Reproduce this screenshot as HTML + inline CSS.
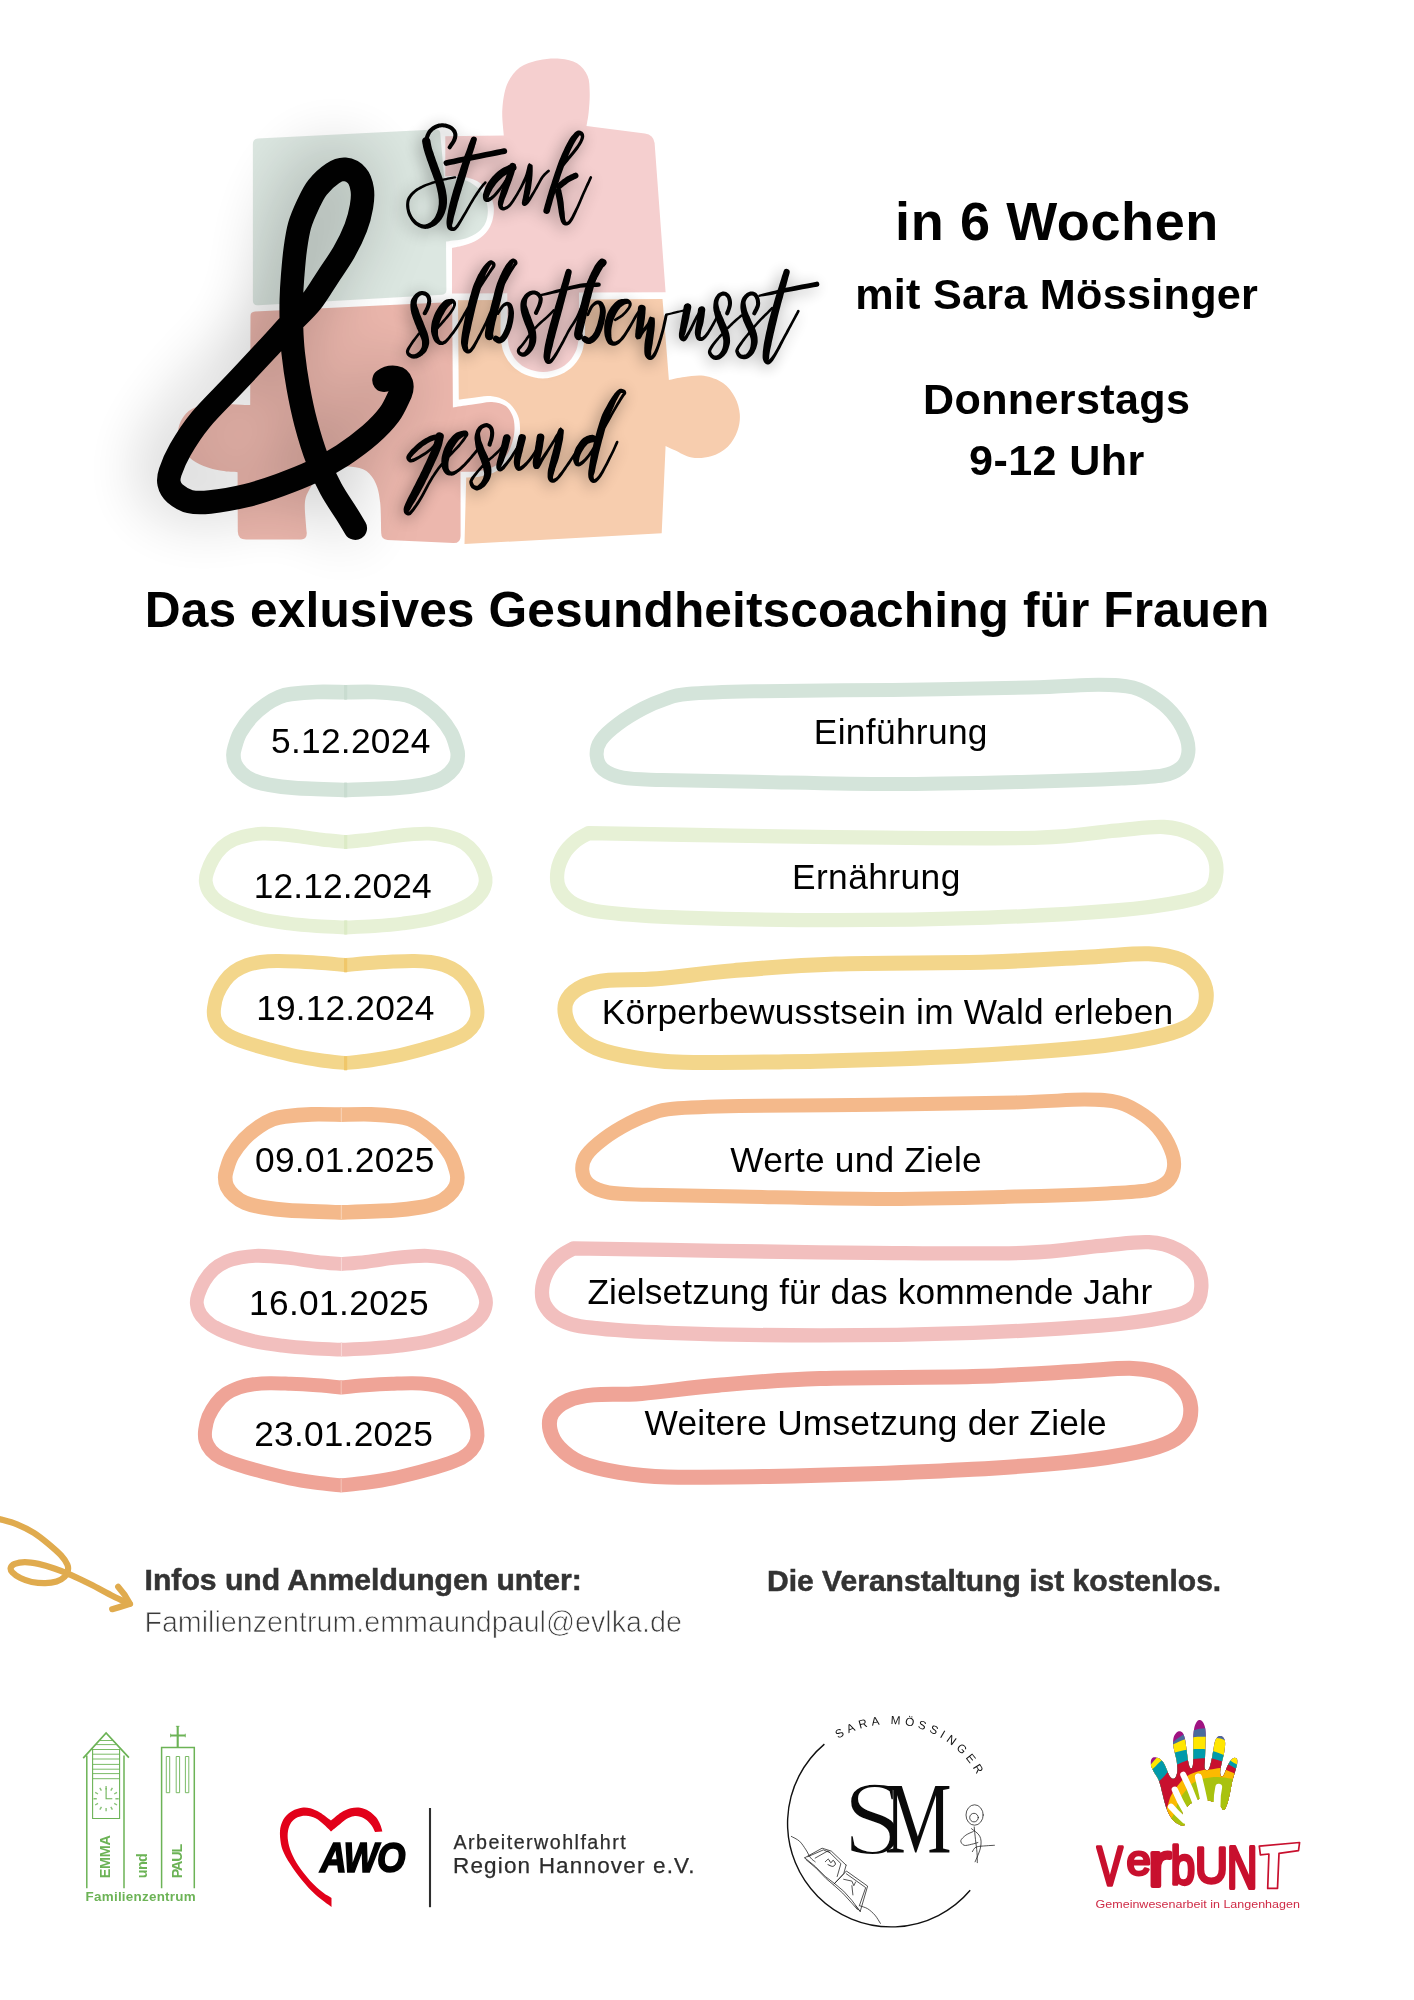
<!DOCTYPE html>
<html lang="de">
<head>
<meta charset="utf-8">
<title>Stark, selbstbewusst &amp; gesund</title>
<style>
html,body{margin:0;padding:0;background:#fff;}
body{width:1414px;height:2000px;overflow:hidden;position:relative;font-family:"Liberation Sans",sans-serif;}
svg{position:absolute;left:0;top:0;display:block;}
text{font-family:"Liberation Sans",sans-serif;}
.b{font-weight:bold;}
.serif{font-family:"Liberation Serif",serif;}
</style>
</head>
<body>
<svg id="page" width="1414" height="2000" viewBox="0 0 1414 2000">
<g opacity="0.999">
<!-- header art -->
<defs>
<filter id="glowA" x="-100%" y="-60%" width="300%" height="220%" color-interpolation-filters="sRGB"><feGaussianBlur stdDeviation="34"/></filter>
<filter id="glowT" x="-20%" y="-40%" width="140%" height="180%" color-interpolation-filters="sRGB"><feGaussianBlur stdDeviation="8"/></filter>
</defs>
<g id="puzzle">
<path d="M252.9 144.0Q252.9 138.9 258.0 138.5L421.0 130.2L436.0 129.4Q440.0 129.3 440.2 133.0L444.3 179.2L444.3 179.2C447.5 179.3 458.1 178.8 463.4 180.0C468.7 181.2 472.6 183.6 476.1 186.4C479.6 189.2 482.7 193.1 484.6 197.0C486.6 200.9 487.6 205.4 487.8 209.7C488.0 213.9 487.3 218.8 485.7 222.5C484.1 226.2 481.6 229.3 478.2 232.0C474.8 234.7 469.7 237.0 465.5 238.4C461.3 239.8 456.1 240.0 452.8 240.5C449.6 241.0 447.1 241.4 446.0 241.6L446.4 290.0Q446.4 294.3 442.0 294.7L258.0 305.2Q252.9 305.4 252.9 300.5Z" fill="#dce7e1"/>
<path d="M445.3 136.2L503.8 135.5L503.8 135.5C503.6 131.2 501.8 118.5 502.3 110.0C502.8 101.5 504.1 91.7 507.0 84.6C509.9 77.5 514.4 71.7 519.7 67.6C525.0 63.5 532.1 61.7 538.8 60.2C545.5 58.7 553.6 58.2 560.0 58.7C566.4 59.2 572.4 60.4 577.0 63.3C581.6 66.2 585.5 71.1 587.6 76.1C589.7 81.0 589.5 87.0 589.7 93.0C589.9 99.0 589.2 106.6 588.7 112.1C588.2 117.6 586.9 123.6 586.5 125.9L644.9 133.4Q653.5 134.5 654.6 143.0L665.6 292.3L579.0 292.6L579.0 336.0L579.0 336.0C578.6 338.2 578.1 345.3 576.5 349.5C574.9 353.7 572.5 357.8 569.5 361.0C566.5 364.2 562.9 367.0 558.5 368.8C554.1 370.6 548.3 372.0 543.2 372.0C538.1 372.0 532.2 370.6 527.8 368.8C523.4 367.0 519.8 364.2 516.8 361.0C513.8 357.8 511.4 353.7 509.8 349.5C508.2 345.3 507.7 338.2 507.3 336.0L507.3 293.2L452.0 293.4L452.0 248.0L452.0 248.0C454.2 247.5 460.7 246.4 465.0 245.0C469.3 243.6 474.2 242.0 478.0 239.5C481.8 237.0 485.5 233.6 488.0 230.0C490.5 226.4 492.1 222.2 493.0 218.0C493.9 213.8 494.3 209.5 493.5 205.0C492.7 200.5 490.8 195.0 488.0 191.0C485.2 187.0 481.3 183.4 477.0 181.0C472.7 178.6 467.3 177.3 462.0 176.5C456.7 175.7 448.1 176.3 445.3 176.3Z" fill="#f5cfcf"/>
<path d="M250.5 316.0Q250.5 311.9 255.0 311.6L448.0 302.2Q452.0 302.0 452.2 306.0L452.9 407.4L452.9 407.4C455.9 407.0 464.5 405.7 471.0 404.8C477.5 403.9 486.1 401.7 491.9 401.9C497.7 402.1 502.2 403.6 505.7 406.0C509.1 408.4 511.1 412.6 512.6 416.1C514.1 419.6 514.4 423.4 514.5 427.2C514.6 431.0 514.1 435.0 513.1 439.1C512.1 443.2 510.5 448.3 508.5 452.0C506.5 455.7 503.9 458.6 501.1 461.2C498.3 463.8 495.7 465.9 491.9 467.6C488.1 469.3 483.3 470.6 478.1 471.3C472.9 472.0 463.4 471.7 460.5 471.8L460.6 536.0Q460.6 543.3 453.4 543.1L387.6 539.9Q381.3 539.6 381.2 533.0L381.2 533.0C381.0 528.0 381.1 511.0 380.2 502.8C379.3 494.6 378.2 489.0 375.9 483.7C373.6 478.4 370.4 473.8 366.4 471.0C362.3 468.2 356.9 467.2 351.6 466.7C346.3 466.2 339.9 466.4 334.6 467.8C329.3 469.2 323.9 471.5 319.7 475.2C315.4 478.9 311.6 485.4 309.1 490.0C306.6 494.6 305.4 497.1 304.9 502.8C304.4 508.5 305.6 519.0 305.9 524.0C306.2 529.0 306.6 531.5 306.8 533.0Q306.8 539.3 301.0 539.5L246.0 539.5Q238.0 539.5 237.8 531.5L237.6 472.2L237.6 472.2C235.0 472.0 227.6 471.9 221.9 470.8C216.2 469.8 209.0 468.1 203.6 465.9C198.2 463.7 193.2 460.9 189.4 457.4C185.6 453.9 182.9 449.2 181.0 445.0C179.1 440.8 177.8 436.3 178.0 432.0C178.2 427.7 179.7 422.8 182.0 419.0C184.3 415.2 187.3 411.5 192.0 409.0C196.7 406.5 202.7 404.8 210.0 404.0C217.3 403.2 229.4 404.2 236.1 404.4C242.8 404.6 247.8 405.0 250.2 405.1Z" fill="#ecb7ad"/>
<path d="M458.0 300.3L500.5 300.0L500.5 336.0L500.5 336.0C501.0 338.7 501.6 347.1 503.5 352.0C505.4 356.9 508.4 361.8 512.0 365.5C515.6 369.2 519.9 372.3 525.0 374.5C530.1 376.7 536.9 378.5 542.8 378.5C548.7 378.5 555.5 376.7 560.6 374.5C565.7 372.3 570.0 369.2 573.6 365.5C577.2 361.8 580.1 356.9 582.0 352.0C583.9 347.1 584.5 338.7 585.0 336.0L585.0 299.5L662.5 299.0L668.9 380.0L668.9 380.0C671.5 379.5 678.7 377.7 684.5 377.0C690.3 376.3 697.3 374.8 703.7 375.8C710.1 376.8 717.8 379.4 723.0 383.0C728.2 386.6 732.2 392.2 735.0 397.4C737.8 402.6 739.4 408.7 739.8 414.3C740.2 419.9 739.4 425.7 737.4 431.1C735.4 436.5 732.2 442.5 727.8 446.7C723.4 450.9 717.0 454.5 711.0 456.3C705.0 458.1 697.7 458.6 691.7 457.6C685.7 456.6 679.2 452.2 674.9 450.3C670.5 448.4 667.1 446.7 665.6 446.0L661.7 533.3L464.5 544.1L466.2 477.5L466.2 477.5C468.4 477.4 474.7 477.5 479.1 476.8C483.6 476.1 488.8 474.9 492.9 473.1C497.0 471.3 500.5 468.9 503.9 465.8C507.3 462.8 510.7 458.9 513.1 454.8C515.6 450.7 517.5 445.6 518.6 441.0C519.8 436.4 520.1 431.5 520.0 427.2C519.9 422.9 519.3 419.0 517.7 415.2C516.1 411.4 513.4 407.1 510.3 404.2C507.2 401.3 503.1 399.2 499.3 397.8C495.5 396.4 491.6 395.9 487.3 395.9C483.0 395.9 478.2 397.2 473.5 397.8C468.8 398.4 461.2 399.3 458.8 399.6Z" fill="#f7cdae"/>
</g>
<path d="M355.3 528.1C353.9 525.8 351.0 520.8 346.9 514.3C342.8 507.7 335.8 498.0 330.9 488.8C325.9 479.6 321.4 470.1 317.2 459.1C313.0 448.2 309.1 435.1 305.9 423.1C302.7 411.1 300.2 398.7 298.1 387.0C296.0 375.3 294.3 363.0 293.2 353.0C292.1 343.0 291.8 335.9 291.5 327.0C291.2 318.1 291.1 308.1 291.3 299.7C291.5 291.3 291.9 284.9 292.6 276.4C293.3 267.9 294.1 257.3 295.3 248.8C296.5 240.3 297.5 232.9 299.6 225.5C301.7 218.1 305.1 210.7 308.1 204.3C311.1 197.9 313.5 192.4 317.6 187.3C321.7 182.2 328.0 176.5 332.5 173.5C337.0 170.5 340.7 169.0 344.8 169.3C348.9 169.7 354.0 172.2 356.9 175.6C359.8 178.9 361.4 184.3 362.2 189.4C363.0 194.5 362.6 200.0 361.5 206.4C360.4 212.8 358.7 220.0 355.8 227.6C352.9 235.2 348.7 243.9 344.1 252.0C339.5 260.1 333.7 268.1 328.2 276.4C322.7 284.7 317.6 293.9 311.2 301.9C304.8 309.8 297.4 316.2 290.0 324.1C282.6 332.1 275.9 339.7 266.7 349.6C257.5 359.5 245.9 371.8 234.9 383.5C223.9 395.2 209.6 408.9 200.5 419.9C191.4 430.9 185.3 440.9 180.3 449.6C175.3 458.3 172.2 466.2 170.3 471.9C168.4 477.5 168.3 479.9 169.1 483.5C169.9 487.1 171.5 490.5 175.0 493.5C178.5 496.5 184.1 500.2 189.9 501.6C195.7 503.0 200.6 503.0 210.0 502.0C219.4 501.0 234.4 498.4 246.1 495.6C257.8 492.8 268.7 489.1 280.0 485.0C291.3 480.9 303.6 476.1 314.0 471.2C324.4 466.2 333.2 461.4 342.6 455.3C352.0 449.2 362.4 441.5 370.2 434.7C378.0 427.9 384.2 421.5 389.3 414.6C394.4 407.7 398.6 396.9 400.5 393.4C403.5 386 401.5 378.5 395.5 377.5C391 376.8 387 378 384.0 380.2" fill="none" stroke="#000" stroke-width="23.5" stroke-linecap="round" stroke-linejoin="round" filter="url(#glowA)" opacity="0.34" transform="translate(-8,-5)"/>
<g filter="url(#glowT)" opacity="0.4" transform="translate(-2,3)"><g fill="#000" stroke="none"><path d="M451.3 148.5L451.8 147.8L452.6 146.6L453.5 145.3L454.5 143.8L455.4 142.3L456.1 140.9L456.6 139.6L457.0 138.4L457.2 137.1L457.4 135.8L457.4 134.5L457.2 133.2L456.8 131.9L456.3 130.6L455.6 129.5L454.7 128.4L453.8 127.4L452.7 126.4L451.5 125.7L450.1 125.0L448.7 124.4L447.2 124.0L445.8 123.6L444.4 123.4L443.0 123.3L441.6 123.3L440.1 123.4L438.8 123.6L437.4 123.9L436.0 124.4L434.7 125.0L433.4 125.7L432.1 126.5L430.9 127.4L429.8 128.5L428.7 129.6L427.8 130.8L427.0 132.1L426.3 133.4L425.7 134.8L425.2 136.2L424.7 137.7L424.4 139.2L424.1 140.9L423.9 142.6L423.8 144.2L423.7 145.4L423.7 146.3A2.0 2.0 0 0 0 427.7 146.7L427.8 145.7L427.9 144.5L428.0 143.0L428.2 141.5L428.4 140.0L428.7 138.7L429.1 137.6L429.5 136.4L430.0 135.2L430.6 134.1L431.2 133.1L431.9 132.2L432.6 131.4L433.5 130.6L434.5 129.9L435.5 129.2L436.5 128.7L437.6 128.2L438.6 127.9L439.6 127.6L440.6 127.4L441.7 127.3L442.8 127.3L443.8 127.4L445.0 127.6L446.1 127.9L447.3 128.3L448.5 128.7L449.5 129.2L450.3 129.8L451.0 130.3L451.6 131.0L452.2 131.8L452.6 132.5L453.0 133.3L453.2 134.0L453.3 134.8L453.3 135.5L453.2 136.4L453.0 137.3L452.7 138.3L452.3 139.3L451.8 140.4L451.0 141.7L450.1 143.0L449.2 144.3L448.5 145.4L447.9 146.3A2.0 2.0 0 0 0 451.3 148.5Z"/><path d="M422.1 141.8L422.3 142.5L422.4 143.5L422.7 144.7L422.9 146.1L423.2 147.6L423.6 149.0L424.0 150.4L424.4 151.8L424.8 153.2L425.3 154.7L425.8 156.2L426.4 157.9L427.0 159.9L427.8 162.0L428.6 164.2L429.4 166.4L430.2 168.7L431.0 170.9L431.8 173.1L432.6 175.3L433.4 177.4L434.2 179.6L434.9 181.6L435.5 183.6L436.1 185.6L436.6 187.6L437.1 189.5L437.5 191.4L437.9 193.2L438.2 194.9L438.4 196.6L438.6 198.2L438.8 199.7L438.8 201.2L438.8 202.6L438.8 204.0L438.6 205.4L438.4 206.8L438.2 208.2L437.9 209.6L437.5 210.9L437.1 212.2L436.6 213.4L436.1 214.6L435.6 215.8L435.0 216.9L434.3 218.0L433.6 218.9L432.8 219.7L432.0 220.6L431.2 221.4L430.3 222.2L429.3 222.8L428.4 223.3L427.5 223.7L426.7 224.0L425.9 224.3L425.1 224.5L424.3 224.5L423.4 224.4L422.4 224.2L421.3 223.9L420.1 223.4L418.9 222.8L417.8 222.2L416.8 221.4L415.8 220.5L414.9 219.5L413.9 218.4L413.0 217.2L412.2 216.0L411.6 214.8L411.0 213.5L410.5 212.3L410.1 211.0L409.8 209.7L409.5 208.4L409.4 207.1L409.3 205.7L409.2 204.4L409.3 203.1L409.4 201.9L409.7 200.7L410.1 199.5L410.7 198.4L411.4 197.2L412.3 196.0L413.3 194.8L414.4 193.7L415.6 192.6L416.9 191.6L418.2 190.6L419.6 189.7L421.1 188.9L422.7 188.0L424.4 187.2L426.3 186.3L428.4 185.5L430.6 184.7L432.9 183.9L435.1 183.2L437.1 182.5L439.1 181.9L441.0 181.4L442.9 181.0L444.7 180.5L446.4 180.2L448.0 179.8L449.6 179.5L451.0 179.2L452.4 178.9L453.6 178.7L454.6 178.5L455.4 178.4A1.1 1.1 0 0 0 455.0 176.2L454.2 176.3L453.2 176.5L452.0 176.7L450.6 177.0L449.1 177.3L447.6 177.6L446.0 178.0L444.2 178.3L442.4 178.7L440.5 179.2L438.5 179.7L436.5 180.3L434.4 180.9L432.1 181.6L429.8 182.4L427.6 183.2L425.4 184.0L423.4 184.8L421.5 185.7L419.8 186.5L418.2 187.4L416.6 188.3L415.2 189.3L413.8 190.4L412.5 191.6L411.2 192.8L410.0 194.1L409.0 195.4L408.0 196.8L407.3 198.3L406.7 199.8L406.4 201.3L406.2 202.9L406.1 204.4L406.1 205.9L406.2 207.3L406.4 208.8L406.7 210.3L407.0 211.8L407.4 213.3L408.0 214.8L408.6 216.2L409.4 217.6L410.2 219.1L411.1 220.5L412.1 221.8L413.2 223.1L414.4 224.2L415.7 225.2L417.0 226.1L418.4 226.9L419.8 227.6L421.2 228.2L422.6 228.6L424.0 228.8L425.3 228.9L426.6 228.8L427.9 228.7L429.2 228.3L430.4 227.9L431.7 227.3L433.0 226.7L434.4 226.0L435.7 225.2L437.0 224.2L438.2 223.1L439.3 221.9L440.3 220.7L441.4 219.4L442.3 218.0L443.2 216.6L443.9 215.0L444.6 213.4L445.2 211.8L445.7 210.1L446.2 208.4L446.6 206.6L446.8 204.8L447.0 202.9L447.0 201.1L447.0 199.3L446.9 197.4L446.7 195.6L446.4 193.7L446.1 191.7L445.7 189.6L445.2 187.6L444.7 185.5L444.1 183.3L443.5 181.2L442.8 179.0L442.0 176.8L441.2 174.6L440.4 172.4L439.6 170.2L438.8 168.1L438.0 165.9L437.2 163.6L436.4 161.4L435.6 159.2L434.9 157.1L434.2 155.3L433.7 153.6L433.2 152.1L432.7 150.7L432.3 149.4L431.9 148.2L431.6 147.0L431.3 145.7L431.1 144.5L430.8 143.2L430.6 142.0L430.4 141.0L430.3 140.2A4.2 4.2 0 0 0 422.1 141.8Z"/><path d="M471.2 138.1L470.8 139.0L470.3 140.3L469.7 141.8L469.0 143.5L468.3 145.3L467.7 147.2L467.0 149.3L466.2 151.4L465.3 153.8L464.4 156.1L463.6 158.6L462.7 161.0L462.0 163.4L461.1 165.8L460.3 168.3L459.5 170.7L458.7 173.2L457.9 175.6L457.1 178.1L456.4 180.5L455.6 183.0L454.8 185.4L454.0 187.9L453.2 190.4L452.5 192.9L451.8 195.4L451.1 198.0L450.5 200.5L449.8 203.0L449.2 205.4L448.7 207.7L448.2 210.1L447.8 212.4L447.4 214.6L447.1 216.7L446.8 218.5L446.6 220.2L446.5 221.7L446.5 223.2L446.6 224.5L446.8 225.9L447.1 227.2L447.6 228.5L448.5 229.6L449.6 230.3L450.7 230.8L451.8 231.0L452.8 231.1L453.7 231.0L454.7 230.8L455.6 230.2L456.4 229.5L457.2 228.6L458.2 227.4L459.2 225.9L460.4 224.1L461.6 222.0L462.9 219.8L464.2 217.5L465.5 215.2L467.0 212.7L468.5 210.0L470.1 207.3L471.6 204.5L473.2 201.9L474.6 199.6L475.9 197.4L477.3 195.4L478.5 193.5L479.8 191.7L480.9 190.1L481.9 188.7L482.9 187.4L483.8 186.3L484.6 185.3L485.4 184.5L486.0 183.8L486.5 183.2A1.3 1.3 0 0 0 484.5 181.6L484.1 182.1L483.5 182.8L482.7 183.6L481.8 184.6L480.9 185.8L479.9 187.1L478.8 188.6L477.7 190.3L476.4 192.1L475.1 194.0L473.8 196.0L472.4 198.2L471.0 200.6L469.4 203.2L467.8 206.0L466.2 208.7L464.7 211.4L463.3 213.8L461.9 216.1L460.5 218.4L459.2 220.6L457.9 222.6L456.8 224.2L455.8 225.6L455.0 226.5L454.3 227.1L453.8 227.3L453.5 227.3L453.3 227.3L453.0 227.3L452.7 227.2L452.5 227.0L452.3 226.7L452.2 226.3L452.2 226.0L452.1 225.8L452.1 225.3L452.2 224.6L452.5 223.7L452.8 222.6L453.1 221.2L453.4 219.7L453.7 217.9L454.2 216.0L454.8 213.9L455.4 211.7L456.0 209.5L456.6 207.2L457.2 204.9L457.8 202.5L458.6 200.1L459.3 197.6L460.0 195.1L460.8 192.6L461.5 190.2L462.2 187.8L463.0 185.3L463.7 182.9L464.5 180.4L465.3 178.0L466.0 175.5L466.8 173.0L467.5 170.5L468.2 168.0L468.9 165.6L469.7 163.2L470.4 160.8L471.2 158.4L471.9 156.0L472.6 153.6L473.3 151.4L473.9 149.4L474.6 147.5L475.1 145.6L475.7 143.9L476.1 142.3L476.5 141.0L476.8 140.1A3.0 3.0 0 0 0 471.2 138.1Z"/><path d="M447.0 165.8L450.1 165.1L454.4 164.2L459.5 163.1L464.9 162.0L470.4 160.8L475.6 159.8L480.7 158.7L486.4 157.6L492.0 156.5L497.2 155.4L501.7 154.5L504.9 153.9A2.8 2.8 0 0 0 503.7 148.3L500.5 149.0L496.1 149.8L490.9 150.9L485.2 152.0L479.6 153.2L474.4 154.2L469.3 155.3L463.8 156.4L458.3 157.6L453.2 158.7L448.9 159.6L445.8 160.2A2.8 2.8 0 0 0 447.0 165.8Z"/><path d="M511.0 164.1L510.1 164.6L508.8 165.1L507.1 165.9L505.4 166.7L503.6 167.6L501.9 168.6L500.4 169.5L499.0 170.5L497.7 171.6L496.3 172.7L495.0 173.9L493.8 175.2L492.5 176.5L491.3 177.9L490.1 179.5L489.0 181.0L487.9 182.5L487.0 184.1L486.1 185.7L485.3 187.4L484.7 189.0L484.2 190.6L483.7 192.0L483.3 193.3L483.0 194.5L482.9 195.7L482.9 196.8L483.0 197.9L483.3 198.9L483.6 199.9L484.2 200.8L485.0 201.5L486.1 202.0L487.3 202.1L488.4 201.9L489.4 201.6L490.4 201.0L491.4 200.3L492.4 199.5L493.5 198.5L494.6 197.4L495.8 196.2L497.0 194.9L498.2 193.5L499.4 191.9L500.7 190.2L501.9 188.5L503.2 186.8L504.5 185.0L505.8 183.0L507.1 181.0L508.4 179.1L509.5 177.2L510.5 175.7L511.3 174.3L512.0 173.0L512.6 171.9L513.1 170.9L513.4 170.2L513.7 169.6A1.3 1.3 0 0 0 511.5 168.4L511.2 169.0L510.8 169.8L510.3 170.7L509.8 171.8L509.1 173.0L508.3 174.3L507.3 175.9L506.2 177.7L504.9 179.6L503.6 181.5L502.3 183.5L501.0 185.2L499.8 186.9L498.5 188.5L497.2 190.1L496.0 191.6L494.7 193.0L493.6 194.2L492.5 195.2L491.4 196.1L490.4 196.8L489.4 197.3L488.6 197.8L488.0 198.0L487.7 198.1L487.6 198.0L487.8 197.8L488.1 197.8L488.3 197.9L488.4 197.9L488.4 197.9L488.5 197.7L488.7 197.3L488.9 196.8L489.2 196.1L489.5 195.3L489.9 194.2L490.4 193.0L491.1 191.7L491.8 190.4L492.5 189.1L493.2 187.9L494.1 186.7L495.0 185.4L496.0 184.1L497.1 182.8L498.2 181.6L499.2 180.4L500.3 179.4L501.4 178.4L502.4 177.5L503.6 176.6L504.7 175.8L505.9 175.0L507.2 174.3L508.7 173.5L510.3 172.8L511.8 172.1L513.2 171.5L514.2 171.1A3.8 3.8 0 0 0 511.0 164.1Z"/><path d="M509.3 165.4L509.0 166.6L508.5 168.1L508.0 169.9L507.4 171.9L506.8 174.0L506.2 175.9L505.5 177.9L504.8 180.1L504.0 182.3L503.2 184.5L502.4 186.7L501.7 188.8L501.0 190.8L500.4 192.8L499.8 194.9L499.2 196.8L498.7 198.6L498.3 200.2L498.0 201.6L497.9 202.8L497.9 204.0L498.0 205.1L498.3 206.1L498.6 207.2L499.0 208.1L499.7 209.0L500.6 209.7L501.7 210.2L502.9 210.5L504.1 210.4L505.3 210.1L506.4 209.6L507.6 208.9L508.8 208.0L510.1 206.9L511.4 205.5L512.7 203.8L514.1 201.8L515.5 199.5L517.0 197.1L518.4 194.7L519.7 192.3L521.1 190.0L522.5 187.5L523.8 184.9L525.1 182.4L526.3 179.9L527.4 177.6L528.4 175.1L529.4 172.5L530.3 170.0L531.1 167.9L531.7 166.5L531.1 166.9L528.1 165.7L528.0 166.6L527.7 168.4L527.3 170.5L527.0 172.8L526.7 174.9L526.5 176.9L526.2 179.0L525.8 181.1L525.4 183.3L525.1 185.4L524.7 187.5L524.4 189.4L524.0 191.5L523.7 193.4L523.3 195.3L523.0 197.0L522.7 198.4L522.4 199.4L522.2 200.4L522.1 201.3L521.9 202.1L521.8 203.2L522.3 205.0L523.8 205.9L525.0 205.9L526.1 205.5L527.1 204.8L528.0 203.9L529.0 202.8L530.1 201.3L531.2 199.4L532.5 197.3L533.8 195.0L535.1 192.7L536.3 190.6L537.6 188.4L538.9 186.0L540.1 183.7L541.3 181.5L542.5 179.5L543.6 177.8L544.7 176.4L545.8 175.2L546.8 174.2L547.9 173.3L548.7 172.6L549.4 172.0A1.3 1.3 0 0 0 547.6 170.0L547.0 170.6L546.1 171.3L545.1 172.2L543.9 173.3L542.6 174.7L541.4 176.2L540.2 178.1L539.0 180.2L537.8 182.5L536.5 184.8L535.3 187.1L534.1 189.2L532.8 191.4L531.4 193.6L530.1 195.8L528.7 197.8L527.6 199.5L526.6 200.8L525.8 201.6L525.2 202.0L524.7 202.0L524.6 201.9L525.0 201.8L525.9 202.4L526.3 203.5L526.4 203.7L526.8 203.2L527.3 202.3L527.9 201.2L528.3 199.8L528.7 198.3L529.1 196.6L529.6 194.7L530.1 192.7L530.5 190.6L530.9 188.5L531.2 186.4L531.5 184.2L531.8 182.0L532.1 179.7L532.3 177.5L532.5 175.5L532.6 173.4L532.7 171.0L532.7 168.7L532.7 166.7L532.5 165.1L529.1 163.1L527.8 164.9L527.3 166.7L526.8 168.9L526.2 171.5L525.5 174.1L524.6 176.4L523.6 178.7L522.5 181.1L521.3 183.7L520.1 186.2L518.8 188.7L517.5 191.1L516.1 193.4L514.7 195.8L513.2 198.1L511.8 200.2L510.5 202.1L509.2 203.7L508.1 204.8L507.0 205.7L506.0 206.3L505.1 206.6L504.3 206.9L503.7 207.0L503.3 207.0L503.2 206.8L503.1 206.6L503.0 206.3L502.9 206.0L502.8 205.6L502.8 205.3L502.9 204.9L503.0 204.4L503.3 203.7L503.6 202.8L503.9 201.6L504.3 200.2L504.9 198.6L505.6 196.9L506.4 195.0L507.2 193.0L507.9 191.0L508.6 188.9L509.4 186.8L510.3 184.6L511.1 182.3L511.9 180.2L512.6 178.1L513.3 176.0L514.0 173.9L514.6 171.9L515.1 170.0L515.5 168.5L515.9 167.4A3.4 3.4 0 0 0 509.3 165.4Z"/><path d="M562.1 168.8L562.9 167.8L564.0 166.4L565.3 164.8L566.7 163.1L568.2 161.3L569.5 159.6L570.9 157.9L572.3 156.2L573.8 154.4L575.2 152.7L576.6 151.0L577.8 149.4L578.8 148.0L579.7 146.6L580.6 145.3L581.3 144.1L582.0 142.9L582.5 141.8L583.0 140.7L583.4 139.7L583.8 138.8L584.0 137.8L584.2 136.9L584.2 136.0L584.1 135.0L583.9 134.1L583.5 133.3L583.0 132.5L582.4 131.8L581.7 131.4L581.0 131.1L580.3 130.7L579.2 130.5L578.0 130.6L576.8 131.0L575.7 131.7L574.7 132.6L573.7 133.7L572.6 134.9L571.4 136.2L570.3 137.8L569.2 139.5L568.1 141.4L567.0 143.5L565.8 145.7L564.7 148.0L563.6 150.4L562.5 152.7L561.5 154.9L560.6 157.2L559.6 159.5L558.7 161.8L557.8 164.2L556.9 166.7L556.0 169.4L555.0 172.2L554.1 175.0L553.1 177.9L552.2 180.7L551.4 183.4L550.5 186.0L549.7 188.6L548.9 191.1L548.2 193.5L547.4 195.9L546.8 198.2L546.1 200.4L545.5 202.7L544.8 204.9L544.3 206.9L543.9 208.5L543.5 209.7A3.3 3.3 0 0 0 549.9 211.5L550.2 210.2L550.6 208.6L551.2 206.6L551.8 204.5L552.4 202.2L553.0 200.0L553.7 197.8L554.4 195.5L555.2 193.1L556.0 190.6L556.8 188.0L557.6 185.4L558.5 182.7L559.4 179.9L560.3 177.1L561.2 174.2L562.2 171.5L563.1 168.9L564.0 166.5L564.9 164.1L565.7 161.9L566.6 159.7L567.5 157.5L568.5 155.3L569.5 153.1L570.5 150.8L571.6 148.6L572.6 146.4L573.6 144.4L574.6 142.7L575.5 141.2L576.4 139.8L577.2 138.5L578.0 137.4L578.7 136.5L579.3 135.9L579.6 135.6L579.6 135.5L579.4 135.4L579.4 135.2L579.5 135.2L579.7 135.2L579.9 135.3L580.0 135.3L580.3 135.4L580.5 135.7L580.7 135.9L580.8 136.2L580.8 136.6L580.7 137.2L580.6 137.9L580.4 138.6L580.1 139.5L579.7 140.4L579.2 141.4L578.6 142.5L577.9 143.7L577.1 144.9L576.2 146.2L575.2 147.6L574.1 149.1L572.8 150.7L571.4 152.4L569.9 154.2L568.4 155.9L567.1 157.6L565.7 159.3L564.3 161.1L562.9 162.8L561.6 164.5L560.5 165.8L559.7 166.8A1.6 1.6 0 0 0 562.1 168.8Z"/><path d="M574.3 172.9L573.4 173.3L572.2 173.9L570.7 174.6L569.0 175.4L567.3 176.3L565.7 177.3L564.1 178.4L562.4 179.6L560.8 180.9L559.3 182.1L558.1 183.2L557.2 183.9A3.0 3.0 0 0 0 561.0 188.5L561.9 187.8L563.1 186.8L564.6 185.6L566.1 184.4L567.6 183.2L568.9 182.3L570.2 181.5L571.7 180.7L573.3 180.0L574.7 179.3L576.0 178.7L576.9 178.3A3.0 3.0 0 0 0 574.3 172.9Z"/><path d="M554.9 191.5L555.1 192.6L555.5 194.1L555.9 195.8L556.3 197.7L556.7 199.6L557.1 201.4L557.3 203.1L557.6 205.0L557.9 206.8L558.2 208.7L558.5 210.6L558.7 212.3L559.0 214.0L559.3 215.6L559.7 217.2L560.1 218.8L560.5 220.2L560.9 221.5L561.4 222.6L562.1 223.6L562.8 224.4L563.8 225.0L564.9 225.4L565.9 225.6L566.9 225.5L567.8 225.2L568.9 224.7L569.9 223.9L570.8 222.9L571.9 221.6L572.9 219.9L574.1 217.7L575.2 215.4L576.4 212.9L577.6 210.3L578.7 207.9L579.8 205.5L580.9 203.1L581.9 200.6L583.0 198.1L584.0 195.6L585.1 193.1L586.3 190.5L587.6 187.6L589.0 184.7L590.2 182.0L591.2 179.7L592.0 178.1A1.3 1.3 0 0 0 589.6 176.9L588.8 178.6L587.8 180.9L586.5 183.6L585.2 186.5L583.9 189.4L582.7 192.1L581.6 194.6L580.5 197.1L579.5 199.5L578.4 202.0L577.3 204.4L576.3 206.7L575.1 209.1L573.9 211.6L572.6 214.1L571.4 216.4L570.3 218.3L569.3 219.8L568.5 220.8L567.8 221.4L567.2 221.7L566.8 221.8L566.4 221.8L566.1 221.8L566.0 221.8L566.0 221.7L566.0 221.5L565.9 221.2L565.7 220.6L565.5 219.9L565.2 219.0L565.0 217.8L564.9 216.4L564.8 214.8L564.7 213.2L564.5 211.5L564.2 209.8L564.1 208.0L563.9 206.1L563.8 204.2L563.6 202.3L563.3 200.4L563.0 198.5L562.6 196.4L562.2 194.5L561.8 192.7L561.5 191.2L561.3 190.1A3.3 3.3 0 0 0 554.9 191.5Z"/><path d="M426.6 314.2L427.0 313.5L427.5 312.5L428.1 311.4L428.8 310.1L429.4 308.8L429.9 307.5L430.3 306.3L430.7 305.1L430.9 303.9L431.1 302.6L431.3 301.4L431.2 300.2L431.1 299.0L430.9 297.8L430.5 296.6L430.0 295.5L429.3 294.5L428.5 293.5L427.5 292.7L426.4 292.1L425.3 291.6L424.0 291.2L422.7 291.0L421.4 291.0L420.1 291.2L418.9 291.6L417.7 292.2L416.5 292.9L415.5 293.7L414.6 294.7L413.7 295.8L412.9 296.9L412.0 298.2L411.3 299.6L410.7 301.2L410.5 302.9L410.4 304.6L410.4 306.4L410.5 308.1L410.7 309.9L411.0 311.6L411.4 313.4L412.0 315.3L412.6 317.2L413.3 319.2L414.0 321.1L414.7 323.0L415.4 324.8L416.2 326.6L416.9 328.4L417.7 330.1L418.4 331.7L419.1 333.3L419.6 334.7L420.1 336.2L420.7 337.6L421.2 338.8L421.6 339.9L421.9 340.9L422.0 341.9L422.0 342.8L422.0 343.9L422.0 344.9L421.9 346.0L421.7 346.9L421.4 347.8L421.0 348.5L420.6 349.3L420.1 350.1L419.5 350.8L418.9 351.5L418.3 352.1L417.6 352.6L417.0 353.0L416.3 353.4L415.6 353.8L415.0 354.0L414.4 354.2L413.8 354.2L413.2 354.3L412.6 354.3L412.1 354.2L411.6 354.1L411.2 353.9L410.7 353.6L410.2 353.2L409.7 352.8L409.3 352.4L409.1 352.0L409.1 351.5L409.2 350.9L409.5 350.0L410.0 348.9L410.6 347.7L411.4 346.5L412.1 345.2L413.0 343.9L413.9 342.6L414.9 341.2L415.9 339.7L417.0 338.3L418.0 337.0L419.1 335.6L420.2 334.2L421.4 332.8L422.4 331.5L423.3 330.4L424.0 329.6A1.3 1.3 0 0 0 422.0 328.0L421.4 328.8L420.5 329.9L419.4 331.2L418.2 332.6L417.1 334.0L416.0 335.4L415.0 336.8L413.9 338.2L412.8 339.6L411.7 341.0L410.7 342.4L409.9 343.8L409.1 345.0L408.2 346.3L407.4 347.5L406.7 348.7L406.2 350.0L405.9 351.3L406.0 352.6L406.3 353.8L406.9 354.9L407.5 355.8L408.3 356.5L409.0 357.1L409.9 357.6L410.9 358.1L411.9 358.4L412.9 358.6L414.0 358.7L415.0 358.6L416.1 358.4L417.2 358.2L418.3 357.8L419.3 357.3L420.4 356.8L421.3 356.1L422.3 355.4L423.2 354.6L424.2 353.8L425.2 352.8L426.1 351.7L426.8 350.4L427.4 349.1L428.0 347.7L428.5 346.3L428.9 344.8L429.2 343.2L429.2 341.5L429.1 339.9L428.8 338.2L428.5 336.6L428.1 335.1L427.7 333.6L427.2 332.1L426.6 330.4L425.9 328.7L425.2 326.9L424.5 325.2L423.8 323.5L423.2 321.8L422.4 320.0L421.6 318.1L420.9 316.3L420.1 314.5L419.5 312.8L419.0 311.2L418.5 309.6L417.9 308.1L417.4 306.8L417.0 305.5L416.8 304.3L416.7 303.3L416.8 302.4L416.9 301.4L417.1 300.4L417.4 299.4L417.7 298.4L418.2 297.7L418.8 297.0L419.3 296.4L420.0 295.9L420.6 295.5L421.3 295.2L421.8 295.0L422.4 295.0L423.1 295.2L423.8 295.4L424.6 295.7L425.2 296.1L425.7 296.5L426.0 296.9L426.4 297.4L426.7 298.1L426.9 298.8L427.1 299.6L427.2 300.4L427.2 301.2L427.1 302.1L426.9 303.1L426.7 304.1L426.4 305.1L426.1 306.1L425.7 307.1L425.1 308.3L424.5 309.4L423.9 310.6L423.4 311.5L423.0 312.2A2.0 2.0 0 0 0 426.6 314.2Z"/><path d="M437.8 329.7L438.5 328.9L439.4 327.8L440.6 326.5L441.8 325.2L443.0 323.7L444.2 322.4L445.4 321.0L446.6 319.6L447.8 318.2L449.0 316.7L450.2 315.3L451.2 314.0L452.1 312.7L452.9 311.4L453.7 310.2L454.4 309.0L455.0 307.8L455.4 306.8L455.8 305.7L456.0 304.8L456.1 303.9L456.0 303.0L455.8 302.3L455.6 301.6L455.2 300.9L454.7 300.2L454.0 299.5L453.1 299.0L452.0 298.7L451.0 298.7L450.0 298.9L448.9 299.0L447.7 299.2L446.3 299.6L444.9 300.3L443.5 301.2L442.3 302.4L441.2 303.7L440.0 305.0L438.9 306.4L437.9 307.9L437.0 309.4L436.1 310.9L435.3 312.5L434.5 314.2L433.8 315.9L433.2 317.7L432.6 319.4L432.1 321.1L431.7 322.8L431.4 324.5L431.2 326.3L431.0 328.0L431.0 329.7L431.0 331.4L431.3 333.1L431.7 334.7L432.2 336.3L432.7 337.7L433.2 339.1L433.8 340.3L434.6 341.4L435.5 342.4L436.5 343.2L437.5 343.9L438.4 344.5L439.4 344.9L440.5 345.1L441.6 345.1L442.8 344.9L443.8 344.6L444.9 344.1L445.9 343.4L446.9 342.5L447.8 341.6L448.7 340.5L449.7 339.3L450.7 338.0L451.8 336.6L453.0 335.1L454.3 333.4L455.6 331.6L456.9 329.7L458.2 327.7L459.4 325.7L460.7 323.6L462.0 321.4L463.2 319.2L464.6 316.8L465.9 314.5L467.3 312.0L468.7 309.5L470.2 306.9L471.6 304.3L473.1 301.7L474.6 299.1L476.1 296.5L477.7 293.8L479.3 291.2L480.8 288.6L482.3 286.1L483.8 283.7L485.2 281.5L486.6 279.4L488.0 277.3L489.3 275.4L490.5 273.6L491.6 272.0L492.4 270.7L493.2 269.7L493.9 268.7L494.5 267.9L495.1 267.0L495.4 266.0L495.6 265.0L495.5 263.9L495.2 263.0L494.7 262.3L494.1 261.7L493.6 261.4L493.1 261.1L492.5 260.7L491.6 260.3L490.4 260.3L489.1 260.7L488.0 261.4L487.0 262.4L485.9 263.5L484.8 264.7L483.7 266.1L482.6 267.5L481.6 268.9L480.8 270.3L479.9 271.7L479.1 273.2L478.2 274.6L477.5 276.0L476.8 277.5L476.1 279.0L475.5 280.4L474.8 281.9L474.1 283.5L473.4 285.2L472.7 287.3L472.0 289.6L471.3 292.1L470.5 294.8L469.7 297.6L468.9 300.6L468.1 303.6L467.3 306.8L466.5 310.3L465.7 313.9L464.9 317.5L464.2 320.9L463.6 324.1L463.0 327.1L462.5 330.0L462.0 332.8L461.6 335.5L461.3 337.9L461.1 340.1L461.0 342.1L461.1 343.8L461.4 345.2L461.7 346.5L462.1 347.7L462.4 348.7L462.9 349.8L463.5 350.9L464.3 351.8L465.2 352.6L466.3 353.2L467.5 353.6L468.7 353.6L469.7 353.2L470.7 352.7L471.6 351.9L472.5 350.9L473.4 349.8L474.4 348.4L475.4 346.7L476.4 344.7L477.5 342.7L478.6 340.5L479.8 338.4L481.0 336.1L482.2 333.6L483.5 331.1L484.8 328.5L486.0 326.0L487.1 323.6L488.2 321.3L489.2 319.1L490.1 316.9L491.0 314.8L491.8 312.7L492.7 310.7L493.5 308.8L494.2 306.9L494.9 305.1L495.7 303.4L496.4 301.6L497.3 299.7L498.2 297.7L499.2 295.6L500.2 293.5L501.3 291.4L502.4 289.3L503.4 287.2L504.5 285.2L505.6 283.2L506.7 281.1L507.8 279.2L508.8 277.3L509.8 275.5L510.8 273.8L511.8 272.1L512.8 270.5L513.8 269.0L514.6 267.7L515.3 266.6L515.8 265.9L516.2 265.4L516.5 265.1L516.9 264.8L517.2 264.2L517.5 263.5L517.5 262.7L517.4 261.9L517.2 261.2L516.8 260.5L516.3 259.9L515.8 259.5L515.3 259.3L514.8 258.9L513.9 258.6L512.7 258.5L511.4 258.9L510.4 259.7L509.4 260.6L508.4 261.7L507.4 263.0L506.3 264.3L505.3 265.7L504.5 267.2L503.7 268.6L502.9 270.1L502.1 271.6L501.3 273.2L500.6 274.7L499.9 276.1L499.4 277.5L498.8 278.8L498.2 280.2L497.6 281.7L496.9 283.4L496.3 285.4L495.6 287.7L494.9 290.3L494.2 293.1L493.5 295.9L492.7 298.9L492.0 301.8L491.2 304.8L490.4 308.0L489.6 311.3L488.8 314.5L488.0 317.5L487.4 320.3L486.8 322.8L486.3 325.1L485.9 327.3L485.5 329.3L485.2 331.0L485.0 332.6L484.9 334.1L484.9 335.5L485.1 336.6L485.4 337.5L485.5 337.7L485.5 337.8A4.2 4.2 0 0 0 493.5 335.8L493.4 335.3L493.2 334.8L493.2 334.8L493.2 334.7L493.2 334.3L493.2 333.6L493.4 332.3L493.7 330.7L494.0 328.9L494.4 326.8L494.9 324.5L495.4 322.1L496.1 319.5L496.8 316.5L497.6 313.3L498.4 310.0L499.3 306.8L500.0 303.8L500.8 300.9L501.5 297.9L502.2 295.1L502.8 292.3L503.5 289.8L504.1 287.6L504.6 285.8L505.1 284.2L505.5 282.9L505.9 281.6L506.3 280.3L506.9 278.9L507.4 277.3L507.9 275.8L508.3 274.2L508.8 272.7L509.3 271.3L509.9 270.0L510.6 268.7L511.3 267.3L511.9 266.0L512.6 264.7L513.2 263.7L513.6 263.1L513.8 263.0L513.6 262.9L513.4 262.9L513.4 262.8L513.6 262.8L513.8 262.9L513.9 262.9L513.9 262.8L514.0 262.8L514.1 262.9L514.1 262.9L514.1 262.9L514.2 262.8L514.2 262.8L514.1 263.0L513.8 263.4L513.3 264.1L512.7 265.0L512.0 266.1L511.2 267.4L510.3 269.0L509.4 270.6L508.4 272.4L507.4 274.1L506.4 275.9L505.3 277.8L504.2 279.8L503.1 281.9L502.0 283.9L501.0 286.0L499.9 288.0L498.8 290.1L497.8 292.3L496.7 294.4L495.7 296.5L494.7 298.5L493.9 300.5L493.1 302.3L492.4 304.1L491.7 305.9L490.9 307.7L490.1 309.7L489.3 311.7L488.4 313.7L487.6 315.8L486.6 318.0L485.7 320.2L484.7 322.4L483.5 324.8L482.3 327.3L481.0 329.8L479.7 332.4L478.4 334.8L477.2 337.0L476.1 339.2L474.9 341.3L473.8 343.3L472.7 345.1L471.7 346.6L470.8 347.8L470.0 348.7L469.4 349.2L468.8 349.5L468.5 349.5L468.3 349.5L468.3 349.4L468.4 349.4L468.4 349.3L468.3 348.9L468.2 348.4L468.1 347.7L468.0 347.1L467.8 346.3L467.8 345.5L467.8 344.7L468.0 343.7L468.1 342.4L468.3 340.9L468.6 338.9L469.0 336.7L469.5 334.2L470.2 331.5L470.8 328.7L471.4 325.7L472.1 322.6L472.9 319.2L473.7 315.7L474.5 312.2L475.3 308.8L476.1 305.6L476.9 302.6L477.6 299.8L478.4 297.0L479.1 294.4L479.8 291.9L480.5 289.7L481.1 287.8L481.6 286.2L482.0 284.7L482.5 283.3L483.0 281.9L483.6 280.5L484.2 279.0L484.7 277.5L485.2 276.1L485.7 274.7L486.3 273.3L487.0 272.1L487.7 270.8L488.5 269.3L489.2 267.9L490.0 266.6L490.7 265.6L491.2 265.0L491.4 264.8L491.3 264.7L491.2 264.6L491.1 264.5L491.3 264.5L491.6 264.6L491.8 264.7L491.9 264.8L492.1 264.9L492.1 264.9L492.2 264.9L492.2 265.2L492.0 265.6L491.7 266.2L491.3 266.9L490.7 267.9L489.9 269.0L489.0 270.4L488.0 271.9L486.9 273.7L485.6 275.7L484.2 277.8L482.8 280.0L481.4 282.3L479.9 284.6L478.4 287.1L476.9 289.8L475.3 292.4L473.7 295.1L472.2 297.7L470.7 300.3L469.2 302.9L467.8 305.6L466.3 308.2L464.9 310.7L463.5 313.1L462.2 315.5L460.9 317.8L459.6 320.0L458.3 322.2L457.1 324.3L455.8 326.3L454.6 328.1L453.3 330.0L452.0 331.7L450.8 333.3L449.6 334.8L448.5 336.2L447.5 337.4L446.5 338.5L445.6 339.4L444.7 340.2L444.0 340.7L443.3 341.1L442.7 341.4L442.2 341.4L441.7 341.3L441.3 341.2L441.0 341.0L440.6 340.7L440.2 340.4L439.8 339.9L439.5 339.2L439.2 338.5L438.9 337.7L438.6 336.9L438.3 336.0L438.1 334.9L438.0 333.6L438.0 332.4L438.0 331.1L438.0 329.9L438.1 328.6L438.4 327.4L438.7 326.0L439.1 324.6L439.6 323.2L440.0 321.8L440.5 320.4L441.1 319.0L441.8 317.6L442.5 316.1L443.3 314.8L444.0 313.4L444.8 312.1L445.5 310.8L446.3 309.6L447.1 308.4L447.8 307.5L448.5 306.8L449.0 306.2L449.6 305.7L450.2 305.1L450.8 304.6L451.5 304.3L452.0 304.1L452.2 304.0L452.3 303.8L452.3 303.5L452.4 303.3L452.5 303.2L452.6 303.2L452.8 303.4L452.9 303.7L453.1 304.1L453.2 304.6L453.1 305.1L453.0 305.8L452.6 306.7L452.1 307.7L451.5 308.8L450.7 310.0L449.9 311.2L449.0 312.4L448.1 313.7L447.0 315.1L445.8 316.5L444.6 317.9L443.4 319.3L442.2 320.6L441.0 322.0L439.8 323.4L438.6 324.8L437.4 326.1L436.5 327.1L435.8 327.9A1.3 1.3 0 0 0 437.8 329.7Z"/><path d="M499.0 314.5L499.5 313.6L500.2 312.4L501.0 311.1L501.9 309.7L502.8 308.4L503.5 307.5L504.2 306.8L505.0 306.3L505.7 305.9L506.3 305.7L506.8 305.6L507.0 305.6L507.2 305.6L507.3 305.8L507.4 306.0L507.6 306.4L507.7 306.8L507.9 307.3L508.2 308.1L508.3 309.2L508.4 310.4L508.4 311.7L508.3 313.1L508.3 314.6L508.1 316.3L507.8 318.1L507.4 320.1L507.0 322.1L506.5 324.0L505.9 325.8L505.4 327.5L504.7 329.3L503.9 331.0L503.2 332.6L502.4 334.0L501.7 335.1L501.1 336.0L500.5 336.6L500.0 337.0L499.6 337.3L499.2 337.5L499.1 337.5L499.4 337.6L499.5 337.5L499.2 337.3L498.7 337.0L498.2 336.6L497.7 336.2A3.0 3.0 0 0 0 494.3 341.2L494.6 341.4L495.1 341.7L495.8 342.3L496.9 342.9L498.4 343.4L500.1 343.5L501.4 343.1L502.6 342.5L503.7 341.8L504.7 340.9L505.7 339.8L506.7 338.5L507.6 337.0L508.5 335.3L509.4 333.5L510.2 331.6L511.0 329.6L511.7 327.6L512.2 325.5L512.7 323.4L513.2 321.2L513.5 319.0L513.8 316.9L513.9 315.0L514.0 313.2L513.9 311.4L513.6 309.8L513.3 308.3L512.9 306.9L512.5 305.7L511.9 304.5L511.1 303.5L510.2 302.8L509.2 302.2L508.1 301.9L507.0 301.8L505.9 302.0L504.9 302.4L503.9 303.0L503.0 303.8L502.1 304.6L501.3 305.5L500.4 306.7L499.5 308.1L498.6 309.6L497.8 311.0L497.1 312.3L496.6 313.1A1.4 1.4 0 0 0 499.0 314.5Z"/><path d="M537.9 313.7L538.3 312.8L538.9 311.5L539.6 310.0L540.3 308.3L541.0 306.7L541.5 305.2L541.9 304.0L542.3 302.8L542.5 301.5L542.7 300.3L542.8 299.1L542.6 297.8L542.2 296.5L541.7 295.4L541.0 294.3L540.2 293.4L539.3 292.6L538.4 291.9L537.3 291.3L536.2 290.9L535.0 290.6L533.8 290.5L532.6 290.5L531.3 290.7L530.1 291.1L528.9 291.6L527.7 292.2L526.5 293.0L525.4 293.9L524.4 295.0L523.6 296.2L522.8 297.5L522.0 298.8L521.3 300.3L520.8 301.8L520.5 303.4L520.4 305.1L520.4 306.7L520.5 308.4L520.6 309.9L520.9 311.5L521.2 313.0L521.6 314.6L522.1 316.2L522.6 317.8L523.2 319.4L523.7 321.0L524.3 322.6L524.9 324.3L525.7 326.0L526.4 327.7L527.0 329.3L527.6 330.8L528.0 332.3L528.3 333.7L528.7 335.1L529.0 336.4L529.2 337.7L529.3 338.9L529.2 340.1L529.1 341.4L528.9 342.6L528.7 343.9L528.4 345.1L528.0 346.3L527.5 347.3L527.0 348.3L526.3 349.3L525.5 350.3L524.8 351.2L524.1 351.9L523.6 352.2L523.3 352.3L522.9 352.4L522.5 352.4L521.9 352.3L521.4 352.2L521.0 351.9L520.7 351.7L520.4 351.4L520.1 351.2L520.0 350.9L519.9 350.6L519.9 350.2L520.2 349.6L520.8 348.8L521.6 347.9L522.5 346.7L523.6 345.5L524.7 344.1L525.8 342.6L526.9 340.9L528.2 339.1L529.4 337.2L530.7 335.5L531.9 333.9L533.1 332.4L534.3 331.1L535.4 329.7L536.6 328.4L537.9 327.1L539.2 325.8L540.6 324.4L542.2 323.0L543.8 321.6L545.4 320.2L547.0 318.8L548.4 317.5L549.7 316.3L551.0 315.0L552.2 313.8L553.3 312.7L554.1 311.8L554.8 311.1A1.3 1.3 0 0 0 553.0 309.3L552.3 310.0L551.4 310.9L550.4 312.0L549.2 313.2L547.9 314.4L546.6 315.7L545.3 316.9L543.7 318.3L542.1 319.7L540.5 321.1L538.9 322.6L537.4 324.0L536.0 325.4L534.8 326.7L533.5 328.0L532.3 329.4L531.1 330.8L529.9 332.3L528.6 334.0L527.3 335.7L526.0 337.6L524.8 339.4L523.6 341.0L522.5 342.5L521.5 343.8L520.5 344.9L519.4 346.0L518.5 347.0L517.7 348.0L517.1 349.2L516.8 350.4L516.8 351.5L517.1 352.6L517.5 353.5L518.1 354.3L518.8 354.9L519.5 355.4L520.4 355.9L521.4 356.4L522.6 356.7L524.0 356.8L525.4 356.4L526.7 355.7L527.9 354.9L529.2 353.9L530.4 352.8L531.5 351.6L532.5 350.3L533.3 348.9L534.0 347.4L534.8 345.9L535.4 344.3L535.9 342.6L536.2 340.9L536.3 339.1L536.4 337.4L536.3 335.6L536.2 333.9L536.0 332.1L535.6 330.3L535.1 328.5L534.5 326.6L533.8 324.8L533.1 323.0L532.5 321.4L531.9 319.8L531.3 318.2L530.7 316.6L530.1 315.1L529.5 313.7L529.0 312.3L528.6 311.0L528.2 309.6L527.7 308.3L527.3 307.1L526.9 306.0L526.7 304.9L526.7 304.0L526.8 303.0L526.9 301.8L527.1 300.7L527.3 299.6L527.7 298.6L528.2 297.8L528.7 297.1L529.3 296.5L530.1 295.9L530.8 295.3L531.6 294.9L532.3 294.7L532.9 294.6L533.6 294.6L534.3 294.6L535.0 294.8L535.7 295.1L536.2 295.3L536.7 295.7L537.2 296.2L537.7 296.8L538.1 297.4L538.4 298.0L538.6 298.6L538.7 299.2L538.6 299.9L538.5 300.8L538.3 301.8L538.0 302.8L537.7 304.0L537.2 305.2L536.6 306.7L535.9 308.3L535.2 309.8L534.6 311.1L534.1 312.1A2.0 2.0 0 0 0 537.9 313.7Z"/><path d="M565.6 271.2L565.2 272.3L564.8 273.8L564.3 275.5L563.7 277.5L563.1 279.6L562.5 281.7L561.8 283.9L561.1 286.2L560.4 288.7L559.6 291.3L558.8 293.8L558.1 296.3L557.4 298.7L556.7 301.1L556.0 303.5L555.2 305.9L554.5 308.4L553.8 310.9L553.0 313.6L552.2 316.3L551.4 319.2L550.6 322.0L549.8 324.8L549.1 327.5L548.4 330.1L547.8 332.7L547.1 335.2L546.6 337.7L546.0 340.1L545.5 342.4L545.0 344.7L544.6 346.9L544.3 349.1L544.0 351.2L543.8 353.1L543.6 354.8L543.5 356.4L543.6 357.7L543.9 359.0L544.2 360.1L544.7 361.0L545.1 361.9L545.7 362.8L546.6 363.5L547.7 364.0L549.0 364.1L550.2 363.8L551.2 363.3L552.1 362.6L552.8 361.8L553.5 360.8L554.3 359.7L555.1 358.4L556.1 356.9L557.2 355.2L558.3 353.2L559.6 350.9L560.9 348.6L562.1 346.2L563.4 344.0L564.6 341.7L565.8 339.3L567.0 337.0L568.2 334.6L569.4 332.3L570.6 330.2L571.9 328.1L573.1 326.2L574.3 324.4L575.6 322.4L576.8 320.4L578.1 318.1L579.3 315.6L580.5 312.9L581.6 310.1L582.8 307.3L583.9 304.6L585.1 301.9L586.3 299.5L587.4 297.0L588.6 294.6L589.8 292.3L591.0 289.9L592.2 287.6L593.4 285.2L594.7 282.8L595.9 280.4L597.1 278.1L598.3 276.0L599.4 274.0L600.3 272.3L601.2 270.7L602.1 269.3L602.8 268.0L603.5 266.9L604.1 265.9L604.6 265.2L605.0 264.7L605.2 264.3L605.4 264.1L605.6 263.9L605.8 263.6A1.3 1.3 0 0 0 603.8 262.0L603.6 262.1L603.5 262.3L603.2 262.6L602.8 263.1L602.4 263.7L601.9 264.5L601.3 265.5L600.6 266.6L599.8 267.9L598.9 269.4L598.0 271.0L597.0 272.8L596.0 274.7L594.8 276.9L593.6 279.2L592.3 281.6L591.0 284.0L589.8 286.4L588.6 288.7L587.4 291.1L586.3 293.5L585.1 295.9L583.9 298.3L582.7 300.9L581.5 303.5L580.4 306.3L579.2 309.1L578.0 311.9L576.9 314.5L575.7 316.9L574.5 319.1L573.3 321.0L572.1 322.9L570.9 324.8L569.6 326.7L568.4 328.8L567.1 331.1L565.9 333.4L564.7 335.7L563.4 338.1L562.2 340.4L561.0 342.6L559.7 344.9L558.4 347.2L557.1 349.5L555.8 351.7L554.6 353.6L553.5 355.3L552.6 356.6L551.7 357.7L550.9 358.6L550.2 359.2L549.6 359.7L549.2 359.9L549.0 360.0L549.2 359.8L549.5 359.7L549.7 359.6L549.9 359.6L549.9 359.5L549.9 359.2L549.9 358.8L550.0 358.3L550.1 357.6L550.3 356.7L550.4 355.6L550.6 354.1L551.0 352.4L551.5 350.6L552.0 348.5L552.6 346.4L553.1 344.2L553.6 341.9L554.2 339.6L554.9 337.2L555.5 334.7L556.2 332.1L556.9 329.5L557.6 326.9L558.4 324.1L559.1 321.3L559.9 318.5L560.7 315.7L561.4 313.1L562.1 310.5L562.8 308.0L563.4 305.6L564.0 303.2L564.7 300.7L565.3 298.3L566.0 295.8L566.7 293.2L567.3 290.7L567.9 288.1L568.5 285.7L569.1 283.5L569.7 281.4L570.2 279.2L570.7 277.2L571.0 275.4L571.4 273.9L571.6 272.8A3.1 3.1 0 0 0 565.6 271.2Z"/><path d="M539.9 296.6L542.1 296.1L545.2 295.4L548.9 294.7L552.8 293.8L556.8 292.9L560.4 292.1L563.8 291.3L567.2 290.5L570.6 289.7L573.9 289.0L577.1 288.4L580.3 287.8L583.6 287.4L587.1 287.2L590.6 287.0L593.9 286.9L596.7 286.9L598.7 286.8A2.2 2.2 0 0 0 598.5 282.4L596.5 282.5L593.8 282.6L590.5 282.8L586.9 283.0L583.2 283.3L579.7 283.8L576.4 284.4L573.0 285.2L569.7 286.1L566.3 287.1L563.0 288.0L559.6 288.9L556.0 289.8L552.1 290.9L548.2 291.9L544.6 292.9L541.5 293.8L539.3 294.4A1.2 1.2 0 0 0 539.9 296.6Z"/><path d="M604.4 266.4L604.6 266.2L605.0 265.8L605.4 265.3L605.9 264.8L606.3 264.1L606.7 263.1L606.7 262.1L606.4 261.3L606.1 260.6L605.6 260.0L605.0 259.5L604.4 259.2L603.9 259.0L603.3 258.7L602.5 258.5L601.3 258.6L600.2 259.1L599.3 259.9L598.4 260.8L597.6 261.8L596.6 263.0L595.7 264.3L594.8 265.6L594.0 267.0L593.3 268.5L592.5 270.0L591.7 271.6L590.9 273.1L590.2 274.7L589.5 276.1L589.0 277.5L588.4 278.7L587.9 279.9L587.3 281.2L586.7 282.8L586.1 284.6L585.5 286.8L584.7 289.3L584.0 291.9L583.2 294.7L582.4 297.6L581.7 300.4L581.0 303.3L580.2 306.2L579.5 309.3L578.8 312.3L578.2 315.2L577.6 317.8L576.9 320.5L576.3 323.1L575.7 325.6L575.1 328.0L574.7 330.1L574.3 332.0L574.1 333.6L574.1 335.1L574.4 336.4L574.8 337.4L574.9 337.6L574.8 337.5A4.2 4.2 0 0 0 582.8 335.1L582.6 334.5L582.3 334.0L582.4 334.2L582.4 334.3L582.4 334.1L582.5 333.2L582.8 331.8L583.2 329.8L583.8 327.5L584.4 325.0L585.0 322.4L585.6 319.8L586.3 317.0L586.9 314.1L587.6 311.2L588.3 308.2L589.0 305.2L589.7 302.4L590.4 299.7L591.2 296.9L591.9 294.1L592.6 291.5L593.3 289.1L593.9 287.0L594.4 285.2L594.8 283.8L595.2 282.6L595.5 281.4L595.9 280.2L596.5 278.9L597.0 277.3L597.5 275.8L598.0 274.1L598.5 272.6L599.0 271.1L599.6 269.8L600.2 268.5L600.8 267.1L601.3 265.8L601.8 264.6L602.3 263.7L602.7 263.1L602.9 262.9L602.8 262.9L602.5 262.9L602.5 262.8L602.6 262.8L602.8 262.8L602.8 262.8L602.8 262.8L602.9 262.8L602.9 262.8L602.9 262.8L602.9 262.5L603.0 262.3L602.8 262.5L602.5 262.9L602.2 263.3L601.8 263.7L601.6 264.0A1.9 1.9 0 0 0 604.4 266.4Z"/><path d="M588.8 315.8L589.4 314.7L590.0 313.2L590.9 311.4L591.7 309.7L592.6 308.1L593.4 306.9L594.2 306.1L595.1 305.4L595.9 304.8L596.8 304.5L597.5 304.3L597.9 304.2L598.1 304.3L598.3 304.4L598.5 304.7L598.7 305.1L598.9 305.6L599.2 306.1L599.4 306.9L599.6 307.7L599.8 308.7L599.8 309.8L599.9 311.0L599.8 312.3L599.7 313.8L599.4 315.6L599.0 317.6L598.5 319.6L598.0 321.6L597.5 323.5L596.9 325.4L596.2 327.3L595.5 329.1L594.8 330.9L594.0 332.4L593.3 333.6L592.5 334.7L591.6 335.7L590.6 336.5L589.7 337.2L588.9 337.7L588.6 337.9L588.7 337.9L588.6 337.8L588.3 337.6L587.7 337.2L587.0 336.7L586.4 336.4A3.1 3.1 0 0 0 583.2 341.8L583.5 342.0L584.1 342.4L585.1 343.1L586.5 343.7L588.3 344.1L590.2 343.9L591.8 343.3L593.3 342.4L594.7 341.4L596.0 340.2L597.3 338.7L598.5 337.2L599.6 335.4L600.5 333.5L601.4 331.5L602.2 329.4L602.9 327.3L603.5 325.3L604.1 323.2L604.6 321.0L605.0 318.8L605.4 316.6L605.6 314.5L605.8 312.5L605.8 310.7L605.5 309.1L605.2 307.6L604.7 306.2L604.2 305.0L603.6 303.9L603.0 302.8L602.2 301.9L601.2 301.2L600.0 300.7L598.8 300.4L597.5 300.4L596.3 300.7L595.2 301.2L594.1 302.0L593.0 302.9L592.0 303.9L591.0 305.1L590.0 306.6L589.1 308.3L588.2 310.2L587.5 312.0L586.8 313.6L586.4 314.6A1.4 1.4 0 0 0 588.8 315.8Z"/><path d="M615.9 320.9L616.7 320.5L617.8 319.9L619.1 319.1L620.6 318.2L622.0 317.3L623.4 316.2L624.6 315.0L625.9 313.7L627.1 312.4L628.3 311.0L629.3 309.7L630.1 308.5L630.7 307.4L631.2 306.4L631.6 305.4L631.7 304.4L631.7 303.4L631.4 302.5L631.0 301.6L630.4 300.7L629.6 299.9L628.6 299.2L627.3 298.8L626.0 298.7L624.7 298.8L623.3 298.9L621.7 299.1L619.9 299.4L618.2 300.1L616.5 301.2L615.0 302.5L613.6 303.9L612.3 305.4L611.0 307.1L609.9 308.7L608.8 310.5L607.9 312.2L607.1 314.1L606.5 316.0L605.9 317.9L605.3 319.8L604.9 321.6L604.5 323.5L604.3 325.4L604.2 327.3L604.2 329.2L604.2 331.0L604.3 332.8L604.5 334.5L604.8 336.2L605.3 337.8L605.8 339.4L606.5 340.9L607.2 342.3L608.0 343.5L609.1 344.4L610.3 345.1L611.6 345.6L613.0 345.8L614.4 345.8L615.7 345.5L616.9 345.0L618.2 344.3L619.4 343.4L620.6 342.3L621.8 341.1L623.1 339.7L624.3 338.2L625.5 336.4L626.8 334.5L628.0 332.6L629.2 330.7L630.5 328.6L631.8 326.3L633.0 324.0L634.3 321.7L635.5 319.6L636.6 317.7L637.6 316.0L638.7 314.3L639.8 312.8L640.7 311.5L641.5 310.3L642.0 309.5A1.4 1.4 0 0 0 639.8 307.9L639.2 308.8L638.4 309.9L637.5 311.3L636.4 312.8L635.3 314.5L634.2 316.3L633.1 318.2L631.9 320.4L630.6 322.7L629.3 324.9L628.0 327.1L626.8 329.1L625.6 331.0L624.3 332.9L623.1 334.7L621.8 336.3L620.7 337.7L619.6 338.9L618.5 339.8L617.4 340.5L616.4 341.1L615.5 341.4L614.7 341.6L614.0 341.6L613.6 341.6L613.2 341.3L612.9 341.0L612.6 340.6L612.3 340.1L612.0 339.5L611.7 338.8L611.6 337.8L611.4 336.6L611.4 335.2L611.3 333.8L611.3 332.4L611.3 331.0L611.4 329.5L611.6 328.0L611.9 326.4L612.2 324.9L612.5 323.4L612.9 321.8L613.4 320.2L614.0 318.7L614.6 317.2L615.3 315.7L616.0 314.3L616.7 312.9L617.6 311.5L618.5 310.1L619.4 308.9L620.3 307.8L621.1 307.0L621.9 306.4L622.7 305.8L623.7 305.2L624.7 304.6L625.6 304.3L626.4 304.1L626.8 304.0L627.2 303.9L627.6 303.8L627.9 303.7L628.2 303.8L628.4 303.9L628.5 304.1L628.6 304.4L628.6 304.9L628.5 305.5L628.3 306.3L627.9 307.1L627.2 308.1L626.2 309.3L625.2 310.6L624.0 311.9L622.8 313.1L621.6 314.2L620.5 315.1L619.1 316.0L617.8 316.8L616.5 317.6L615.4 318.2L614.5 318.7A1.3 1.3 0 0 0 615.9 320.9Z"/><path d="M637.9 308.4L637.8 309.5L637.7 311.0L637.5 312.7L637.4 314.6L637.2 316.5L637.0 318.3L636.8 320.1L636.6 322.0L636.4 324.0L636.2 325.9L636.0 327.7L635.7 329.3L635.5 330.8L635.4 332.4L635.2 333.9L635.2 335.4L635.2 336.9L636.9 339.6L640.1 339.1L641.0 338.0L641.7 336.7L642.4 335.3L643.2 333.9L644.0 332.7L644.9 331.6L645.9 330.4L646.9 329.1L647.9 327.8L648.9 326.6L649.7 325.4L650.6 324.1L651.6 322.7L652.5 321.5L653.3 320.7L653.2 320.9L649.3 319.8L649.1 319.6L648.8 320.9L648.3 322.7L647.7 324.9L647.2 327.2L646.8 329.4L646.5 331.4L646.2 333.5L645.8 335.8L645.4 338.0L645.0 340.1L644.7 342.2L644.5 344.1L644.4 346.0L644.3 347.9L644.3 349.8L644.3 351.5L644.4 353.1L644.6 354.5L645.0 355.8L645.6 357.0L646.4 358.1L647.4 359.0L648.6 359.7L649.9 360.1L651.1 359.9L652.3 359.4L653.4 358.7L654.3 357.8L655.2 356.7L656.1 355.3L656.8 353.8L657.6 352.1L658.3 350.2L659.1 348.1L659.8 346.0L660.6 343.7L661.4 341.1L662.2 338.4L663.0 335.6L663.7 332.9L664.4 330.3L665.1 327.6L665.7 324.7L666.3 321.9L666.9 319.3L667.3 317.1L667.6 315.5A1.5 1.5 0 0 0 664.8 314.9L664.4 316.5L664.0 318.7L663.4 321.3L662.8 324.1L662.2 326.9L661.6 329.5L660.9 332.1L660.1 334.8L659.4 337.6L658.5 340.2L657.7 342.7L657.0 345.0L656.2 347.1L655.4 349.0L654.6 350.7L653.8 352.3L653.0 353.6L652.4 354.5L651.8 355.2L651.2 355.4L650.8 355.5L650.5 355.4L650.5 355.3L650.6 355.3L650.9 355.3L651.0 355.2L651.1 354.9L651.2 354.3L651.2 353.6L651.2 352.7L651.2 351.6L651.4 350.3L651.7 348.7L652.0 347.0L652.4 345.1L652.7 343.2L652.9 341.3L653.2 339.2L653.5 337.0L653.8 334.7L654.1 332.5L654.4 330.4L654.6 328.3L654.8 326.0L654.9 323.7L654.9 321.5L654.8 319.7L654.5 317.8L650.0 316.6L649.0 318.0L648.5 319.4L648.1 320.8L647.5 322.3L646.9 323.4L646.1 324.5L645.2 325.7L644.2 327.0L643.2 328.3L642.3 329.5L641.4 330.7L640.4 331.8L639.3 333.0L638.2 334.0L637.3 334.8L636.9 335.0L639.3 334.8L640.7 336.7L640.9 336.3L641.4 335.3L641.9 333.8L642.5 332.2L642.9 330.5L643.1 328.8L643.5 327.0L643.9 325.1L644.2 323.1L644.5 321.1L644.8 319.3L645.0 317.3L645.2 315.3L645.4 313.4L645.5 311.6L645.6 310.1L645.7 309.0A3.9 3.9 0 0 0 637.9 308.4Z"/><path d="M666.5 315.8L667.7 315.5L669.5 315.0L671.6 314.5L673.8 314.0L676.0 313.5L678.0 313.0L679.8 312.6L681.8 312.1L683.7 311.7L685.5 311.3L687.0 310.9L688.0 310.7A1.1 1.1 0 0 0 687.6 308.5L686.5 308.7L685.0 309.1L683.2 309.5L681.3 309.9L679.3 310.4L677.4 310.8L675.5 311.3L673.3 311.8L671.1 312.4L669.0 312.9L667.2 313.3L665.9 313.6A1.1 1.1 0 0 0 666.5 315.8Z"/><path d="M683.9 305.8L683.6 307.2L683.3 309.0L682.9 311.3L682.5 313.7L682.0 316.1L681.6 318.3L681.2 320.4L680.8 322.7L680.4 324.9L680.1 327.1L679.7 329.1L679.4 330.7L679.2 332.0L679.0 333.0L678.9 333.9L678.9 334.9L678.9 336.0L679.0 337.2L679.4 338.2L679.9 339.2L680.7 340.2L681.9 341.1L683.6 341.5L685.2 340.9L686.3 339.9L687.2 338.7L688.1 337.2L688.9 335.6L689.9 333.9L690.8 332.1L691.9 330.2L692.9 328.0L694.0 325.7L695.1 323.4L696.1 321.2L697.1 319.2L698.1 317.4L699.1 315.5L700.1 313.7L701.0 312.1L701.8 310.8L702.4 309.8A1.3 1.3 0 0 0 700.0 308.4L699.5 309.4L698.7 310.8L697.8 312.4L696.8 314.2L695.7 316.1L694.7 318.0L693.6 320.0L692.5 322.2L691.4 324.5L690.3 326.7L689.2 328.8L688.2 330.7L687.2 332.3L686.2 333.9L685.2 335.4L684.3 336.6L683.5 337.4L683.2 337.7L683.6 337.5L684.1 337.5L684.3 337.4L684.3 337.1L684.2 336.6L684.2 336.2L684.2 336.1L684.3 335.9L684.6 335.4L685.0 334.6L685.4 333.5L685.8 332.1L686.2 330.4L686.6 328.5L687.2 326.4L687.8 324.1L688.3 321.9L688.8 319.7L689.3 317.5L689.7 315.1L690.2 312.7L690.7 310.4L691.1 308.6L691.3 307.2A3.8 3.8 0 0 0 683.9 305.8Z"/><path d="M698.1 308.7L697.9 310.0L697.7 311.8L697.5 313.9L697.3 316.1L697.0 318.3L696.7 320.2L696.4 322.0L696.1 323.8L695.7 325.7L695.4 327.5L695.1 329.4L694.9 331.1L694.8 332.6L694.9 334.0L695.2 335.4L695.5 336.6L695.9 337.8L696.5 338.9L697.3 339.9L698.3 340.6L699.5 341.0L700.7 341.1L701.9 340.9L703.1 340.5L704.1 339.8L705.0 339.0L706.0 338.0L706.9 336.9L707.8 335.7L708.8 334.4L709.8 332.8L710.9 331.1L712.0 329.2L713.0 327.3L714.1 325.4L715.1 323.6L716.1 321.6L717.2 319.6L718.2 317.5L719.1 315.6L719.9 314.0L720.5 312.9A1.3 1.3 0 0 0 718.1 311.7L717.5 312.9L716.7 314.5L715.8 316.3L714.8 318.4L713.7 320.4L712.7 322.2L711.7 324.1L710.6 325.9L709.5 327.8L708.4 329.6L707.4 331.2L706.4 332.6L705.5 333.8L704.5 334.9L703.6 335.7L702.8 336.4L702.1 336.9L701.5 337.1L701.2 337.2L700.9 337.1L700.8 336.9L700.8 336.7L700.8 336.6L700.7 336.5L700.7 336.2L700.7 335.6L700.7 334.9L700.8 334.0L701.0 332.9L701.1 331.7L701.3 330.4L701.7 328.9L702.2 327.2L702.8 325.4L703.3 323.4L703.7 321.4L704.0 319.3L704.4 317.0L704.7 314.7L704.9 312.6L705.2 310.8L705.3 309.5A3.7 3.7 0 0 0 698.1 308.7Z"/><path d="M729.1 314.0L729.5 313.1L730.0 311.8L730.5 310.3L731.1 308.6L731.6 306.8L731.9 305.1L732.0 303.6L732.0 302.0L731.8 300.6L731.5 299.1L731.1 297.8L730.6 296.5L730.0 295.4L729.2 294.3L728.3 293.4L727.3 292.7L726.2 292.1L725.0 291.7L723.8 291.6L722.6 291.6L721.3 291.9L720.1 292.4L719.0 293.0L717.9 293.8L717.0 294.8L716.2 295.9L715.4 297.1L714.7 298.4L714.2 299.8L713.8 301.3L713.6 302.8L713.4 304.3L713.3 305.9L713.2 307.5L713.4 309.2L713.6 310.9L714.1 312.7L714.5 314.6L715.0 316.5L715.6 318.5L716.2 320.3L716.8 322.2L717.6 324.0L718.3 325.8L719.1 327.7L719.8 329.4L720.5 331.0L721.0 332.6L721.5 334.2L722.1 335.7L722.6 337.1L722.9 338.4L723.2 339.7L723.3 340.9L723.3 342.3L723.2 343.7L723.1 345.2L722.8 346.7L722.5 348.1L722.0 349.3L721.5 350.4L720.9 351.5L720.2 352.5L719.4 353.5L718.7 354.3L718.0 354.8L717.5 355.1L716.9 355.3L716.3 355.5L715.7 355.6L715.1 355.5L714.6 355.4L714.2 355.2L713.7 354.9L713.1 354.5L712.6 354.0L712.2 353.4L711.9 352.9L711.6 352.4L711.4 352.0L711.3 351.7L711.2 351.4L711.3 350.8L711.6 350.0L712.1 349.0L712.9 347.7L713.8 346.3L714.8 344.8L716.0 343.2L717.1 341.7L718.4 340.2L719.7 338.6L721.2 337.0L722.6 335.4L724.1 333.8L725.5 332.3L726.9 330.8L728.3 329.3L729.7 327.9L731.1 326.5L732.5 325.2L733.9 323.8L735.4 322.5L737.0 321.0L738.6 319.6L740.1 318.3L741.4 317.3L742.3 316.5A1.3 1.3 0 0 0 740.7 314.5L739.7 315.3L738.5 316.4L736.9 317.7L735.3 319.1L733.7 320.6L732.1 322.0L730.7 323.3L729.3 324.7L727.9 326.1L726.5 327.6L725.1 329.0L723.7 330.5L722.2 332.1L720.7 333.7L719.2 335.3L717.8 336.9L716.4 338.5L715.1 340.1L713.8 341.6L712.6 343.1L711.4 344.6L710.4 346.1L709.5 347.5L708.8 348.8L708.3 349.9L708.0 350.9L707.9 352.0L708.0 352.9L708.2 353.7L708.5 354.5L709.0 355.4L709.6 356.3L710.3 357.2L711.1 358.1L712.1 358.8L713.2 359.4L714.3 359.7L715.4 359.9L716.7 360.0L718.0 359.8L719.3 359.4L720.6 358.8L721.7 358.0L722.9 357.0L724.1 355.9L725.3 354.6L726.3 353.2L727.2 351.7L727.9 350.1L728.5 348.4L729.1 346.6L729.6 344.7L730.0 342.8L730.1 340.9L730.0 339.0L729.8 337.1L729.5 335.3L729.2 333.6L728.7 331.9L728.2 330.2L727.6 328.4L726.8 326.5L726.0 324.7L725.2 322.9L724.4 321.2L723.8 319.4L723.0 317.7L722.2 315.9L721.4 314.2L720.6 312.6L720.0 311.0L719.6 309.5L719.2 308.1L718.9 306.8L718.6 305.5L718.4 304.3L718.3 303.2L718.4 302.1L718.6 301.1L718.9 300.1L719.3 299.0L719.7 298.1L720.2 297.4L720.7 296.8L721.2 296.4L721.8 296.1L722.5 295.8L723.1 295.7L723.7 295.7L724.2 295.7L724.6 295.8L725.1 296.1L725.6 296.5L726.1 297.0L726.6 297.6L727.0 298.3L727.3 299.1L727.5 300.1L727.8 301.2L727.9 302.3L727.9 303.5L727.9 304.7L727.6 305.9L727.2 307.3L726.7 308.9L726.1 310.4L725.6 311.6L725.3 312.6A2.0 2.0 0 0 0 729.1 314.0Z"/><path d="M756.1 314.2L756.6 313.3L757.3 312.0L758.1 310.5L758.9 308.8L759.6 307.0L760.0 305.3L760.2 303.6L760.1 302.0L759.9 300.5L759.6 299.1L759.2 297.8L758.8 296.6L758.2 295.5L757.5 294.5L756.8 293.6L755.9 292.8L754.9 292.2L753.8 291.7L752.6 291.5L751.4 291.5L750.2 291.6L749.0 292.0L747.8 292.5L746.7 293.1L745.7 293.9L744.7 294.8L743.7 295.9L742.8 297.1L742.0 298.5L741.4 299.9L741.0 301.4L740.7 303.0L740.5 304.6L740.4 306.2L740.4 307.9L740.6 309.6L740.9 311.4L741.3 313.3L741.6 315.2L742.1 317.1L742.7 319.1L743.3 321.1L744.2 323.1L745.2 325.2L746.1 327.3L747.1 329.2L747.9 331.1L748.5 332.7L749.1 334.3L749.7 335.8L750.2 337.2L750.6 338.4L750.8 339.7L750.9 340.9L750.9 342.2L750.8 343.7L750.6 345.2L750.4 346.7L750.0 348.1L749.6 349.3L749.0 350.3L748.4 351.3L747.8 352.2L747.1 353.1L746.4 353.7L745.8 354.2L745.2 354.4L744.4 354.6L743.6 354.7L742.7 354.7L741.9 354.6L741.4 354.4L741.0 354.2L740.6 353.8L740.1 353.3L739.7 352.7L739.3 352.1L739.0 351.5L738.9 351.0L738.7 350.8L738.7 350.7L738.6 350.4L738.8 349.9L739.2 349.1L739.7 348.1L740.5 346.8L741.4 345.4L742.4 343.9L743.5 342.3L744.7 340.7L745.9 339.1L747.3 337.3L748.7 335.5L750.2 333.7L751.6 331.8L753.1 330.1L754.5 328.4L755.9 326.8L757.4 325.1L758.8 323.6L760.2 322.0L761.5 320.6L762.8 319.2L764.2 317.9L765.5 316.6L766.7 315.4L767.9 314.2L768.9 313.2L769.8 312.3L770.7 311.4L771.5 310.6L772.2 309.9L772.8 309.3L773.2 308.9A1.3 1.3 0 0 0 771.4 307.1L771.0 307.5L770.4 308.1L769.7 308.8L768.9 309.6L768.0 310.5L767.1 311.4L766.1 312.4L764.9 313.5L763.7 314.8L762.4 316.1L761.0 317.4L759.7 318.8L758.3 320.3L756.9 321.8L755.5 323.5L754.0 325.1L752.6 326.8L751.1 328.5L749.7 330.2L748.2 332.0L746.7 333.9L745.2 335.7L743.8 337.4L742.5 339.1L741.3 340.7L740.1 342.3L739.0 343.8L738.0 345.2L737.1 346.5L736.4 347.7L735.9 348.7L735.6 349.5L735.3 350.3L735.2 351.2L735.4 352.0L735.6 352.7L735.9 353.6L736.3 354.5L736.8 355.6L737.5 356.6L738.5 357.5L739.6 358.2L740.8 358.7L742.1 359.0L743.5 359.2L744.9 359.2L746.4 358.9L747.8 358.4L749.1 357.7L750.4 356.8L751.6 355.8L752.8 354.6L753.8 353.2L754.6 351.7L755.4 350.1L756.1 348.4L756.7 346.6L757.2 344.8L757.6 342.8L757.7 340.9L757.6 339.0L757.5 337.2L757.2 335.4L756.8 333.6L756.3 331.9L755.7 330.1L754.9 328.1L753.9 326.0L752.9 324.0L751.9 322.0L751.0 320.1L750.3 318.3L749.6 316.6L748.8 314.9L748.1 313.2L747.4 311.6L746.9 310.1L746.6 308.6L746.3 307.2L746.0 305.8L745.8 304.5L745.6 303.3L745.6 302.2L745.8 301.3L746.1 300.4L746.6 299.5L747.1 298.6L747.8 297.7L748.5 297.0L749.1 296.5L749.7 296.1L750.3 295.8L751.0 295.7L751.6 295.6L752.2 295.6L752.6 295.7L753.0 295.8L753.4 296.1L753.9 296.5L754.3 296.9L754.7 297.5L755.0 298.2L755.3 299.1L755.7 300.1L755.9 301.2L756.0 302.4L756.1 303.5L756.0 304.5L755.7 305.7L755.1 307.1L754.4 308.7L753.6 310.1L752.9 311.4L752.5 312.4A2.0 2.0 0 0 0 756.1 314.2Z"/><path d="M783.6 271.1L783.2 272.4L782.6 274.2L781.9 276.3L781.2 278.7L780.4 281.2L779.6 283.7L778.8 286.4L777.9 289.2L777.0 292.2L776.0 295.3L775.0 298.5L774.1 301.7L773.2 305.0L772.2 308.3L771.2 311.8L770.3 315.2L769.4 318.6L768.5 322.0L767.7 325.3L767.0 328.7L766.2 332.0L765.5 335.3L764.9 338.4L764.3 341.3L763.8 344.0L763.4 346.7L763.1 349.2L762.8 351.5L762.7 353.7L762.6 355.6L762.6 357.4L762.8 358.9L763.2 360.2L763.7 361.4L764.3 362.4L765.0 363.3L765.9 364.1L767.3 364.6L768.6 364.4L769.8 364.0L770.7 363.3L771.5 362.5L772.4 361.6L773.2 360.5L774.0 359.2L774.9 357.8L775.8 356.2L776.8 354.5L777.9 352.5L779.1 350.3L780.4 347.9L781.6 345.4L782.9 342.9L784.1 340.5L785.3 338.3L786.5 336.0L787.8 333.7L789.0 331.4L790.2 329.1L791.5 326.7L792.9 324.1L794.4 321.3L795.9 318.4L797.4 315.7L798.6 313.5L799.5 311.8A1.3 1.3 0 0 0 797.1 310.6L796.3 312.2L795.0 314.5L793.6 317.2L792.1 320.0L790.5 322.9L789.1 325.5L787.9 327.8L786.6 330.1L785.4 332.4L784.1 334.7L782.9 337.0L781.7 339.3L780.4 341.6L779.1 344.1L777.8 346.5L776.5 348.9L775.3 351.0L774.2 352.9L773.2 354.6L772.1 356.0L771.2 357.2L770.3 358.3L769.5 359.1L768.9 359.7L768.4 360.0L768.0 360.1L768.0 359.9L768.4 359.8L768.8 359.8L769.0 359.9L769.0 359.8L769.0 359.5L769.0 359.0L769.1 358.2L769.2 357.2L769.2 356.0L769.4 354.4L769.7 352.4L770.1 350.3L770.6 347.9L771.2 345.4L771.7 342.7L772.3 339.9L773.0 336.9L773.7 333.7L774.5 330.4L775.3 327.1L776.1 323.8L776.9 320.5L777.7 317.1L778.5 313.7L779.4 310.3L780.3 306.9L781.1 303.7L782.0 300.5L782.9 297.4L783.7 294.2L784.6 291.2L785.4 288.3L786.2 285.7L786.9 283.1L787.6 280.5L788.2 278.1L788.8 276.0L789.3 274.2L789.6 272.9A3.1 3.1 0 0 0 783.6 271.1Z"/><path d="M759.2 296.9L761.1 296.6L763.6 296.2L766.6 295.7L769.8 295.2L772.8 294.7L775.4 294.1L777.3 293.8L778.8 293.5L780.1 293.4L781.6 293.2L783.6 292.8L786.5 292.3L790.9 291.5L796.5 290.4L802.6 289.3L808.6 288.3L813.7 287.3L817.3 286.7A2.5 2.5 0 0 0 816.3 281.7L812.8 282.4L807.7 283.4L801.7 284.6L795.6 285.8L790.0 286.9L785.7 287.7L782.7 288.3L780.7 288.9L779.2 289.3L777.9 289.8L776.5 290.2L774.6 290.7L772.1 291.2L769.1 292.0L766.0 292.8L763.1 293.6L760.5 294.2L758.8 294.7A1.2 1.2 0 0 0 759.2 296.9Z"/><path d="M438.6 433.9L437.8 434.0L436.7 434.2L435.3 434.5L433.7 434.8L432.0 435.2L430.3 435.8L428.7 436.6L427.0 437.4L425.3 438.3L423.7 439.3L422.1 440.3L420.5 441.4L419.0 442.5L417.5 443.7L416.1 444.9L414.8 446.2L413.6 447.4L412.4 448.5L411.3 449.6L410.3 450.8L409.3 451.9L408.5 453.0L407.7 454.0L407.1 455.0L406.6 456.0L406.3 457.0L406.3 458.0L406.5 459.0L406.9 459.8L407.2 460.3L407.5 460.8L408.1 461.3L408.9 461.9L409.9 462.4L411.1 462.5L412.4 462.3L413.7 461.9L415.1 461.2L416.6 460.4L418.2 459.5L419.9 458.5L421.5 457.6L423.1 456.6L424.8 455.5L426.6 454.3L428.3 453.0L430.1 451.6L431.7 450.2L433.4 448.5L435.1 446.7L436.7 444.7L438.2 442.9L439.4 441.3L440.3 440.2A1.3 1.3 0 0 0 438.3 438.6L437.4 439.7L436.1 441.2L434.6 443.0L433.0 444.9L431.4 446.7L429.9 448.2L428.3 449.5L426.7 450.7L425.0 451.9L423.2 453.0L421.5 454.1L419.9 455.0L418.4 455.9L416.7 456.8L415.2 457.5L413.7 458.2L412.5 458.6L411.6 458.9L411.1 458.9L411.0 458.9L411.0 458.8L411.0 458.6L411.0 458.4L410.8 458.1L410.7 457.9L410.8 457.9L410.9 458.0L411.0 458.1L411.1 458.0L411.3 457.6L411.7 457.0L412.4 456.2L413.2 455.3L414.1 454.3L415.2 453.3L416.2 452.3L417.3 451.2L418.5 450.1L419.8 449.0L421.1 447.9L422.4 446.8L423.7 445.8L425.1 444.9L426.6 444.0L428.1 443.1L429.6 442.3L431.0 441.5L432.3 441.0L433.6 440.5L434.9 440.2L436.3 439.9L437.6 439.7L438.7 439.5L439.6 439.3A2.8 2.8 0 0 0 438.6 433.9Z"/><path d="M435.6 435.5L435.4 436.6L435.1 438.1L434.7 439.7L434.3 441.5L433.8 443.4L433.3 445.2L432.6 447.0L431.8 449.0L430.9 451.1L429.9 453.3L428.9 455.5L427.9 457.7L427.0 459.8L426.0 461.9L425.0 464.0L424.0 466.1L423.0 468.3L422.0 470.4L420.9 472.5L419.9 474.7L418.8 476.9L417.7 479.0L416.7 481.1L415.6 483.2L414.6 485.3L413.5 487.3L412.4 489.4L411.4 491.4L410.4 493.4L409.4 495.2L408.5 497.0L407.6 498.8L406.8 500.6L406.0 502.3L405.3 503.8L404.7 505.2L404.2 506.4L403.9 507.5L403.7 508.5L403.6 509.5L403.7 510.6L403.8 511.7L404.1 512.8L404.8 513.8L405.6 514.5L406.5 515.1L407.7 515.4L408.8 515.5L409.8 515.3L410.6 514.9L411.3 514.3L412.0 513.5L412.8 512.6L413.7 511.4L414.8 510.0L416.0 508.3L417.4 506.3L418.8 504.2L420.2 501.9L421.7 499.5L423.2 496.9L424.8 494.0L426.4 491.0L428.0 487.9L429.5 485.1L431.0 482.5L432.3 480.2L433.6 478.1L434.9 476.1L436.1 474.3L437.3 472.5L438.5 470.8L439.7 469.1L440.9 467.6L442.0 466.1L443.2 464.7L444.4 463.3L445.5 461.9L446.7 460.5L448.0 459.2L449.2 457.9L450.5 456.6L451.7 455.3L453.0 453.9L454.3 452.6L455.7 451.1L457.0 449.7L458.4 448.3L459.7 446.9L460.8 445.5L462.0 444.1L463.0 442.8L464.1 441.4L465.0 440.2L465.8 439.0L466.4 438.1L467.0 437.2L467.5 436.6L467.9 435.9L468.2 435.3L468.4 434.5L468.4 433.8L468.2 433.0L467.9 432.1L467.1 431.3L466.1 430.6L464.9 430.4L463.7 430.5L462.6 430.8L461.3 431.1L459.7 431.4L458.0 432.0L456.2 432.8L454.6 434.0L453.1 435.3L451.7 436.8L450.3 438.4L448.9 440.1L447.7 441.8L446.6 443.6L445.6 445.4L444.7 447.3L444.0 449.1L443.3 451.0L442.7 452.9L442.2 454.7L441.8 456.5L441.5 458.3L441.4 460.1L441.3 461.8L441.4 463.5L441.4 465.1L441.6 466.6L442.0 468.1L442.6 469.5L443.2 470.7L443.9 471.9L444.7 473.0L445.6 474.0L446.7 474.7L447.9 475.2L449.1 475.5L450.3 475.6L451.5 475.7L452.7 475.5L453.8 475.2L454.8 474.7L455.8 474.1L456.8 473.4L457.9 472.6L459.1 471.8L460.3 470.8L461.5 469.7L462.8 468.5L464.1 467.2L465.4 465.9L466.8 464.5L468.1 463.0L469.6 461.4L470.9 459.8L472.3 458.2L473.7 456.6L475.0 454.9L476.5 453.2L477.9 451.4L479.2 449.7L480.3 448.4L481.1 447.4A1.4 1.4 0 0 0 478.9 445.6L478.1 446.6L477.0 448.0L475.7 449.7L474.3 451.4L472.9 453.2L471.5 454.8L470.2 456.4L468.8 458.0L467.4 459.5L466.1 461.1L464.7 462.6L463.4 463.9L462.1 465.1L460.8 466.3L459.5 467.4L458.3 468.4L457.2 469.2L456.1 470.0L455.1 470.6L454.2 471.0L453.3 471.3L452.6 471.5L452.0 471.5L451.5 471.5L451.0 471.4L450.5 471.2L450.1 470.8L449.7 470.4L449.4 470.0L449.1 469.6L448.9 469.1L448.7 468.4L448.5 467.6L448.5 466.7L448.4 465.7L448.4 464.7L448.4 463.6L448.5 462.3L448.7 461.0L449.1 459.6L449.4 458.1L449.8 456.7L450.2 455.2L450.8 453.7L451.4 452.1L452.1 450.6L452.8 449.1L453.6 447.6L454.5 446.2L455.4 444.7L456.4 443.2L457.5 441.8L458.5 440.6L459.4 439.6L460.3 438.9L461.3 438.1L462.3 437.4L463.3 436.7L464.3 436.2L465.1 435.9L465.4 435.7L465.3 435.5L465.1 435.2L464.9 434.8L465.0 434.5L465.0 434.4L465.0 434.4L465.1 434.4L465.1 434.7L464.9 435.1L464.6 435.8L464.2 436.5L463.5 437.5L462.7 438.6L461.8 439.8L460.9 441.1L459.8 442.4L458.8 443.7L457.6 445.0L456.3 446.4L455.0 447.8L453.7 449.2L452.3 450.7L451.0 452.1L449.7 453.4L448.5 454.7L447.2 456.0L446.0 457.3L444.7 458.7L443.5 460.1L442.2 461.5L441.1 462.9L439.9 464.4L438.7 465.9L437.5 467.5L436.3 469.2L435.0 471.0L433.8 472.8L432.6 474.7L431.3 476.6L430.0 478.8L428.6 481.1L427.1 483.7L425.6 486.6L423.9 489.7L422.3 492.7L420.8 495.5L419.3 498.1L417.8 500.4L416.4 502.6L415.0 504.7L413.6 506.6L412.4 508.2L411.3 509.6L410.4 510.6L409.7 511.2L409.2 511.6L408.8 511.7L408.6 511.7L408.6 511.7L408.7 511.7L408.8 511.6L408.9 511.4L408.9 511.1L409.0 510.9L409.0 510.9L409.1 510.9L409.3 510.7L409.6 510.4L409.9 509.9L410.4 509.2L410.9 508.2L411.6 507.0L412.4 505.6L413.3 504.1L414.3 502.5L415.4 500.8L416.4 499.0L417.4 497.1L418.5 495.2L419.6 493.2L420.7 491.2L421.9 489.1L423.0 487.0L424.1 484.9L425.2 482.7L426.2 480.5L427.3 478.4L428.4 476.2L429.4 474.0L430.5 471.9L431.5 469.7L432.5 467.6L433.5 465.4L434.5 463.3L435.5 461.1L436.5 458.9L437.5 456.7L438.5 454.4L439.4 452.2L440.3 450.0L441.1 447.8L441.8 445.7L442.4 443.6L442.8 441.6L443.2 439.8L443.5 438.3L443.8 437.3A4.2 4.2 0 0 0 435.6 435.5Z"/><path d="M491.6 445.2L491.8 444.3L492.2 443.1L492.7 441.6L493.2 439.9L493.6 438.3L493.9 436.7L494.1 435.2L494.2 433.8L494.2 432.3L494.0 430.9L493.8 429.5L493.4 428.2L492.8 427.0L492.0 426.0L491.1 425.0L490.0 424.3L488.9 423.7L487.8 423.3L486.5 423.1L485.2 423.2L484.0 423.5L482.8 423.9L481.7 424.4L480.6 425.0L479.7 425.8L478.7 426.6L477.9 427.6L477.1 428.7L476.4 429.8L475.9 431.1L475.5 432.4L475.1 433.7L474.8 435.1L474.6 436.5L474.5 438.0L474.6 439.5L474.8 441.0L475.0 442.6L475.2 444.3L475.5 446.0L475.8 447.8L476.4 449.6L477.1 451.5L477.9 453.5L478.7 455.4L479.5 457.4L480.2 459.2L480.8 460.8L481.4 462.4L481.9 463.9L482.4 465.4L482.8 466.8L483.2 468.0L483.4 469.3L483.6 470.4L483.8 471.5L484.0 472.4L484.1 473.3L484.1 474.2L483.9 475.1L483.7 476.1L483.4 477.2L483.0 478.4L482.5 479.5L482.0 480.6L481.4 481.6L480.8 482.4L480.0 483.3L479.3 484.1L478.5 484.8L477.8 485.4L477.3 485.7L477.0 485.7L476.6 485.8L476.2 485.8L475.7 485.6L475.2 485.4L474.7 485.2L474.4 485.0L474.1 484.7L473.8 484.3L473.5 483.8L473.3 483.3L473.1 482.8L472.9 482.3L472.8 482.0L472.7 481.8L472.7 481.5L472.8 481.0L473.1 480.3L473.6 479.4L474.3 478.3L475.1 477.1L476.1 475.8L477.1 474.4L478.2 473.1L479.4 471.6L480.8 470.1L482.1 468.5L483.6 466.9L485.0 465.3L486.4 463.9L487.8 462.6L489.1 461.4L490.5 460.2L491.9 459.0L493.3 457.9L494.7 456.6L496.0 455.4L497.3 454.2L498.6 452.9L499.8 451.6L501.0 450.4L502.1 449.1L503.1 447.7L504.1 446.3L505.0 444.8L505.7 443.5L506.3 442.4L506.8 441.6A1.3 1.3 0 0 0 504.6 440.4L504.1 441.2L503.5 442.3L502.8 443.5L501.9 444.9L501.0 446.3L500.1 447.5L499.1 448.7L498.0 449.9L496.8 451.1L495.5 452.3L494.2 453.5L492.9 454.8L491.6 455.9L490.3 457.1L488.9 458.3L487.5 459.5L486.0 460.7L484.6 462.1L483.2 463.6L481.7 465.1L480.2 466.7L478.8 468.3L477.4 469.9L476.2 471.3L475.0 472.7L473.9 474.1L472.8 475.4L471.8 476.6L471.0 477.8L470.3 478.9L469.9 479.9L469.5 480.7L469.3 481.6L469.3 482.4L469.4 483.1L469.5 483.8L469.7 484.5L470.0 485.4L470.4 486.3L470.9 487.1L471.5 487.9L472.3 488.6L473.1 489.1L474.0 489.6L475.0 490.1L476.2 490.4L477.5 490.4L478.9 490.1L480.2 489.6L481.4 488.9L482.6 488.1L483.8 487.2L485.0 486.2L486.0 485.0L486.9 483.8L487.8 482.5L488.7 481.2L489.5 479.7L490.2 478.3L490.7 476.7L491.0 475.2L491.3 473.8L491.4 472.3L491.4 470.9L491.4 469.4L491.2 467.9L490.9 466.4L490.5 464.7L490.1 463.1L489.6 461.4L489.0 459.7L488.4 458.0L487.7 456.1L486.8 454.2L485.9 452.3L485.0 450.4L484.2 448.6L483.6 447.0L483.1 445.5L482.5 444.0L481.9 442.6L481.4 441.3L481.0 440.0L480.8 438.7L480.6 437.5L480.4 436.4L480.2 435.3L480.1 434.3L480.1 433.4L480.3 432.5L480.6 431.7L481.0 430.9L481.4 430.2L481.9 429.5L482.4 428.8L483.0 428.4L483.6 428.0L484.3 427.7L485.0 427.4L485.8 427.3L486.4 427.2L486.8 427.3L487.3 427.5L487.8 427.7L488.4 428.2L488.9 428.6L489.3 429.2L489.6 429.8L489.8 430.5L490.0 431.4L490.1 432.5L490.1 433.7L490.0 434.9L489.9 436.1L489.6 437.4L489.3 438.8L488.8 440.4L488.3 441.8L487.9 443.1L487.6 444.0A2.0 2.0 0 0 0 491.6 445.2Z"/><path d="M503.1 437.1L502.8 438.3L502.5 439.8L502.1 441.6L501.7 443.6L501.2 445.6L500.8 447.4L500.3 449.3L499.8 451.3L499.2 453.3L498.7 455.3L498.2 457.2L497.7 458.8L497.3 460.3L497.0 461.6L496.7 462.9L496.5 464.1L496.3 465.4L496.3 466.7L496.4 467.9L496.8 469.1L497.5 470.2L498.7 471.2L500.4 471.6L502.0 471.1L503.2 470.1L504.5 468.9L505.7 467.3L507.1 465.6L508.4 463.8L509.7 462.1L510.9 460.4L512.2 458.5L513.5 456.5L514.7 454.6L515.8 452.7L517.0 450.9L518.1 449.2L519.2 447.4L520.2 445.6L521.2 444.0L521.9 442.7L522.5 441.7A1.3 1.3 0 0 0 520.3 440.3L519.7 441.3L518.9 442.6L517.9 444.2L516.8 446.0L515.7 447.7L514.6 449.5L513.5 451.2L512.3 453.1L511.1 455.0L509.8 456.9L508.5 458.7L507.3 460.3L506.0 461.9L504.6 463.6L503.2 465.1L501.9 466.5L500.8 467.4L500.2 467.9L500.3 467.8L500.9 467.9L501.2 467.9L501.3 467.6L501.3 467.2L501.3 466.7L501.4 466.2L501.7 465.6L502.1 464.7L502.7 463.6L503.3 462.3L503.9 460.8L504.4 459.1L505.1 457.3L505.8 455.3L506.5 453.3L507.2 451.3L507.8 449.4L508.4 447.4L508.9 445.3L509.4 443.3L509.9 441.5L510.2 440.0L510.5 438.9A3.8 3.8 0 0 0 503.1 437.1Z"/><path d="M518.4 437.0L518.1 438.2L517.7 439.9L517.2 442.0L516.7 444.2L516.2 446.5L515.7 448.6L515.3 450.6L514.9 452.8L514.6 455.0L514.2 457.1L514.0 459.2L513.8 461.0L513.8 462.7L514.0 464.3L514.3 465.7L514.7 466.9L515.2 468.0L515.7 468.9L516.4 469.8L517.3 470.5L518.6 470.9L519.9 470.8L521.0 470.4L522.1 469.8L523.2 469.0L524.3 468.0L525.6 466.7L526.9 465.4L528.3 463.8L529.6 462.3L531.0 460.5L532.5 458.5L534.0 456.3L535.5 454.1L536.8 452.0L538.0 450.1L539.0 448.2L539.8 446.3L540.4 444.5L541.0 442.9L541.4 441.6L541.7 440.6A1.3 1.3 0 0 0 539.3 439.8L538.9 440.7L538.4 442.1L537.9 443.6L537.3 445.3L536.5 447.0L535.6 448.7L534.5 450.6L533.2 452.6L531.7 454.7L530.2 456.7L528.7 458.7L527.4 460.3L526.1 461.8L524.7 463.1L523.4 464.3L522.1 465.3L521.0 466.1L520.1 466.6L519.6 466.9L519.4 466.8L519.6 466.7L520.0 466.6L520.1 466.6L520.1 466.5L520.0 466.1L519.9 465.5L519.9 464.8L520.0 463.9L520.1 462.8L520.2 461.6L520.4 460.1L520.8 458.3L521.3 456.4L521.8 454.3L522.4 452.2L522.9 450.2L523.3 448.2L523.9 446.0L524.5 443.8L525.0 441.8L525.5 440.1L525.8 438.8A3.8 3.8 0 0 0 518.4 437.0Z"/><path d="M536.7 436.8L536.5 438.1L536.3 439.9L535.9 442.1L535.6 444.4L535.2 446.6L534.9 448.7L534.5 450.7L534.1 452.8L533.7 455.0L533.4 457.1L533.1 459.1L532.8 460.9L532.7 462.4L532.8 464.0L533.0 465.4L533.3 466.9L534.8 469.0L538.1 469.1L539.4 467.8L540.3 466.3L541.3 464.5L542.3 462.5L543.4 460.5L544.6 458.5L545.9 456.6L547.2 454.4L548.6 452.1L550.0 449.8L551.4 447.6L552.7 445.5L553.9 443.6L555.1 441.8L556.3 440.0L557.4 438.3L558.5 436.8L559.3 435.5L560.2 434.3L561.1 433.1L561.9 432.2L562.4 431.8L561.2 432.5L558.4 430.5L558.3 430.9L557.9 432.3L557.3 434.3L556.6 436.5L555.9 438.9L555.3 441.2L554.7 443.5L554.1 445.9L553.5 448.4L552.8 450.9L552.2 453.4L551.5 455.7L550.9 458.0L550.4 460.2L549.8 462.5L549.2 464.7L548.7 466.9L548.2 468.8L547.9 470.6L547.7 472.3L547.6 473.9L547.6 475.5L547.6 476.9L547.8 478.3L548.2 479.6L548.9 480.8L549.8 481.7L551.0 482.4L552.2 482.7L553.5 482.7L554.7 482.4L555.8 481.8L556.8 481.1L557.8 480.2L558.8 479.1L559.9 477.9L561.1 476.5L562.3 474.9L563.6 473.1L564.8 471.3L566.1 469.4L567.3 467.6L568.6 465.8L569.9 463.9L571.1 461.9L572.4 460.0L573.6 458.2L574.7 456.5L575.8 454.9L576.9 453.3L577.9 451.7L578.9 450.3L579.6 449.1L580.2 448.2A1.3 1.3 0 0 0 578.0 446.8L577.4 447.6L576.6 448.8L575.7 450.2L574.7 451.8L573.6 453.4L572.5 455.1L571.4 456.8L570.2 458.6L568.9 460.4L567.6 462.3L566.3 464.2L565.1 466.0L563.8 467.8L562.5 469.7L561.2 471.5L559.9 473.1L558.7 474.6L557.7 475.9L556.7 476.9L555.7 477.7L554.8 478.3L554.0 478.6L553.4 478.8L553.1 478.9L553.0 478.8L553.0 478.7L553.1 478.5L553.1 478.2L553.1 477.9L553.0 477.5L553.0 476.9L553.2 475.9L553.5 474.8L553.9 473.5L554.3 472.0L554.8 470.4L555.2 468.6L555.9 466.7L556.6 464.6L557.4 462.4L558.2 460.0L558.9 457.7L559.5 455.3L560.1 452.7L560.7 450.2L561.3 447.6L561.8 445.1L562.3 442.8L562.8 440.5L563.2 438.0L563.4 435.5L563.7 433.3L563.8 431.5L563.8 429.9L560.7 427.3L558.7 428.7L558.2 429.9L557.7 431.1L557.2 432.4L556.5 433.7L555.6 435.0L554.7 436.6L553.7 438.4L552.7 440.2L551.5 442.1L550.3 444.1L549.0 446.1L547.6 448.2L546.1 450.4L544.6 452.6L543.1 454.7L541.8 456.7L540.5 458.6L539.1 460.4L537.7 462.2L536.5 463.6L535.6 464.5L535.5 464.5L537.9 464.6L538.8 465.6L539.1 465.3L539.3 464.3L539.6 463.1L539.8 461.7L540.0 460.3L540.4 458.5L540.9 456.5L541.4 454.4L541.9 452.2L542.3 450.1L542.7 447.9L543.1 445.6L543.4 443.2L543.8 441.1L544.1 439.3L544.3 438.0A3.8 3.8 0 0 0 536.7 436.8Z"/><path d="M591.8 434.7L591.1 434.9L590.0 435.1L588.5 435.5L586.8 436.1L585.0 436.9L583.2 438.1L581.6 439.5L580.3 441.0L579.0 442.7L577.9 444.4L576.8 446.0L575.9 447.6L575.1 449.3L574.5 451.0L574.0 452.6L573.6 454.2L573.4 455.7L573.1 457.1L573.0 458.5L573.1 459.8L573.3 461.1L573.7 462.2L574.1 463.3L574.6 464.3L575.2 465.2L576.1 465.9L577.2 466.3L578.5 466.4L579.7 466.2L580.8 465.8L581.9 465.1L583.0 464.2L584.1 463.2L585.2 462.0L586.4 460.8L587.5 459.5L588.6 458.1L589.8 456.6L590.9 455.0L592.0 453.3L593.1 451.7L594.1 450.1L594.9 448.6L595.6 447.2L596.3 445.8L596.9 444.4L597.7 442.7L598.7 440.8L599.9 438.5L601.3 436.0L602.8 433.3L604.4 430.4L606.0 427.5L607.6 424.6L609.2 421.7L610.9 418.7L612.6 415.6L614.3 412.6L615.9 409.8L617.4 407.3L618.7 405.0L620.0 402.9L621.2 401.0L622.3 399.3L623.3 397.8L624.1 396.6L624.6 395.7L625.1 395.2L625.4 394.8L625.8 394.4L626.1 393.8L626.3 393.1L626.2 392.3L626.0 391.5L625.7 390.8L625.1 390.2L624.5 389.7L623.8 389.4L623.2 389.2L622.5 389.0L621.6 388.8L620.4 388.8L619.2 389.1L618.0 389.9L616.9 390.8L615.9 391.9L614.8 393.1L613.8 394.4L612.9 395.7L612.0 397.0L611.2 398.3L610.4 399.5L609.6 400.8L608.8 402.1L608.0 403.5L607.2 405.0L606.4 406.6L605.4 408.3L604.4 410.1L603.4 412.1L602.3 414.3L601.3 416.8L600.4 419.6L599.4 422.6L598.4 425.8L597.4 429.1L596.5 432.3L595.6 435.5L594.8 438.6L594.0 441.8L593.2 445.0L592.5 448.2L591.8 451.2L591.1 454.1L590.5 456.9L590.1 459.7L589.7 462.3L589.3 464.8L589.0 467.1L588.7 469.0L588.4 470.7L588.3 472.1L588.2 473.4L588.2 474.7L588.3 476.0L588.4 477.3L588.8 478.6L589.3 479.8L590.1 480.9L591.0 481.9L592.2 482.7L593.7 483.0L595.1 482.8L596.3 482.2L597.4 481.3L598.4 480.3L599.5 479.1L600.5 477.8L601.6 476.3L602.6 474.6L603.7 472.7L604.8 470.6L605.8 468.6L606.9 466.5L608.0 464.5L609.1 462.3L610.2 460.1L611.3 457.8L612.4 455.6L613.4 453.6L614.4 451.5L615.4 449.3L616.3 447.2L617.2 445.3L617.9 443.7L618.4 442.5A1.3 1.3 0 0 0 616.0 441.5L615.5 442.6L614.7 444.2L613.9 446.2L613.0 448.2L612.0 450.4L611.0 452.4L610.0 454.5L608.9 456.6L607.8 458.8L606.7 461.1L605.6 463.2L604.5 465.3L603.4 467.3L602.3 469.3L601.2 471.2L600.1 473.0L599.1 474.6L598.1 476.0L597.1 477.0L596.2 477.9L595.3 478.6L594.5 479.0L594.0 479.2L593.9 479.2L594.0 479.2L594.1 479.0L593.9 478.5L593.8 477.9L593.7 477.2L593.6 476.5L593.6 475.9L593.7 475.2L594.0 474.4L594.4 473.3L594.8 471.9L595.1 470.2L595.5 468.2L595.9 466.0L596.5 463.6L597.1 461.0L597.7 458.4L598.3 455.7L598.9 452.9L599.7 449.9L600.5 446.8L601.3 443.7L602.1 440.6L603.0 437.5L603.8 434.4L604.7 431.1L605.6 427.9L606.5 424.8L607.4 421.9L608.3 419.4L609.1 417.1L609.9 415.1L610.7 413.2L611.6 411.4L612.4 409.7L613.2 408.0L613.9 406.4L614.5 405.0L615.1 403.6L615.6 402.4L616.1 401.2L616.8 400.0L617.5 398.7L618.3 397.3L619.0 396.0L619.7 394.8L620.3 393.9L620.8 393.3L621.1 393.1L621.3 393.0L621.5 392.9L621.8 392.9L622.2 392.9L622.6 393.0L622.7 393.0L622.8 393.0L622.8 393.0L622.9 393.0L622.9 392.9L622.9 392.9L623.0 392.8L623.1 392.7L623.0 392.9L622.7 393.3L622.2 394.0L621.5 395.0L620.8 396.3L619.8 397.8L618.8 399.5L617.6 401.5L616.4 403.6L615.0 405.9L613.6 408.5L612.0 411.3L610.3 414.3L608.6 417.4L606.9 420.4L605.2 423.4L603.7 426.2L602.0 429.1L600.5 432.0L599.0 434.7L597.6 437.3L596.3 439.6L595.3 441.5L594.5 443.2L593.8 444.7L593.2 446.0L592.5 447.3L591.7 448.7L590.8 450.2L589.7 451.8L588.6 453.4L587.5 454.9L586.4 456.3L585.3 457.5L584.2 458.7L583.0 459.7L581.9 460.7L580.8 461.5L579.9 462.1L579.2 462.4L578.8 462.5L578.7 462.4L578.8 462.3L579.0 462.2L579.0 462.0L579.0 461.9L578.9 461.6L578.9 461.2L579.0 460.5L579.2 459.8L579.3 459.0L579.5 458.1L579.7 457.1L580.1 455.9L580.5 454.7L581.1 453.5L581.7 452.3L582.3 451.2L583.1 449.9L584.0 448.5L585.0 447.1L586.0 445.9L587.0 444.8L587.8 444.1L588.6 443.6L589.5 443.2L590.7 442.8L591.9 442.5L593.1 442.2L594.0 441.9A3.8 3.8 0 0 0 591.8 434.7Z"/></g></g>
<path d="M355.3 528.1C353.9 525.8 351.0 520.8 346.9 514.3C342.8 507.7 335.8 498.0 330.9 488.8C325.9 479.6 321.4 470.1 317.2 459.1C313.0 448.2 309.1 435.1 305.9 423.1C302.7 411.1 300.2 398.7 298.1 387.0C296.0 375.3 294.3 363.0 293.2 353.0C292.1 343.0 291.8 335.9 291.5 327.0C291.2 318.1 291.1 308.1 291.3 299.7C291.5 291.3 291.9 284.9 292.6 276.4C293.3 267.9 294.1 257.3 295.3 248.8C296.5 240.3 297.5 232.9 299.6 225.5C301.7 218.1 305.1 210.7 308.1 204.3C311.1 197.9 313.5 192.4 317.6 187.3C321.7 182.2 328.0 176.5 332.5 173.5C337.0 170.5 340.7 169.0 344.8 169.3C348.9 169.7 354.0 172.2 356.9 175.6C359.8 178.9 361.4 184.3 362.2 189.4C363.0 194.5 362.6 200.0 361.5 206.4C360.4 212.8 358.7 220.0 355.8 227.6C352.9 235.2 348.7 243.9 344.1 252.0C339.5 260.1 333.7 268.1 328.2 276.4C322.7 284.7 317.6 293.9 311.2 301.9C304.8 309.8 297.4 316.2 290.0 324.1C282.6 332.1 275.9 339.7 266.7 349.6C257.5 359.5 245.9 371.8 234.9 383.5C223.9 395.2 209.6 408.9 200.5 419.9C191.4 430.9 185.3 440.9 180.3 449.6C175.3 458.3 172.2 466.2 170.3 471.9C168.4 477.5 168.3 479.9 169.1 483.5C169.9 487.1 171.5 490.5 175.0 493.5C178.5 496.5 184.1 500.2 189.9 501.6C195.7 503.0 200.6 503.0 210.0 502.0C219.4 501.0 234.4 498.4 246.1 495.6C257.8 492.8 268.7 489.1 280.0 485.0C291.3 480.9 303.6 476.1 314.0 471.2C324.4 466.2 333.2 461.4 342.6 455.3C352.0 449.2 362.4 441.5 370.2 434.7C378.0 427.9 384.2 421.5 389.3 414.6C394.4 407.7 398.6 396.9 400.5 393.4C403.5 386 401.5 378.5 395.5 377.5C391 376.8 387 378 384.0 380.2" fill="none" stroke="#000" stroke-width="23.5" stroke-linecap="round" stroke-linejoin="round"/>
<g fill="#000" stroke="none"><path d="M451.3 148.5L451.8 147.8L452.6 146.6L453.5 145.3L454.5 143.8L455.4 142.3L456.1 140.9L456.6 139.6L457.0 138.4L457.2 137.1L457.4 135.8L457.4 134.5L457.2 133.2L456.8 131.9L456.3 130.6L455.6 129.5L454.7 128.4L453.8 127.4L452.7 126.4L451.5 125.7L450.1 125.0L448.7 124.4L447.2 124.0L445.8 123.6L444.4 123.4L443.0 123.3L441.6 123.3L440.1 123.4L438.8 123.6L437.4 123.9L436.0 124.4L434.7 125.0L433.4 125.7L432.1 126.5L430.9 127.4L429.8 128.5L428.7 129.6L427.8 130.8L427.0 132.1L426.3 133.4L425.7 134.8L425.2 136.2L424.7 137.7L424.4 139.2L424.1 140.9L423.9 142.6L423.8 144.2L423.7 145.4L423.7 146.3A2.0 2.0 0 0 0 427.7 146.7L427.8 145.7L427.9 144.5L428.0 143.0L428.2 141.5L428.4 140.0L428.7 138.7L429.1 137.6L429.5 136.4L430.0 135.2L430.6 134.1L431.2 133.1L431.9 132.2L432.6 131.4L433.5 130.6L434.5 129.9L435.5 129.2L436.5 128.7L437.6 128.2L438.6 127.9L439.6 127.6L440.6 127.4L441.7 127.3L442.8 127.3L443.8 127.4L445.0 127.6L446.1 127.9L447.3 128.3L448.5 128.7L449.5 129.2L450.3 129.8L451.0 130.3L451.6 131.0L452.2 131.8L452.6 132.5L453.0 133.3L453.2 134.0L453.3 134.8L453.3 135.5L453.2 136.4L453.0 137.3L452.7 138.3L452.3 139.3L451.8 140.4L451.0 141.7L450.1 143.0L449.2 144.3L448.5 145.4L447.9 146.3A2.0 2.0 0 0 0 451.3 148.5Z"/><path d="M422.1 141.8L422.3 142.5L422.4 143.5L422.7 144.7L422.9 146.1L423.2 147.6L423.6 149.0L424.0 150.4L424.4 151.8L424.8 153.2L425.3 154.7L425.8 156.2L426.4 157.9L427.0 159.9L427.8 162.0L428.6 164.2L429.4 166.4L430.2 168.7L431.0 170.9L431.8 173.1L432.6 175.3L433.4 177.4L434.2 179.6L434.9 181.6L435.5 183.6L436.1 185.6L436.6 187.6L437.1 189.5L437.5 191.4L437.9 193.2L438.2 194.9L438.4 196.6L438.6 198.2L438.8 199.7L438.8 201.2L438.8 202.6L438.8 204.0L438.6 205.4L438.4 206.8L438.2 208.2L437.9 209.6L437.5 210.9L437.1 212.2L436.6 213.4L436.1 214.6L435.6 215.8L435.0 216.9L434.3 218.0L433.6 218.9L432.8 219.7L432.0 220.6L431.2 221.4L430.3 222.2L429.3 222.8L428.4 223.3L427.5 223.7L426.7 224.0L425.9 224.3L425.1 224.5L424.3 224.5L423.4 224.4L422.4 224.2L421.3 223.9L420.1 223.4L418.9 222.8L417.8 222.2L416.8 221.4L415.8 220.5L414.9 219.5L413.9 218.4L413.0 217.2L412.2 216.0L411.6 214.8L411.0 213.5L410.5 212.3L410.1 211.0L409.8 209.7L409.5 208.4L409.4 207.1L409.3 205.7L409.2 204.4L409.3 203.1L409.4 201.9L409.7 200.7L410.1 199.5L410.7 198.4L411.4 197.2L412.3 196.0L413.3 194.8L414.4 193.7L415.6 192.6L416.9 191.6L418.2 190.6L419.6 189.7L421.1 188.9L422.7 188.0L424.4 187.2L426.3 186.3L428.4 185.5L430.6 184.7L432.9 183.9L435.1 183.2L437.1 182.5L439.1 181.9L441.0 181.4L442.9 181.0L444.7 180.5L446.4 180.2L448.0 179.8L449.6 179.5L451.0 179.2L452.4 178.9L453.6 178.7L454.6 178.5L455.4 178.4A1.1 1.1 0 0 0 455.0 176.2L454.2 176.3L453.2 176.5L452.0 176.7L450.6 177.0L449.1 177.3L447.6 177.6L446.0 178.0L444.2 178.3L442.4 178.7L440.5 179.2L438.5 179.7L436.5 180.3L434.4 180.9L432.1 181.6L429.8 182.4L427.6 183.2L425.4 184.0L423.4 184.8L421.5 185.7L419.8 186.5L418.2 187.4L416.6 188.3L415.2 189.3L413.8 190.4L412.5 191.6L411.2 192.8L410.0 194.1L409.0 195.4L408.0 196.8L407.3 198.3L406.7 199.8L406.4 201.3L406.2 202.9L406.1 204.4L406.1 205.9L406.2 207.3L406.4 208.8L406.7 210.3L407.0 211.8L407.4 213.3L408.0 214.8L408.6 216.2L409.4 217.6L410.2 219.1L411.1 220.5L412.1 221.8L413.2 223.1L414.4 224.2L415.7 225.2L417.0 226.1L418.4 226.9L419.8 227.6L421.2 228.2L422.6 228.6L424.0 228.8L425.3 228.9L426.6 228.8L427.9 228.7L429.2 228.3L430.4 227.9L431.7 227.3L433.0 226.7L434.4 226.0L435.7 225.2L437.0 224.2L438.2 223.1L439.3 221.9L440.3 220.7L441.4 219.4L442.3 218.0L443.2 216.6L443.9 215.0L444.6 213.4L445.2 211.8L445.7 210.1L446.2 208.4L446.6 206.6L446.8 204.8L447.0 202.9L447.0 201.1L447.0 199.3L446.9 197.4L446.7 195.6L446.4 193.7L446.1 191.7L445.7 189.6L445.2 187.6L444.7 185.5L444.1 183.3L443.5 181.2L442.8 179.0L442.0 176.8L441.2 174.6L440.4 172.4L439.6 170.2L438.8 168.1L438.0 165.9L437.2 163.6L436.4 161.4L435.6 159.2L434.9 157.1L434.2 155.3L433.7 153.6L433.2 152.1L432.7 150.7L432.3 149.4L431.9 148.2L431.6 147.0L431.3 145.7L431.1 144.5L430.8 143.2L430.6 142.0L430.4 141.0L430.3 140.2A4.2 4.2 0 0 0 422.1 141.8Z"/><path d="M471.2 138.1L470.8 139.0L470.3 140.3L469.7 141.8L469.0 143.5L468.3 145.3L467.7 147.2L467.0 149.3L466.2 151.4L465.3 153.8L464.4 156.1L463.6 158.6L462.7 161.0L462.0 163.4L461.1 165.8L460.3 168.3L459.5 170.7L458.7 173.2L457.9 175.6L457.1 178.1L456.4 180.5L455.6 183.0L454.8 185.4L454.0 187.9L453.2 190.4L452.5 192.9L451.8 195.4L451.1 198.0L450.5 200.5L449.8 203.0L449.2 205.4L448.7 207.7L448.2 210.1L447.8 212.4L447.4 214.6L447.1 216.7L446.8 218.5L446.6 220.2L446.5 221.7L446.5 223.2L446.6 224.5L446.8 225.9L447.1 227.2L447.6 228.5L448.5 229.6L449.6 230.3L450.7 230.8L451.8 231.0L452.8 231.1L453.7 231.0L454.7 230.8L455.6 230.2L456.4 229.5L457.2 228.6L458.2 227.4L459.2 225.9L460.4 224.1L461.6 222.0L462.9 219.8L464.2 217.5L465.5 215.2L467.0 212.7L468.5 210.0L470.1 207.3L471.6 204.5L473.2 201.9L474.6 199.6L475.9 197.4L477.3 195.4L478.5 193.5L479.8 191.7L480.9 190.1L481.9 188.7L482.9 187.4L483.8 186.3L484.6 185.3L485.4 184.5L486.0 183.8L486.5 183.2A1.3 1.3 0 0 0 484.5 181.6L484.1 182.1L483.5 182.8L482.7 183.6L481.8 184.6L480.9 185.8L479.9 187.1L478.8 188.6L477.7 190.3L476.4 192.1L475.1 194.0L473.8 196.0L472.4 198.2L471.0 200.6L469.4 203.2L467.8 206.0L466.2 208.7L464.7 211.4L463.3 213.8L461.9 216.1L460.5 218.4L459.2 220.6L457.9 222.6L456.8 224.2L455.8 225.6L455.0 226.5L454.3 227.1L453.8 227.3L453.5 227.3L453.3 227.3L453.0 227.3L452.7 227.2L452.5 227.0L452.3 226.7L452.2 226.3L452.2 226.0L452.1 225.8L452.1 225.3L452.2 224.6L452.5 223.7L452.8 222.6L453.1 221.2L453.4 219.7L453.7 217.9L454.2 216.0L454.8 213.9L455.4 211.7L456.0 209.5L456.6 207.2L457.2 204.9L457.8 202.5L458.6 200.1L459.3 197.6L460.0 195.1L460.8 192.6L461.5 190.2L462.2 187.8L463.0 185.3L463.7 182.9L464.5 180.4L465.3 178.0L466.0 175.5L466.8 173.0L467.5 170.5L468.2 168.0L468.9 165.6L469.7 163.2L470.4 160.8L471.2 158.4L471.9 156.0L472.6 153.6L473.3 151.4L473.9 149.4L474.6 147.5L475.1 145.6L475.7 143.9L476.1 142.3L476.5 141.0L476.8 140.1A3.0 3.0 0 0 0 471.2 138.1Z"/><path d="M447.0 165.8L450.1 165.1L454.4 164.2L459.5 163.1L464.9 162.0L470.4 160.8L475.6 159.8L480.7 158.7L486.4 157.6L492.0 156.5L497.2 155.4L501.7 154.5L504.9 153.9A2.8 2.8 0 0 0 503.7 148.3L500.5 149.0L496.1 149.8L490.9 150.9L485.2 152.0L479.6 153.2L474.4 154.2L469.3 155.3L463.8 156.4L458.3 157.6L453.2 158.7L448.9 159.6L445.8 160.2A2.8 2.8 0 0 0 447.0 165.8Z"/><path d="M511.0 164.1L510.1 164.6L508.8 165.1L507.1 165.9L505.4 166.7L503.6 167.6L501.9 168.6L500.4 169.5L499.0 170.5L497.7 171.6L496.3 172.7L495.0 173.9L493.8 175.2L492.5 176.5L491.3 177.9L490.1 179.5L489.0 181.0L487.9 182.5L487.0 184.1L486.1 185.7L485.3 187.4L484.7 189.0L484.2 190.6L483.7 192.0L483.3 193.3L483.0 194.5L482.9 195.7L482.9 196.8L483.0 197.9L483.3 198.9L483.6 199.9L484.2 200.8L485.0 201.5L486.1 202.0L487.3 202.1L488.4 201.9L489.4 201.6L490.4 201.0L491.4 200.3L492.4 199.5L493.5 198.5L494.6 197.4L495.8 196.2L497.0 194.9L498.2 193.5L499.4 191.9L500.7 190.2L501.9 188.5L503.2 186.8L504.5 185.0L505.8 183.0L507.1 181.0L508.4 179.1L509.5 177.2L510.5 175.7L511.3 174.3L512.0 173.0L512.6 171.9L513.1 170.9L513.4 170.2L513.7 169.6A1.3 1.3 0 0 0 511.5 168.4L511.2 169.0L510.8 169.8L510.3 170.7L509.8 171.8L509.1 173.0L508.3 174.3L507.3 175.9L506.2 177.7L504.9 179.6L503.6 181.5L502.3 183.5L501.0 185.2L499.8 186.9L498.5 188.5L497.2 190.1L496.0 191.6L494.7 193.0L493.6 194.2L492.5 195.2L491.4 196.1L490.4 196.8L489.4 197.3L488.6 197.8L488.0 198.0L487.7 198.1L487.6 198.0L487.8 197.8L488.1 197.8L488.3 197.9L488.4 197.9L488.4 197.9L488.5 197.7L488.7 197.3L488.9 196.8L489.2 196.1L489.5 195.3L489.9 194.2L490.4 193.0L491.1 191.7L491.8 190.4L492.5 189.1L493.2 187.9L494.1 186.7L495.0 185.4L496.0 184.1L497.1 182.8L498.2 181.6L499.2 180.4L500.3 179.4L501.4 178.4L502.4 177.5L503.6 176.6L504.7 175.8L505.9 175.0L507.2 174.3L508.7 173.5L510.3 172.8L511.8 172.1L513.2 171.5L514.2 171.1A3.8 3.8 0 0 0 511.0 164.1Z"/><path d="M509.3 165.4L509.0 166.6L508.5 168.1L508.0 169.9L507.4 171.9L506.8 174.0L506.2 175.9L505.5 177.9L504.8 180.1L504.0 182.3L503.2 184.5L502.4 186.7L501.7 188.8L501.0 190.8L500.4 192.8L499.8 194.9L499.2 196.8L498.7 198.6L498.3 200.2L498.0 201.6L497.9 202.8L497.9 204.0L498.0 205.1L498.3 206.1L498.6 207.2L499.0 208.1L499.7 209.0L500.6 209.7L501.7 210.2L502.9 210.5L504.1 210.4L505.3 210.1L506.4 209.6L507.6 208.9L508.8 208.0L510.1 206.9L511.4 205.5L512.7 203.8L514.1 201.8L515.5 199.5L517.0 197.1L518.4 194.7L519.7 192.3L521.1 190.0L522.5 187.5L523.8 184.9L525.1 182.4L526.3 179.9L527.4 177.6L528.4 175.1L529.4 172.5L530.3 170.0L531.1 167.9L531.7 166.5L531.1 166.9L528.1 165.7L528.0 166.6L527.7 168.4L527.3 170.5L527.0 172.8L526.7 174.9L526.5 176.9L526.2 179.0L525.8 181.1L525.4 183.3L525.1 185.4L524.7 187.5L524.4 189.4L524.0 191.5L523.7 193.4L523.3 195.3L523.0 197.0L522.7 198.4L522.4 199.4L522.2 200.4L522.1 201.3L521.9 202.1L521.8 203.2L522.3 205.0L523.8 205.9L525.0 205.9L526.1 205.5L527.1 204.8L528.0 203.9L529.0 202.8L530.1 201.3L531.2 199.4L532.5 197.3L533.8 195.0L535.1 192.7L536.3 190.6L537.6 188.4L538.9 186.0L540.1 183.7L541.3 181.5L542.5 179.5L543.6 177.8L544.7 176.4L545.8 175.2L546.8 174.2L547.9 173.3L548.7 172.6L549.4 172.0A1.3 1.3 0 0 0 547.6 170.0L547.0 170.6L546.1 171.3L545.1 172.2L543.9 173.3L542.6 174.7L541.4 176.2L540.2 178.1L539.0 180.2L537.8 182.5L536.5 184.8L535.3 187.1L534.1 189.2L532.8 191.4L531.4 193.6L530.1 195.8L528.7 197.8L527.6 199.5L526.6 200.8L525.8 201.6L525.2 202.0L524.7 202.0L524.6 201.9L525.0 201.8L525.9 202.4L526.3 203.5L526.4 203.7L526.8 203.2L527.3 202.3L527.9 201.2L528.3 199.8L528.7 198.3L529.1 196.6L529.6 194.7L530.1 192.7L530.5 190.6L530.9 188.5L531.2 186.4L531.5 184.2L531.8 182.0L532.1 179.7L532.3 177.5L532.5 175.5L532.6 173.4L532.7 171.0L532.7 168.7L532.7 166.7L532.5 165.1L529.1 163.1L527.8 164.9L527.3 166.7L526.8 168.9L526.2 171.5L525.5 174.1L524.6 176.4L523.6 178.7L522.5 181.1L521.3 183.7L520.1 186.2L518.8 188.7L517.5 191.1L516.1 193.4L514.7 195.8L513.2 198.1L511.8 200.2L510.5 202.1L509.2 203.7L508.1 204.8L507.0 205.7L506.0 206.3L505.1 206.6L504.3 206.9L503.7 207.0L503.3 207.0L503.2 206.8L503.1 206.6L503.0 206.3L502.9 206.0L502.8 205.6L502.8 205.3L502.9 204.9L503.0 204.4L503.3 203.7L503.6 202.8L503.9 201.6L504.3 200.2L504.9 198.6L505.6 196.9L506.4 195.0L507.2 193.0L507.9 191.0L508.6 188.9L509.4 186.8L510.3 184.6L511.1 182.3L511.9 180.2L512.6 178.1L513.3 176.0L514.0 173.9L514.6 171.9L515.1 170.0L515.5 168.5L515.9 167.4A3.4 3.4 0 0 0 509.3 165.4Z"/><path d="M562.1 168.8L562.9 167.8L564.0 166.4L565.3 164.8L566.7 163.1L568.2 161.3L569.5 159.6L570.9 157.9L572.3 156.2L573.8 154.4L575.2 152.7L576.6 151.0L577.8 149.4L578.8 148.0L579.7 146.6L580.6 145.3L581.3 144.1L582.0 142.9L582.5 141.8L583.0 140.7L583.4 139.7L583.8 138.8L584.0 137.8L584.2 136.9L584.2 136.0L584.1 135.0L583.9 134.1L583.5 133.3L583.0 132.5L582.4 131.8L581.7 131.4L581.0 131.1L580.3 130.7L579.2 130.5L578.0 130.6L576.8 131.0L575.7 131.7L574.7 132.6L573.7 133.7L572.6 134.9L571.4 136.2L570.3 137.8L569.2 139.5L568.1 141.4L567.0 143.5L565.8 145.7L564.7 148.0L563.6 150.4L562.5 152.7L561.5 154.9L560.6 157.2L559.6 159.5L558.7 161.8L557.8 164.2L556.9 166.7L556.0 169.4L555.0 172.2L554.1 175.0L553.1 177.9L552.2 180.7L551.4 183.4L550.5 186.0L549.7 188.6L548.9 191.1L548.2 193.5L547.4 195.9L546.8 198.2L546.1 200.4L545.5 202.7L544.8 204.9L544.3 206.9L543.9 208.5L543.5 209.7A3.3 3.3 0 0 0 549.9 211.5L550.2 210.2L550.6 208.6L551.2 206.6L551.8 204.5L552.4 202.2L553.0 200.0L553.7 197.8L554.4 195.5L555.2 193.1L556.0 190.6L556.8 188.0L557.6 185.4L558.5 182.7L559.4 179.9L560.3 177.1L561.2 174.2L562.2 171.5L563.1 168.9L564.0 166.5L564.9 164.1L565.7 161.9L566.6 159.7L567.5 157.5L568.5 155.3L569.5 153.1L570.5 150.8L571.6 148.6L572.6 146.4L573.6 144.4L574.6 142.7L575.5 141.2L576.4 139.8L577.2 138.5L578.0 137.4L578.7 136.5L579.3 135.9L579.6 135.6L579.6 135.5L579.4 135.4L579.4 135.2L579.5 135.2L579.7 135.2L579.9 135.3L580.0 135.3L580.3 135.4L580.5 135.7L580.7 135.9L580.8 136.2L580.8 136.6L580.7 137.2L580.6 137.9L580.4 138.6L580.1 139.5L579.7 140.4L579.2 141.4L578.6 142.5L577.9 143.7L577.1 144.9L576.2 146.2L575.2 147.6L574.1 149.1L572.8 150.7L571.4 152.4L569.9 154.2L568.4 155.9L567.1 157.6L565.7 159.3L564.3 161.1L562.9 162.8L561.6 164.5L560.5 165.8L559.7 166.8A1.6 1.6 0 0 0 562.1 168.8Z"/><path d="M574.3 172.9L573.4 173.3L572.2 173.9L570.7 174.6L569.0 175.4L567.3 176.3L565.7 177.3L564.1 178.4L562.4 179.6L560.8 180.9L559.3 182.1L558.1 183.2L557.2 183.9A3.0 3.0 0 0 0 561.0 188.5L561.9 187.8L563.1 186.8L564.6 185.6L566.1 184.4L567.6 183.2L568.9 182.3L570.2 181.5L571.7 180.7L573.3 180.0L574.7 179.3L576.0 178.7L576.9 178.3A3.0 3.0 0 0 0 574.3 172.9Z"/><path d="M554.9 191.5L555.1 192.6L555.5 194.1L555.9 195.8L556.3 197.7L556.7 199.6L557.1 201.4L557.3 203.1L557.6 205.0L557.9 206.8L558.2 208.7L558.5 210.6L558.7 212.3L559.0 214.0L559.3 215.6L559.7 217.2L560.1 218.8L560.5 220.2L560.9 221.5L561.4 222.6L562.1 223.6L562.8 224.4L563.8 225.0L564.9 225.4L565.9 225.6L566.9 225.5L567.8 225.2L568.9 224.7L569.9 223.9L570.8 222.9L571.9 221.6L572.9 219.9L574.1 217.7L575.2 215.4L576.4 212.9L577.6 210.3L578.7 207.9L579.8 205.5L580.9 203.1L581.9 200.6L583.0 198.1L584.0 195.6L585.1 193.1L586.3 190.5L587.6 187.6L589.0 184.7L590.2 182.0L591.2 179.7L592.0 178.1A1.3 1.3 0 0 0 589.6 176.9L588.8 178.6L587.8 180.9L586.5 183.6L585.2 186.5L583.9 189.4L582.7 192.1L581.6 194.6L580.5 197.1L579.5 199.5L578.4 202.0L577.3 204.4L576.3 206.7L575.1 209.1L573.9 211.6L572.6 214.1L571.4 216.4L570.3 218.3L569.3 219.8L568.5 220.8L567.8 221.4L567.2 221.7L566.8 221.8L566.4 221.8L566.1 221.8L566.0 221.8L566.0 221.7L566.0 221.5L565.9 221.2L565.7 220.6L565.5 219.9L565.2 219.0L565.0 217.8L564.9 216.4L564.8 214.8L564.7 213.2L564.5 211.5L564.2 209.8L564.1 208.0L563.9 206.1L563.8 204.2L563.6 202.3L563.3 200.4L563.0 198.5L562.6 196.4L562.2 194.5L561.8 192.7L561.5 191.2L561.3 190.1A3.3 3.3 0 0 0 554.9 191.5Z"/><path d="M426.6 314.2L427.0 313.5L427.5 312.5L428.1 311.4L428.8 310.1L429.4 308.8L429.9 307.5L430.3 306.3L430.7 305.1L430.9 303.9L431.1 302.6L431.3 301.4L431.2 300.2L431.1 299.0L430.9 297.8L430.5 296.6L430.0 295.5L429.3 294.5L428.5 293.5L427.5 292.7L426.4 292.1L425.3 291.6L424.0 291.2L422.7 291.0L421.4 291.0L420.1 291.2L418.9 291.6L417.7 292.2L416.5 292.9L415.5 293.7L414.6 294.7L413.7 295.8L412.9 296.9L412.0 298.2L411.3 299.6L410.7 301.2L410.5 302.9L410.4 304.6L410.4 306.4L410.5 308.1L410.7 309.9L411.0 311.6L411.4 313.4L412.0 315.3L412.6 317.2L413.3 319.2L414.0 321.1L414.7 323.0L415.4 324.8L416.2 326.6L416.9 328.4L417.7 330.1L418.4 331.7L419.1 333.3L419.6 334.7L420.1 336.2L420.7 337.6L421.2 338.8L421.6 339.9L421.9 340.9L422.0 341.9L422.0 342.8L422.0 343.9L422.0 344.9L421.9 346.0L421.7 346.9L421.4 347.8L421.0 348.5L420.6 349.3L420.1 350.1L419.5 350.8L418.9 351.5L418.3 352.1L417.6 352.6L417.0 353.0L416.3 353.4L415.6 353.8L415.0 354.0L414.4 354.2L413.8 354.2L413.2 354.3L412.6 354.3L412.1 354.2L411.6 354.1L411.2 353.9L410.7 353.6L410.2 353.2L409.7 352.8L409.3 352.4L409.1 352.0L409.1 351.5L409.2 350.9L409.5 350.0L410.0 348.9L410.6 347.7L411.4 346.5L412.1 345.2L413.0 343.9L413.9 342.6L414.9 341.2L415.9 339.7L417.0 338.3L418.0 337.0L419.1 335.6L420.2 334.2L421.4 332.8L422.4 331.5L423.3 330.4L424.0 329.6A1.3 1.3 0 0 0 422.0 328.0L421.4 328.8L420.5 329.9L419.4 331.2L418.2 332.6L417.1 334.0L416.0 335.4L415.0 336.8L413.9 338.2L412.8 339.6L411.7 341.0L410.7 342.4L409.9 343.8L409.1 345.0L408.2 346.3L407.4 347.5L406.7 348.7L406.2 350.0L405.9 351.3L406.0 352.6L406.3 353.8L406.9 354.9L407.5 355.8L408.3 356.5L409.0 357.1L409.9 357.6L410.9 358.1L411.9 358.4L412.9 358.6L414.0 358.7L415.0 358.6L416.1 358.4L417.2 358.2L418.3 357.8L419.3 357.3L420.4 356.8L421.3 356.1L422.3 355.4L423.2 354.6L424.2 353.8L425.2 352.8L426.1 351.7L426.8 350.4L427.4 349.1L428.0 347.7L428.5 346.3L428.9 344.8L429.2 343.2L429.2 341.5L429.1 339.9L428.8 338.2L428.5 336.6L428.1 335.1L427.7 333.6L427.2 332.1L426.6 330.4L425.9 328.7L425.2 326.9L424.5 325.2L423.8 323.5L423.2 321.8L422.4 320.0L421.6 318.1L420.9 316.3L420.1 314.5L419.5 312.8L419.0 311.2L418.5 309.6L417.9 308.1L417.4 306.8L417.0 305.5L416.8 304.3L416.7 303.3L416.8 302.4L416.9 301.4L417.1 300.4L417.4 299.4L417.7 298.4L418.2 297.7L418.8 297.0L419.3 296.4L420.0 295.9L420.6 295.5L421.3 295.2L421.8 295.0L422.4 295.0L423.1 295.2L423.8 295.4L424.6 295.7L425.2 296.1L425.7 296.5L426.0 296.9L426.4 297.4L426.7 298.1L426.9 298.8L427.1 299.6L427.2 300.4L427.2 301.2L427.1 302.1L426.9 303.1L426.7 304.1L426.4 305.1L426.1 306.1L425.7 307.1L425.1 308.3L424.5 309.4L423.9 310.6L423.4 311.5L423.0 312.2A2.0 2.0 0 0 0 426.6 314.2Z"/><path d="M437.8 329.7L438.5 328.9L439.4 327.8L440.6 326.5L441.8 325.2L443.0 323.7L444.2 322.4L445.4 321.0L446.6 319.6L447.8 318.2L449.0 316.7L450.2 315.3L451.2 314.0L452.1 312.7L452.9 311.4L453.7 310.2L454.4 309.0L455.0 307.8L455.4 306.8L455.8 305.7L456.0 304.8L456.1 303.9L456.0 303.0L455.8 302.3L455.6 301.6L455.2 300.9L454.7 300.2L454.0 299.5L453.1 299.0L452.0 298.7L451.0 298.7L450.0 298.9L448.9 299.0L447.7 299.2L446.3 299.6L444.9 300.3L443.5 301.2L442.3 302.4L441.2 303.7L440.0 305.0L438.9 306.4L437.9 307.9L437.0 309.4L436.1 310.9L435.3 312.5L434.5 314.2L433.8 315.9L433.2 317.7L432.6 319.4L432.1 321.1L431.7 322.8L431.4 324.5L431.2 326.3L431.0 328.0L431.0 329.7L431.0 331.4L431.3 333.1L431.7 334.7L432.2 336.3L432.7 337.7L433.2 339.1L433.8 340.3L434.6 341.4L435.5 342.4L436.5 343.2L437.5 343.9L438.4 344.5L439.4 344.9L440.5 345.1L441.6 345.1L442.8 344.9L443.8 344.6L444.9 344.1L445.9 343.4L446.9 342.5L447.8 341.6L448.7 340.5L449.7 339.3L450.7 338.0L451.8 336.6L453.0 335.1L454.3 333.4L455.6 331.6L456.9 329.7L458.2 327.7L459.4 325.7L460.7 323.6L462.0 321.4L463.2 319.2L464.6 316.8L465.9 314.5L467.3 312.0L468.7 309.5L470.2 306.9L471.6 304.3L473.1 301.7L474.6 299.1L476.1 296.5L477.7 293.8L479.3 291.2L480.8 288.6L482.3 286.1L483.8 283.7L485.2 281.5L486.6 279.4L488.0 277.3L489.3 275.4L490.5 273.6L491.6 272.0L492.4 270.7L493.2 269.7L493.9 268.7L494.5 267.9L495.1 267.0L495.4 266.0L495.6 265.0L495.5 263.9L495.2 263.0L494.7 262.3L494.1 261.7L493.6 261.4L493.1 261.1L492.5 260.7L491.6 260.3L490.4 260.3L489.1 260.7L488.0 261.4L487.0 262.4L485.9 263.5L484.8 264.7L483.7 266.1L482.6 267.5L481.6 268.9L480.8 270.3L479.9 271.7L479.1 273.2L478.2 274.6L477.5 276.0L476.8 277.5L476.1 279.0L475.5 280.4L474.8 281.9L474.1 283.5L473.4 285.2L472.7 287.3L472.0 289.6L471.3 292.1L470.5 294.8L469.7 297.6L468.9 300.6L468.1 303.6L467.3 306.8L466.5 310.3L465.7 313.9L464.9 317.5L464.2 320.9L463.6 324.1L463.0 327.1L462.5 330.0L462.0 332.8L461.6 335.5L461.3 337.9L461.1 340.1L461.0 342.1L461.1 343.8L461.4 345.2L461.7 346.5L462.1 347.7L462.4 348.7L462.9 349.8L463.5 350.9L464.3 351.8L465.2 352.6L466.3 353.2L467.5 353.6L468.7 353.6L469.7 353.2L470.7 352.7L471.6 351.9L472.5 350.9L473.4 349.8L474.4 348.4L475.4 346.7L476.4 344.7L477.5 342.7L478.6 340.5L479.8 338.4L481.0 336.1L482.2 333.6L483.5 331.1L484.8 328.5L486.0 326.0L487.1 323.6L488.2 321.3L489.2 319.1L490.1 316.9L491.0 314.8L491.8 312.7L492.7 310.7L493.5 308.8L494.2 306.9L494.9 305.1L495.7 303.4L496.4 301.6L497.3 299.7L498.2 297.7L499.2 295.6L500.2 293.5L501.3 291.4L502.4 289.3L503.4 287.2L504.5 285.2L505.6 283.2L506.7 281.1L507.8 279.2L508.8 277.3L509.8 275.5L510.8 273.8L511.8 272.1L512.8 270.5L513.8 269.0L514.6 267.7L515.3 266.6L515.8 265.9L516.2 265.4L516.5 265.1L516.9 264.8L517.2 264.2L517.5 263.5L517.5 262.7L517.4 261.9L517.2 261.2L516.8 260.5L516.3 259.9L515.8 259.5L515.3 259.3L514.8 258.9L513.9 258.6L512.7 258.5L511.4 258.9L510.4 259.7L509.4 260.6L508.4 261.7L507.4 263.0L506.3 264.3L505.3 265.7L504.5 267.2L503.7 268.6L502.9 270.1L502.1 271.6L501.3 273.2L500.6 274.7L499.9 276.1L499.4 277.5L498.8 278.8L498.2 280.2L497.6 281.7L496.9 283.4L496.3 285.4L495.6 287.7L494.9 290.3L494.2 293.1L493.5 295.9L492.7 298.9L492.0 301.8L491.2 304.8L490.4 308.0L489.6 311.3L488.8 314.5L488.0 317.5L487.4 320.3L486.8 322.8L486.3 325.1L485.9 327.3L485.5 329.3L485.2 331.0L485.0 332.6L484.9 334.1L484.9 335.5L485.1 336.6L485.4 337.5L485.5 337.7L485.5 337.8A4.2 4.2 0 0 0 493.5 335.8L493.4 335.3L493.2 334.8L493.2 334.8L493.2 334.7L493.2 334.3L493.2 333.6L493.4 332.3L493.7 330.7L494.0 328.9L494.4 326.8L494.9 324.5L495.4 322.1L496.1 319.5L496.8 316.5L497.6 313.3L498.4 310.0L499.3 306.8L500.0 303.8L500.8 300.9L501.5 297.9L502.2 295.1L502.8 292.3L503.5 289.8L504.1 287.6L504.6 285.8L505.1 284.2L505.5 282.9L505.9 281.6L506.3 280.3L506.9 278.9L507.4 277.3L507.9 275.8L508.3 274.2L508.8 272.7L509.3 271.3L509.9 270.0L510.6 268.7L511.3 267.3L511.9 266.0L512.6 264.7L513.2 263.7L513.6 263.1L513.8 263.0L513.6 262.9L513.4 262.9L513.4 262.8L513.6 262.8L513.8 262.9L513.9 262.9L513.9 262.8L514.0 262.8L514.1 262.9L514.1 262.9L514.1 262.9L514.2 262.8L514.2 262.8L514.1 263.0L513.8 263.4L513.3 264.1L512.7 265.0L512.0 266.1L511.2 267.4L510.3 269.0L509.4 270.6L508.4 272.4L507.4 274.1L506.4 275.9L505.3 277.8L504.2 279.8L503.1 281.9L502.0 283.9L501.0 286.0L499.9 288.0L498.8 290.1L497.8 292.3L496.7 294.4L495.7 296.5L494.7 298.5L493.9 300.5L493.1 302.3L492.4 304.1L491.7 305.9L490.9 307.7L490.1 309.7L489.3 311.7L488.4 313.7L487.6 315.8L486.6 318.0L485.7 320.2L484.7 322.4L483.5 324.8L482.3 327.3L481.0 329.8L479.7 332.4L478.4 334.8L477.2 337.0L476.1 339.2L474.9 341.3L473.8 343.3L472.7 345.1L471.7 346.6L470.8 347.8L470.0 348.7L469.4 349.2L468.8 349.5L468.5 349.5L468.3 349.5L468.3 349.4L468.4 349.4L468.4 349.3L468.3 348.9L468.2 348.4L468.1 347.7L468.0 347.1L467.8 346.3L467.8 345.5L467.8 344.7L468.0 343.7L468.1 342.4L468.3 340.9L468.6 338.9L469.0 336.7L469.5 334.2L470.2 331.5L470.8 328.7L471.4 325.7L472.1 322.6L472.9 319.2L473.7 315.7L474.5 312.2L475.3 308.8L476.1 305.6L476.9 302.6L477.6 299.8L478.4 297.0L479.1 294.4L479.8 291.9L480.5 289.7L481.1 287.8L481.6 286.2L482.0 284.7L482.5 283.3L483.0 281.9L483.6 280.5L484.2 279.0L484.7 277.5L485.2 276.1L485.7 274.7L486.3 273.3L487.0 272.1L487.7 270.8L488.5 269.3L489.2 267.9L490.0 266.6L490.7 265.6L491.2 265.0L491.4 264.8L491.3 264.7L491.2 264.6L491.1 264.5L491.3 264.5L491.6 264.6L491.8 264.7L491.9 264.8L492.1 264.9L492.1 264.9L492.2 264.9L492.2 265.2L492.0 265.6L491.7 266.2L491.3 266.9L490.7 267.9L489.9 269.0L489.0 270.4L488.0 271.9L486.9 273.7L485.6 275.7L484.2 277.8L482.8 280.0L481.4 282.3L479.9 284.6L478.4 287.1L476.9 289.8L475.3 292.4L473.7 295.1L472.2 297.7L470.7 300.3L469.2 302.9L467.8 305.6L466.3 308.2L464.9 310.7L463.5 313.1L462.2 315.5L460.9 317.8L459.6 320.0L458.3 322.2L457.1 324.3L455.8 326.3L454.6 328.1L453.3 330.0L452.0 331.7L450.8 333.3L449.6 334.8L448.5 336.2L447.5 337.4L446.5 338.5L445.6 339.4L444.7 340.2L444.0 340.7L443.3 341.1L442.7 341.4L442.2 341.4L441.7 341.3L441.3 341.2L441.0 341.0L440.6 340.7L440.2 340.4L439.8 339.9L439.5 339.2L439.2 338.5L438.9 337.7L438.6 336.9L438.3 336.0L438.1 334.9L438.0 333.6L438.0 332.4L438.0 331.1L438.0 329.9L438.1 328.6L438.4 327.4L438.7 326.0L439.1 324.6L439.6 323.2L440.0 321.8L440.5 320.4L441.1 319.0L441.8 317.6L442.5 316.1L443.3 314.8L444.0 313.4L444.8 312.1L445.5 310.8L446.3 309.6L447.1 308.4L447.8 307.5L448.5 306.8L449.0 306.2L449.6 305.7L450.2 305.1L450.8 304.6L451.5 304.3L452.0 304.1L452.2 304.0L452.3 303.8L452.3 303.5L452.4 303.3L452.5 303.2L452.6 303.2L452.8 303.4L452.9 303.7L453.1 304.1L453.2 304.6L453.1 305.1L453.0 305.8L452.6 306.7L452.1 307.7L451.5 308.8L450.7 310.0L449.9 311.2L449.0 312.4L448.1 313.7L447.0 315.1L445.8 316.5L444.6 317.9L443.4 319.3L442.2 320.6L441.0 322.0L439.8 323.4L438.6 324.8L437.4 326.1L436.5 327.1L435.8 327.9A1.3 1.3 0 0 0 437.8 329.7Z"/><path d="M499.0 314.5L499.5 313.6L500.2 312.4L501.0 311.1L501.9 309.7L502.8 308.4L503.5 307.5L504.2 306.8L505.0 306.3L505.7 305.9L506.3 305.7L506.8 305.6L507.0 305.6L507.2 305.6L507.3 305.8L507.4 306.0L507.6 306.4L507.7 306.8L507.9 307.3L508.2 308.1L508.3 309.2L508.4 310.4L508.4 311.7L508.3 313.1L508.3 314.6L508.1 316.3L507.8 318.1L507.4 320.1L507.0 322.1L506.5 324.0L505.9 325.8L505.4 327.5L504.7 329.3L503.9 331.0L503.2 332.6L502.4 334.0L501.7 335.1L501.1 336.0L500.5 336.6L500.0 337.0L499.6 337.3L499.2 337.5L499.1 337.5L499.4 337.6L499.5 337.5L499.2 337.3L498.7 337.0L498.2 336.6L497.7 336.2A3.0 3.0 0 0 0 494.3 341.2L494.6 341.4L495.1 341.7L495.8 342.3L496.9 342.9L498.4 343.4L500.1 343.5L501.4 343.1L502.6 342.5L503.7 341.8L504.7 340.9L505.7 339.8L506.7 338.5L507.6 337.0L508.5 335.3L509.4 333.5L510.2 331.6L511.0 329.6L511.7 327.6L512.2 325.5L512.7 323.4L513.2 321.2L513.5 319.0L513.8 316.9L513.9 315.0L514.0 313.2L513.9 311.4L513.6 309.8L513.3 308.3L512.9 306.9L512.5 305.7L511.9 304.5L511.1 303.5L510.2 302.8L509.2 302.2L508.1 301.9L507.0 301.8L505.9 302.0L504.9 302.4L503.9 303.0L503.0 303.8L502.1 304.6L501.3 305.5L500.4 306.7L499.5 308.1L498.6 309.6L497.8 311.0L497.1 312.3L496.6 313.1A1.4 1.4 0 0 0 499.0 314.5Z"/><path d="M537.9 313.7L538.3 312.8L538.9 311.5L539.6 310.0L540.3 308.3L541.0 306.7L541.5 305.2L541.9 304.0L542.3 302.8L542.5 301.5L542.7 300.3L542.8 299.1L542.6 297.8L542.2 296.5L541.7 295.4L541.0 294.3L540.2 293.4L539.3 292.6L538.4 291.9L537.3 291.3L536.2 290.9L535.0 290.6L533.8 290.5L532.6 290.5L531.3 290.7L530.1 291.1L528.9 291.6L527.7 292.2L526.5 293.0L525.4 293.9L524.4 295.0L523.6 296.2L522.8 297.5L522.0 298.8L521.3 300.3L520.8 301.8L520.5 303.4L520.4 305.1L520.4 306.7L520.5 308.4L520.6 309.9L520.9 311.5L521.2 313.0L521.6 314.6L522.1 316.2L522.6 317.8L523.2 319.4L523.7 321.0L524.3 322.6L524.9 324.3L525.7 326.0L526.4 327.7L527.0 329.3L527.6 330.8L528.0 332.3L528.3 333.7L528.7 335.1L529.0 336.4L529.2 337.7L529.3 338.9L529.2 340.1L529.1 341.4L528.9 342.6L528.7 343.9L528.4 345.1L528.0 346.3L527.5 347.3L527.0 348.3L526.3 349.3L525.5 350.3L524.8 351.2L524.1 351.9L523.6 352.2L523.3 352.3L522.9 352.4L522.5 352.4L521.9 352.3L521.4 352.2L521.0 351.9L520.7 351.7L520.4 351.4L520.1 351.2L520.0 350.9L519.9 350.6L519.9 350.2L520.2 349.6L520.8 348.8L521.6 347.9L522.5 346.7L523.6 345.5L524.7 344.1L525.8 342.6L526.9 340.9L528.2 339.1L529.4 337.2L530.7 335.5L531.9 333.9L533.1 332.4L534.3 331.1L535.4 329.7L536.6 328.4L537.9 327.1L539.2 325.8L540.6 324.4L542.2 323.0L543.8 321.6L545.4 320.2L547.0 318.8L548.4 317.5L549.7 316.3L551.0 315.0L552.2 313.8L553.3 312.7L554.1 311.8L554.8 311.1A1.3 1.3 0 0 0 553.0 309.3L552.3 310.0L551.4 310.9L550.4 312.0L549.2 313.2L547.9 314.4L546.6 315.7L545.3 316.9L543.7 318.3L542.1 319.7L540.5 321.1L538.9 322.6L537.4 324.0L536.0 325.4L534.8 326.7L533.5 328.0L532.3 329.4L531.1 330.8L529.9 332.3L528.6 334.0L527.3 335.7L526.0 337.6L524.8 339.4L523.6 341.0L522.5 342.5L521.5 343.8L520.5 344.9L519.4 346.0L518.5 347.0L517.7 348.0L517.1 349.2L516.8 350.4L516.8 351.5L517.1 352.6L517.5 353.5L518.1 354.3L518.8 354.9L519.5 355.4L520.4 355.9L521.4 356.4L522.6 356.7L524.0 356.8L525.4 356.4L526.7 355.7L527.9 354.9L529.2 353.9L530.4 352.8L531.5 351.6L532.5 350.3L533.3 348.9L534.0 347.4L534.8 345.9L535.4 344.3L535.9 342.6L536.2 340.9L536.3 339.1L536.4 337.4L536.3 335.6L536.2 333.9L536.0 332.1L535.6 330.3L535.1 328.5L534.5 326.6L533.8 324.8L533.1 323.0L532.5 321.4L531.9 319.8L531.3 318.2L530.7 316.6L530.1 315.1L529.5 313.7L529.0 312.3L528.6 311.0L528.2 309.6L527.7 308.3L527.3 307.1L526.9 306.0L526.7 304.9L526.7 304.0L526.8 303.0L526.9 301.8L527.1 300.7L527.3 299.6L527.7 298.6L528.2 297.8L528.7 297.1L529.3 296.5L530.1 295.9L530.8 295.3L531.6 294.9L532.3 294.7L532.9 294.6L533.6 294.6L534.3 294.6L535.0 294.8L535.7 295.1L536.2 295.3L536.7 295.7L537.2 296.2L537.7 296.8L538.1 297.4L538.4 298.0L538.6 298.6L538.7 299.2L538.6 299.9L538.5 300.8L538.3 301.8L538.0 302.8L537.7 304.0L537.2 305.2L536.6 306.7L535.9 308.3L535.2 309.8L534.6 311.1L534.1 312.1A2.0 2.0 0 0 0 537.9 313.7Z"/><path d="M565.6 271.2L565.2 272.3L564.8 273.8L564.3 275.5L563.7 277.5L563.1 279.6L562.5 281.7L561.8 283.9L561.1 286.2L560.4 288.7L559.6 291.3L558.8 293.8L558.1 296.3L557.4 298.7L556.7 301.1L556.0 303.5L555.2 305.9L554.5 308.4L553.8 310.9L553.0 313.6L552.2 316.3L551.4 319.2L550.6 322.0L549.8 324.8L549.1 327.5L548.4 330.1L547.8 332.7L547.1 335.2L546.6 337.7L546.0 340.1L545.5 342.4L545.0 344.7L544.6 346.9L544.3 349.1L544.0 351.2L543.8 353.1L543.6 354.8L543.5 356.4L543.6 357.7L543.9 359.0L544.2 360.1L544.7 361.0L545.1 361.9L545.7 362.8L546.6 363.5L547.7 364.0L549.0 364.1L550.2 363.8L551.2 363.3L552.1 362.6L552.8 361.8L553.5 360.8L554.3 359.7L555.1 358.4L556.1 356.9L557.2 355.2L558.3 353.2L559.6 350.9L560.9 348.6L562.1 346.2L563.4 344.0L564.6 341.7L565.8 339.3L567.0 337.0L568.2 334.6L569.4 332.3L570.6 330.2L571.9 328.1L573.1 326.2L574.3 324.4L575.6 322.4L576.8 320.4L578.1 318.1L579.3 315.6L580.5 312.9L581.6 310.1L582.8 307.3L583.9 304.6L585.1 301.9L586.3 299.5L587.4 297.0L588.6 294.6L589.8 292.3L591.0 289.9L592.2 287.6L593.4 285.2L594.7 282.8L595.9 280.4L597.1 278.1L598.3 276.0L599.4 274.0L600.3 272.3L601.2 270.7L602.1 269.3L602.8 268.0L603.5 266.9L604.1 265.9L604.6 265.2L605.0 264.7L605.2 264.3L605.4 264.1L605.6 263.9L605.8 263.6A1.3 1.3 0 0 0 603.8 262.0L603.6 262.1L603.5 262.3L603.2 262.6L602.8 263.1L602.4 263.7L601.9 264.5L601.3 265.5L600.6 266.6L599.8 267.9L598.9 269.4L598.0 271.0L597.0 272.8L596.0 274.7L594.8 276.9L593.6 279.2L592.3 281.6L591.0 284.0L589.8 286.4L588.6 288.7L587.4 291.1L586.3 293.5L585.1 295.9L583.9 298.3L582.7 300.9L581.5 303.5L580.4 306.3L579.2 309.1L578.0 311.9L576.9 314.5L575.7 316.9L574.5 319.1L573.3 321.0L572.1 322.9L570.9 324.8L569.6 326.7L568.4 328.8L567.1 331.1L565.9 333.4L564.7 335.7L563.4 338.1L562.2 340.4L561.0 342.6L559.7 344.9L558.4 347.2L557.1 349.5L555.8 351.7L554.6 353.6L553.5 355.3L552.6 356.6L551.7 357.7L550.9 358.6L550.2 359.2L549.6 359.7L549.2 359.9L549.0 360.0L549.2 359.8L549.5 359.7L549.7 359.6L549.9 359.6L549.9 359.5L549.9 359.2L549.9 358.8L550.0 358.3L550.1 357.6L550.3 356.7L550.4 355.6L550.6 354.1L551.0 352.4L551.5 350.6L552.0 348.5L552.6 346.4L553.1 344.2L553.6 341.9L554.2 339.6L554.9 337.2L555.5 334.7L556.2 332.1L556.9 329.5L557.6 326.9L558.4 324.1L559.1 321.3L559.9 318.5L560.7 315.7L561.4 313.1L562.1 310.5L562.8 308.0L563.4 305.6L564.0 303.2L564.7 300.7L565.3 298.3L566.0 295.8L566.7 293.2L567.3 290.7L567.9 288.1L568.5 285.7L569.1 283.5L569.7 281.4L570.2 279.2L570.7 277.2L571.0 275.4L571.4 273.9L571.6 272.8A3.1 3.1 0 0 0 565.6 271.2Z"/><path d="M539.9 296.6L542.1 296.1L545.2 295.4L548.9 294.7L552.8 293.8L556.8 292.9L560.4 292.1L563.8 291.3L567.2 290.5L570.6 289.7L573.9 289.0L577.1 288.4L580.3 287.8L583.6 287.4L587.1 287.2L590.6 287.0L593.9 286.9L596.7 286.9L598.7 286.8A2.2 2.2 0 0 0 598.5 282.4L596.5 282.5L593.8 282.6L590.5 282.8L586.9 283.0L583.2 283.3L579.7 283.8L576.4 284.4L573.0 285.2L569.7 286.1L566.3 287.1L563.0 288.0L559.6 288.9L556.0 289.8L552.1 290.9L548.2 291.9L544.6 292.9L541.5 293.8L539.3 294.4A1.2 1.2 0 0 0 539.9 296.6Z"/><path d="M604.4 266.4L604.6 266.2L605.0 265.8L605.4 265.3L605.9 264.8L606.3 264.1L606.7 263.1L606.7 262.1L606.4 261.3L606.1 260.6L605.6 260.0L605.0 259.5L604.4 259.2L603.9 259.0L603.3 258.7L602.5 258.5L601.3 258.6L600.2 259.1L599.3 259.9L598.4 260.8L597.6 261.8L596.6 263.0L595.7 264.3L594.8 265.6L594.0 267.0L593.3 268.5L592.5 270.0L591.7 271.6L590.9 273.1L590.2 274.7L589.5 276.1L589.0 277.5L588.4 278.7L587.9 279.9L587.3 281.2L586.7 282.8L586.1 284.6L585.5 286.8L584.7 289.3L584.0 291.9L583.2 294.7L582.4 297.6L581.7 300.4L581.0 303.3L580.2 306.2L579.5 309.3L578.8 312.3L578.2 315.2L577.6 317.8L576.9 320.5L576.3 323.1L575.7 325.6L575.1 328.0L574.7 330.1L574.3 332.0L574.1 333.6L574.1 335.1L574.4 336.4L574.8 337.4L574.9 337.6L574.8 337.5A4.2 4.2 0 0 0 582.8 335.1L582.6 334.5L582.3 334.0L582.4 334.2L582.4 334.3L582.4 334.1L582.5 333.2L582.8 331.8L583.2 329.8L583.8 327.5L584.4 325.0L585.0 322.4L585.6 319.8L586.3 317.0L586.9 314.1L587.6 311.2L588.3 308.2L589.0 305.2L589.7 302.4L590.4 299.7L591.2 296.9L591.9 294.1L592.6 291.5L593.3 289.1L593.9 287.0L594.4 285.2L594.8 283.8L595.2 282.6L595.5 281.4L595.9 280.2L596.5 278.9L597.0 277.3L597.5 275.8L598.0 274.1L598.5 272.6L599.0 271.1L599.6 269.8L600.2 268.5L600.8 267.1L601.3 265.8L601.8 264.6L602.3 263.7L602.7 263.1L602.9 262.9L602.8 262.9L602.5 262.9L602.5 262.8L602.6 262.8L602.8 262.8L602.8 262.8L602.8 262.8L602.9 262.8L602.9 262.8L602.9 262.8L602.9 262.5L603.0 262.3L602.8 262.5L602.5 262.9L602.2 263.3L601.8 263.7L601.6 264.0A1.9 1.9 0 0 0 604.4 266.4Z"/><path d="M588.8 315.8L589.4 314.7L590.0 313.2L590.9 311.4L591.7 309.7L592.6 308.1L593.4 306.9L594.2 306.1L595.1 305.4L595.9 304.8L596.8 304.5L597.5 304.3L597.9 304.2L598.1 304.3L598.3 304.4L598.5 304.7L598.7 305.1L598.9 305.6L599.2 306.1L599.4 306.9L599.6 307.7L599.8 308.7L599.8 309.8L599.9 311.0L599.8 312.3L599.7 313.8L599.4 315.6L599.0 317.6L598.5 319.6L598.0 321.6L597.5 323.5L596.9 325.4L596.2 327.3L595.5 329.1L594.8 330.9L594.0 332.4L593.3 333.6L592.5 334.7L591.6 335.7L590.6 336.5L589.7 337.2L588.9 337.7L588.6 337.9L588.7 337.9L588.6 337.8L588.3 337.6L587.7 337.2L587.0 336.7L586.4 336.4A3.1 3.1 0 0 0 583.2 341.8L583.5 342.0L584.1 342.4L585.1 343.1L586.5 343.7L588.3 344.1L590.2 343.9L591.8 343.3L593.3 342.4L594.7 341.4L596.0 340.2L597.3 338.7L598.5 337.2L599.6 335.4L600.5 333.5L601.4 331.5L602.2 329.4L602.9 327.3L603.5 325.3L604.1 323.2L604.6 321.0L605.0 318.8L605.4 316.6L605.6 314.5L605.8 312.5L605.8 310.7L605.5 309.1L605.2 307.6L604.7 306.2L604.2 305.0L603.6 303.9L603.0 302.8L602.2 301.9L601.2 301.2L600.0 300.7L598.8 300.4L597.5 300.4L596.3 300.7L595.2 301.2L594.1 302.0L593.0 302.9L592.0 303.9L591.0 305.1L590.0 306.6L589.1 308.3L588.2 310.2L587.5 312.0L586.8 313.6L586.4 314.6A1.4 1.4 0 0 0 588.8 315.8Z"/><path d="M615.9 320.9L616.7 320.5L617.8 319.9L619.1 319.1L620.6 318.2L622.0 317.3L623.4 316.2L624.6 315.0L625.9 313.7L627.1 312.4L628.3 311.0L629.3 309.7L630.1 308.5L630.7 307.4L631.2 306.4L631.6 305.4L631.7 304.4L631.7 303.4L631.4 302.5L631.0 301.6L630.4 300.7L629.6 299.9L628.6 299.2L627.3 298.8L626.0 298.7L624.7 298.8L623.3 298.9L621.7 299.1L619.9 299.4L618.2 300.1L616.5 301.2L615.0 302.5L613.6 303.9L612.3 305.4L611.0 307.1L609.9 308.7L608.8 310.5L607.9 312.2L607.1 314.1L606.5 316.0L605.9 317.9L605.3 319.8L604.9 321.6L604.5 323.5L604.3 325.4L604.2 327.3L604.2 329.2L604.2 331.0L604.3 332.8L604.5 334.5L604.8 336.2L605.3 337.8L605.8 339.4L606.5 340.9L607.2 342.3L608.0 343.5L609.1 344.4L610.3 345.1L611.6 345.6L613.0 345.8L614.4 345.8L615.7 345.5L616.9 345.0L618.2 344.3L619.4 343.4L620.6 342.3L621.8 341.1L623.1 339.7L624.3 338.2L625.5 336.4L626.8 334.5L628.0 332.6L629.2 330.7L630.5 328.6L631.8 326.3L633.0 324.0L634.3 321.7L635.5 319.6L636.6 317.7L637.6 316.0L638.7 314.3L639.8 312.8L640.7 311.5L641.5 310.3L642.0 309.5A1.4 1.4 0 0 0 639.8 307.9L639.2 308.8L638.4 309.9L637.5 311.3L636.4 312.8L635.3 314.5L634.2 316.3L633.1 318.2L631.9 320.4L630.6 322.7L629.3 324.9L628.0 327.1L626.8 329.1L625.6 331.0L624.3 332.9L623.1 334.7L621.8 336.3L620.7 337.7L619.6 338.9L618.5 339.8L617.4 340.5L616.4 341.1L615.5 341.4L614.7 341.6L614.0 341.6L613.6 341.6L613.2 341.3L612.9 341.0L612.6 340.6L612.3 340.1L612.0 339.5L611.7 338.8L611.6 337.8L611.4 336.6L611.4 335.2L611.3 333.8L611.3 332.4L611.3 331.0L611.4 329.5L611.6 328.0L611.9 326.4L612.2 324.9L612.5 323.4L612.9 321.8L613.4 320.2L614.0 318.7L614.6 317.2L615.3 315.7L616.0 314.3L616.7 312.9L617.6 311.5L618.5 310.1L619.4 308.9L620.3 307.8L621.1 307.0L621.9 306.4L622.7 305.8L623.7 305.2L624.7 304.6L625.6 304.3L626.4 304.1L626.8 304.0L627.2 303.9L627.6 303.8L627.9 303.7L628.2 303.8L628.4 303.9L628.5 304.1L628.6 304.4L628.6 304.9L628.5 305.5L628.3 306.3L627.9 307.1L627.2 308.1L626.2 309.3L625.2 310.6L624.0 311.9L622.8 313.1L621.6 314.2L620.5 315.1L619.1 316.0L617.8 316.8L616.5 317.6L615.4 318.2L614.5 318.7A1.3 1.3 0 0 0 615.9 320.9Z"/><path d="M637.9 308.4L637.8 309.5L637.7 311.0L637.5 312.7L637.4 314.6L637.2 316.5L637.0 318.3L636.8 320.1L636.6 322.0L636.4 324.0L636.2 325.9L636.0 327.7L635.7 329.3L635.5 330.8L635.4 332.4L635.2 333.9L635.2 335.4L635.2 336.9L636.9 339.6L640.1 339.1L641.0 338.0L641.7 336.7L642.4 335.3L643.2 333.9L644.0 332.7L644.9 331.6L645.9 330.4L646.9 329.1L647.9 327.8L648.9 326.6L649.7 325.4L650.6 324.1L651.6 322.7L652.5 321.5L653.3 320.7L653.2 320.9L649.3 319.8L649.1 319.6L648.8 320.9L648.3 322.7L647.7 324.9L647.2 327.2L646.8 329.4L646.5 331.4L646.2 333.5L645.8 335.8L645.4 338.0L645.0 340.1L644.7 342.2L644.5 344.1L644.4 346.0L644.3 347.9L644.3 349.8L644.3 351.5L644.4 353.1L644.6 354.5L645.0 355.8L645.6 357.0L646.4 358.1L647.4 359.0L648.6 359.7L649.9 360.1L651.1 359.9L652.3 359.4L653.4 358.7L654.3 357.8L655.2 356.7L656.1 355.3L656.8 353.8L657.6 352.1L658.3 350.2L659.1 348.1L659.8 346.0L660.6 343.7L661.4 341.1L662.2 338.4L663.0 335.6L663.7 332.9L664.4 330.3L665.1 327.6L665.7 324.7L666.3 321.9L666.9 319.3L667.3 317.1L667.6 315.5A1.5 1.5 0 0 0 664.8 314.9L664.4 316.5L664.0 318.7L663.4 321.3L662.8 324.1L662.2 326.9L661.6 329.5L660.9 332.1L660.1 334.8L659.4 337.6L658.5 340.2L657.7 342.7L657.0 345.0L656.2 347.1L655.4 349.0L654.6 350.7L653.8 352.3L653.0 353.6L652.4 354.5L651.8 355.2L651.2 355.4L650.8 355.5L650.5 355.4L650.5 355.3L650.6 355.3L650.9 355.3L651.0 355.2L651.1 354.9L651.2 354.3L651.2 353.6L651.2 352.7L651.2 351.6L651.4 350.3L651.7 348.7L652.0 347.0L652.4 345.1L652.7 343.2L652.9 341.3L653.2 339.2L653.5 337.0L653.8 334.7L654.1 332.5L654.4 330.4L654.6 328.3L654.8 326.0L654.9 323.7L654.9 321.5L654.8 319.7L654.5 317.8L650.0 316.6L649.0 318.0L648.5 319.4L648.1 320.8L647.5 322.3L646.9 323.4L646.1 324.5L645.2 325.7L644.2 327.0L643.2 328.3L642.3 329.5L641.4 330.7L640.4 331.8L639.3 333.0L638.2 334.0L637.3 334.8L636.9 335.0L639.3 334.8L640.7 336.7L640.9 336.3L641.4 335.3L641.9 333.8L642.5 332.2L642.9 330.5L643.1 328.8L643.5 327.0L643.9 325.1L644.2 323.1L644.5 321.1L644.8 319.3L645.0 317.3L645.2 315.3L645.4 313.4L645.5 311.6L645.6 310.1L645.7 309.0A3.9 3.9 0 0 0 637.9 308.4Z"/><path d="M666.5 315.8L667.7 315.5L669.5 315.0L671.6 314.5L673.8 314.0L676.0 313.5L678.0 313.0L679.8 312.6L681.8 312.1L683.7 311.7L685.5 311.3L687.0 310.9L688.0 310.7A1.1 1.1 0 0 0 687.6 308.5L686.5 308.7L685.0 309.1L683.2 309.5L681.3 309.9L679.3 310.4L677.4 310.8L675.5 311.3L673.3 311.8L671.1 312.4L669.0 312.9L667.2 313.3L665.9 313.6A1.1 1.1 0 0 0 666.5 315.8Z"/><path d="M683.9 305.8L683.6 307.2L683.3 309.0L682.9 311.3L682.5 313.7L682.0 316.1L681.6 318.3L681.2 320.4L680.8 322.7L680.4 324.9L680.1 327.1L679.7 329.1L679.4 330.7L679.2 332.0L679.0 333.0L678.9 333.9L678.9 334.9L678.9 336.0L679.0 337.2L679.4 338.2L679.9 339.2L680.7 340.2L681.9 341.1L683.6 341.5L685.2 340.9L686.3 339.9L687.2 338.7L688.1 337.2L688.9 335.6L689.9 333.9L690.8 332.1L691.9 330.2L692.9 328.0L694.0 325.7L695.1 323.4L696.1 321.2L697.1 319.2L698.1 317.4L699.1 315.5L700.1 313.7L701.0 312.1L701.8 310.8L702.4 309.8A1.3 1.3 0 0 0 700.0 308.4L699.5 309.4L698.7 310.8L697.8 312.4L696.8 314.2L695.7 316.1L694.7 318.0L693.6 320.0L692.5 322.2L691.4 324.5L690.3 326.7L689.2 328.8L688.2 330.7L687.2 332.3L686.2 333.9L685.2 335.4L684.3 336.6L683.5 337.4L683.2 337.7L683.6 337.5L684.1 337.5L684.3 337.4L684.3 337.1L684.2 336.6L684.2 336.2L684.2 336.1L684.3 335.9L684.6 335.4L685.0 334.6L685.4 333.5L685.8 332.1L686.2 330.4L686.6 328.5L687.2 326.4L687.8 324.1L688.3 321.9L688.8 319.7L689.3 317.5L689.7 315.1L690.2 312.7L690.7 310.4L691.1 308.6L691.3 307.2A3.8 3.8 0 0 0 683.9 305.8Z"/><path d="M698.1 308.7L697.9 310.0L697.7 311.8L697.5 313.9L697.3 316.1L697.0 318.3L696.7 320.2L696.4 322.0L696.1 323.8L695.7 325.7L695.4 327.5L695.1 329.4L694.9 331.1L694.8 332.6L694.9 334.0L695.2 335.4L695.5 336.6L695.9 337.8L696.5 338.9L697.3 339.9L698.3 340.6L699.5 341.0L700.7 341.1L701.9 340.9L703.1 340.5L704.1 339.8L705.0 339.0L706.0 338.0L706.9 336.9L707.8 335.7L708.8 334.4L709.8 332.8L710.9 331.1L712.0 329.2L713.0 327.3L714.1 325.4L715.1 323.6L716.1 321.6L717.2 319.6L718.2 317.5L719.1 315.6L719.9 314.0L720.5 312.9A1.3 1.3 0 0 0 718.1 311.7L717.5 312.9L716.7 314.5L715.8 316.3L714.8 318.4L713.7 320.4L712.7 322.2L711.7 324.1L710.6 325.9L709.5 327.8L708.4 329.6L707.4 331.2L706.4 332.6L705.5 333.8L704.5 334.9L703.6 335.7L702.8 336.4L702.1 336.9L701.5 337.1L701.2 337.2L700.9 337.1L700.8 336.9L700.8 336.7L700.8 336.6L700.7 336.5L700.7 336.2L700.7 335.6L700.7 334.9L700.8 334.0L701.0 332.9L701.1 331.7L701.3 330.4L701.7 328.9L702.2 327.2L702.8 325.4L703.3 323.4L703.7 321.4L704.0 319.3L704.4 317.0L704.7 314.7L704.9 312.6L705.2 310.8L705.3 309.5A3.7 3.7 0 0 0 698.1 308.7Z"/><path d="M729.1 314.0L729.5 313.1L730.0 311.8L730.5 310.3L731.1 308.6L731.6 306.8L731.9 305.1L732.0 303.6L732.0 302.0L731.8 300.6L731.5 299.1L731.1 297.8L730.6 296.5L730.0 295.4L729.2 294.3L728.3 293.4L727.3 292.7L726.2 292.1L725.0 291.7L723.8 291.6L722.6 291.6L721.3 291.9L720.1 292.4L719.0 293.0L717.9 293.8L717.0 294.8L716.2 295.9L715.4 297.1L714.7 298.4L714.2 299.8L713.8 301.3L713.6 302.8L713.4 304.3L713.3 305.9L713.2 307.5L713.4 309.2L713.6 310.9L714.1 312.7L714.5 314.6L715.0 316.5L715.6 318.5L716.2 320.3L716.8 322.2L717.6 324.0L718.3 325.8L719.1 327.7L719.8 329.4L720.5 331.0L721.0 332.6L721.5 334.2L722.1 335.7L722.6 337.1L722.9 338.4L723.2 339.7L723.3 340.9L723.3 342.3L723.2 343.7L723.1 345.2L722.8 346.7L722.5 348.1L722.0 349.3L721.5 350.4L720.9 351.5L720.2 352.5L719.4 353.5L718.7 354.3L718.0 354.8L717.5 355.1L716.9 355.3L716.3 355.5L715.7 355.6L715.1 355.5L714.6 355.4L714.2 355.2L713.7 354.9L713.1 354.5L712.6 354.0L712.2 353.4L711.9 352.9L711.6 352.4L711.4 352.0L711.3 351.7L711.2 351.4L711.3 350.8L711.6 350.0L712.1 349.0L712.9 347.7L713.8 346.3L714.8 344.8L716.0 343.2L717.1 341.7L718.4 340.2L719.7 338.6L721.2 337.0L722.6 335.4L724.1 333.8L725.5 332.3L726.9 330.8L728.3 329.3L729.7 327.9L731.1 326.5L732.5 325.2L733.9 323.8L735.4 322.5L737.0 321.0L738.6 319.6L740.1 318.3L741.4 317.3L742.3 316.5A1.3 1.3 0 0 0 740.7 314.5L739.7 315.3L738.5 316.4L736.9 317.7L735.3 319.1L733.7 320.6L732.1 322.0L730.7 323.3L729.3 324.7L727.9 326.1L726.5 327.6L725.1 329.0L723.7 330.5L722.2 332.1L720.7 333.7L719.2 335.3L717.8 336.9L716.4 338.5L715.1 340.1L713.8 341.6L712.6 343.1L711.4 344.6L710.4 346.1L709.5 347.5L708.8 348.8L708.3 349.9L708.0 350.9L707.9 352.0L708.0 352.9L708.2 353.7L708.5 354.5L709.0 355.4L709.6 356.3L710.3 357.2L711.1 358.1L712.1 358.8L713.2 359.4L714.3 359.7L715.4 359.9L716.7 360.0L718.0 359.8L719.3 359.4L720.6 358.8L721.7 358.0L722.9 357.0L724.1 355.9L725.3 354.6L726.3 353.2L727.2 351.7L727.9 350.1L728.5 348.4L729.1 346.6L729.6 344.7L730.0 342.8L730.1 340.9L730.0 339.0L729.8 337.1L729.5 335.3L729.2 333.6L728.7 331.9L728.2 330.2L727.6 328.4L726.8 326.5L726.0 324.7L725.2 322.9L724.4 321.2L723.8 319.4L723.0 317.7L722.2 315.9L721.4 314.2L720.6 312.6L720.0 311.0L719.6 309.5L719.2 308.1L718.9 306.8L718.6 305.5L718.4 304.3L718.3 303.2L718.4 302.1L718.6 301.1L718.9 300.1L719.3 299.0L719.7 298.1L720.2 297.4L720.7 296.8L721.2 296.4L721.8 296.1L722.5 295.8L723.1 295.7L723.7 295.7L724.2 295.7L724.6 295.8L725.1 296.1L725.6 296.5L726.1 297.0L726.6 297.6L727.0 298.3L727.3 299.1L727.5 300.1L727.8 301.2L727.9 302.3L727.9 303.5L727.9 304.7L727.6 305.9L727.2 307.3L726.7 308.9L726.1 310.4L725.6 311.6L725.3 312.6A2.0 2.0 0 0 0 729.1 314.0Z"/><path d="M756.1 314.2L756.6 313.3L757.3 312.0L758.1 310.5L758.9 308.8L759.6 307.0L760.0 305.3L760.2 303.6L760.1 302.0L759.9 300.5L759.6 299.1L759.2 297.8L758.8 296.6L758.2 295.5L757.5 294.5L756.8 293.6L755.9 292.8L754.9 292.2L753.8 291.7L752.6 291.5L751.4 291.5L750.2 291.6L749.0 292.0L747.8 292.5L746.7 293.1L745.7 293.9L744.7 294.8L743.7 295.9L742.8 297.1L742.0 298.5L741.4 299.9L741.0 301.4L740.7 303.0L740.5 304.6L740.4 306.2L740.4 307.9L740.6 309.6L740.9 311.4L741.3 313.3L741.6 315.2L742.1 317.1L742.7 319.1L743.3 321.1L744.2 323.1L745.2 325.2L746.1 327.3L747.1 329.2L747.9 331.1L748.5 332.7L749.1 334.3L749.7 335.8L750.2 337.2L750.6 338.4L750.8 339.7L750.9 340.9L750.9 342.2L750.8 343.7L750.6 345.2L750.4 346.7L750.0 348.1L749.6 349.3L749.0 350.3L748.4 351.3L747.8 352.2L747.1 353.1L746.4 353.7L745.8 354.2L745.2 354.4L744.4 354.6L743.6 354.7L742.7 354.7L741.9 354.6L741.4 354.4L741.0 354.2L740.6 353.8L740.1 353.3L739.7 352.7L739.3 352.1L739.0 351.5L738.9 351.0L738.7 350.8L738.7 350.7L738.6 350.4L738.8 349.9L739.2 349.1L739.7 348.1L740.5 346.8L741.4 345.4L742.4 343.9L743.5 342.3L744.7 340.7L745.9 339.1L747.3 337.3L748.7 335.5L750.2 333.7L751.6 331.8L753.1 330.1L754.5 328.4L755.9 326.8L757.4 325.1L758.8 323.6L760.2 322.0L761.5 320.6L762.8 319.2L764.2 317.9L765.5 316.6L766.7 315.4L767.9 314.2L768.9 313.2L769.8 312.3L770.7 311.4L771.5 310.6L772.2 309.9L772.8 309.3L773.2 308.9A1.3 1.3 0 0 0 771.4 307.1L771.0 307.5L770.4 308.1L769.7 308.8L768.9 309.6L768.0 310.5L767.1 311.4L766.1 312.4L764.9 313.5L763.7 314.8L762.4 316.1L761.0 317.4L759.7 318.8L758.3 320.3L756.9 321.8L755.5 323.5L754.0 325.1L752.6 326.8L751.1 328.5L749.7 330.2L748.2 332.0L746.7 333.9L745.2 335.7L743.8 337.4L742.5 339.1L741.3 340.7L740.1 342.3L739.0 343.8L738.0 345.2L737.1 346.5L736.4 347.7L735.9 348.7L735.6 349.5L735.3 350.3L735.2 351.2L735.4 352.0L735.6 352.7L735.9 353.6L736.3 354.5L736.8 355.6L737.5 356.6L738.5 357.5L739.6 358.2L740.8 358.7L742.1 359.0L743.5 359.2L744.9 359.2L746.4 358.9L747.8 358.4L749.1 357.7L750.4 356.8L751.6 355.8L752.8 354.6L753.8 353.2L754.6 351.7L755.4 350.1L756.1 348.4L756.7 346.6L757.2 344.8L757.6 342.8L757.7 340.9L757.6 339.0L757.5 337.2L757.2 335.4L756.8 333.6L756.3 331.9L755.7 330.1L754.9 328.1L753.9 326.0L752.9 324.0L751.9 322.0L751.0 320.1L750.3 318.3L749.6 316.6L748.8 314.9L748.1 313.2L747.4 311.6L746.9 310.1L746.6 308.6L746.3 307.2L746.0 305.8L745.8 304.5L745.6 303.3L745.6 302.2L745.8 301.3L746.1 300.4L746.6 299.5L747.1 298.6L747.8 297.7L748.5 297.0L749.1 296.5L749.7 296.1L750.3 295.8L751.0 295.7L751.6 295.6L752.2 295.6L752.6 295.7L753.0 295.8L753.4 296.1L753.9 296.5L754.3 296.9L754.7 297.5L755.0 298.2L755.3 299.1L755.7 300.1L755.9 301.2L756.0 302.4L756.1 303.5L756.0 304.5L755.7 305.7L755.1 307.1L754.4 308.7L753.6 310.1L752.9 311.4L752.5 312.4A2.0 2.0 0 0 0 756.1 314.2Z"/><path d="M783.6 271.1L783.2 272.4L782.6 274.2L781.9 276.3L781.2 278.7L780.4 281.2L779.6 283.7L778.8 286.4L777.9 289.2L777.0 292.2L776.0 295.3L775.0 298.5L774.1 301.7L773.2 305.0L772.2 308.3L771.2 311.8L770.3 315.2L769.4 318.6L768.5 322.0L767.7 325.3L767.0 328.7L766.2 332.0L765.5 335.3L764.9 338.4L764.3 341.3L763.8 344.0L763.4 346.7L763.1 349.2L762.8 351.5L762.7 353.7L762.6 355.6L762.6 357.4L762.8 358.9L763.2 360.2L763.7 361.4L764.3 362.4L765.0 363.3L765.9 364.1L767.3 364.6L768.6 364.4L769.8 364.0L770.7 363.3L771.5 362.5L772.4 361.6L773.2 360.5L774.0 359.2L774.9 357.8L775.8 356.2L776.8 354.5L777.9 352.5L779.1 350.3L780.4 347.9L781.6 345.4L782.9 342.9L784.1 340.5L785.3 338.3L786.5 336.0L787.8 333.7L789.0 331.4L790.2 329.1L791.5 326.7L792.9 324.1L794.4 321.3L795.9 318.4L797.4 315.7L798.6 313.5L799.5 311.8A1.3 1.3 0 0 0 797.1 310.6L796.3 312.2L795.0 314.5L793.6 317.2L792.1 320.0L790.5 322.9L789.1 325.5L787.9 327.8L786.6 330.1L785.4 332.4L784.1 334.7L782.9 337.0L781.7 339.3L780.4 341.6L779.1 344.1L777.8 346.5L776.5 348.9L775.3 351.0L774.2 352.9L773.2 354.6L772.1 356.0L771.2 357.2L770.3 358.3L769.5 359.1L768.9 359.7L768.4 360.0L768.0 360.1L768.0 359.9L768.4 359.8L768.8 359.8L769.0 359.9L769.0 359.8L769.0 359.5L769.0 359.0L769.1 358.2L769.2 357.2L769.2 356.0L769.4 354.4L769.7 352.4L770.1 350.3L770.6 347.9L771.2 345.4L771.7 342.7L772.3 339.9L773.0 336.9L773.7 333.7L774.5 330.4L775.3 327.1L776.1 323.8L776.9 320.5L777.7 317.1L778.5 313.7L779.4 310.3L780.3 306.9L781.1 303.7L782.0 300.5L782.9 297.4L783.7 294.2L784.6 291.2L785.4 288.3L786.2 285.7L786.9 283.1L787.6 280.5L788.2 278.1L788.8 276.0L789.3 274.2L789.6 272.9A3.1 3.1 0 0 0 783.6 271.1Z"/><path d="M759.2 296.9L761.1 296.6L763.6 296.2L766.6 295.7L769.8 295.2L772.8 294.7L775.4 294.1L777.3 293.8L778.8 293.5L780.1 293.4L781.6 293.2L783.6 292.8L786.5 292.3L790.9 291.5L796.5 290.4L802.6 289.3L808.6 288.3L813.7 287.3L817.3 286.7A2.5 2.5 0 0 0 816.3 281.7L812.8 282.4L807.7 283.4L801.7 284.6L795.6 285.8L790.0 286.9L785.7 287.7L782.7 288.3L780.7 288.9L779.2 289.3L777.9 289.8L776.5 290.2L774.6 290.7L772.1 291.2L769.1 292.0L766.0 292.8L763.1 293.6L760.5 294.2L758.8 294.7A1.2 1.2 0 0 0 759.2 296.9Z"/><path d="M438.6 433.9L437.8 434.0L436.7 434.2L435.3 434.5L433.7 434.8L432.0 435.2L430.3 435.8L428.7 436.6L427.0 437.4L425.3 438.3L423.7 439.3L422.1 440.3L420.5 441.4L419.0 442.5L417.5 443.7L416.1 444.9L414.8 446.2L413.6 447.4L412.4 448.5L411.3 449.6L410.3 450.8L409.3 451.9L408.5 453.0L407.7 454.0L407.1 455.0L406.6 456.0L406.3 457.0L406.3 458.0L406.5 459.0L406.9 459.8L407.2 460.3L407.5 460.8L408.1 461.3L408.9 461.9L409.9 462.4L411.1 462.5L412.4 462.3L413.7 461.9L415.1 461.2L416.6 460.4L418.2 459.5L419.9 458.5L421.5 457.6L423.1 456.6L424.8 455.5L426.6 454.3L428.3 453.0L430.1 451.6L431.7 450.2L433.4 448.5L435.1 446.7L436.7 444.7L438.2 442.9L439.4 441.3L440.3 440.2A1.3 1.3 0 0 0 438.3 438.6L437.4 439.7L436.1 441.2L434.6 443.0L433.0 444.9L431.4 446.7L429.9 448.2L428.3 449.5L426.7 450.7L425.0 451.9L423.2 453.0L421.5 454.1L419.9 455.0L418.4 455.9L416.7 456.8L415.2 457.5L413.7 458.2L412.5 458.6L411.6 458.9L411.1 458.9L411.0 458.9L411.0 458.8L411.0 458.6L411.0 458.4L410.8 458.1L410.7 457.9L410.8 457.9L410.9 458.0L411.0 458.1L411.1 458.0L411.3 457.6L411.7 457.0L412.4 456.2L413.2 455.3L414.1 454.3L415.2 453.3L416.2 452.3L417.3 451.2L418.5 450.1L419.8 449.0L421.1 447.9L422.4 446.8L423.7 445.8L425.1 444.9L426.6 444.0L428.1 443.1L429.6 442.3L431.0 441.5L432.3 441.0L433.6 440.5L434.9 440.2L436.3 439.9L437.6 439.7L438.7 439.5L439.6 439.3A2.8 2.8 0 0 0 438.6 433.9Z"/><path d="M435.6 435.5L435.4 436.6L435.1 438.1L434.7 439.7L434.3 441.5L433.8 443.4L433.3 445.2L432.6 447.0L431.8 449.0L430.9 451.1L429.9 453.3L428.9 455.5L427.9 457.7L427.0 459.8L426.0 461.9L425.0 464.0L424.0 466.1L423.0 468.3L422.0 470.4L420.9 472.5L419.9 474.7L418.8 476.9L417.7 479.0L416.7 481.1L415.6 483.2L414.6 485.3L413.5 487.3L412.4 489.4L411.4 491.4L410.4 493.4L409.4 495.2L408.5 497.0L407.6 498.8L406.8 500.6L406.0 502.3L405.3 503.8L404.7 505.2L404.2 506.4L403.9 507.5L403.7 508.5L403.6 509.5L403.7 510.6L403.8 511.7L404.1 512.8L404.8 513.8L405.6 514.5L406.5 515.1L407.7 515.4L408.8 515.5L409.8 515.3L410.6 514.9L411.3 514.3L412.0 513.5L412.8 512.6L413.7 511.4L414.8 510.0L416.0 508.3L417.4 506.3L418.8 504.2L420.2 501.9L421.7 499.5L423.2 496.9L424.8 494.0L426.4 491.0L428.0 487.9L429.5 485.1L431.0 482.5L432.3 480.2L433.6 478.1L434.9 476.1L436.1 474.3L437.3 472.5L438.5 470.8L439.7 469.1L440.9 467.6L442.0 466.1L443.2 464.7L444.4 463.3L445.5 461.9L446.7 460.5L448.0 459.2L449.2 457.9L450.5 456.6L451.7 455.3L453.0 453.9L454.3 452.6L455.7 451.1L457.0 449.7L458.4 448.3L459.7 446.9L460.8 445.5L462.0 444.1L463.0 442.8L464.1 441.4L465.0 440.2L465.8 439.0L466.4 438.1L467.0 437.2L467.5 436.6L467.9 435.9L468.2 435.3L468.4 434.5L468.4 433.8L468.2 433.0L467.9 432.1L467.1 431.3L466.1 430.6L464.9 430.4L463.7 430.5L462.6 430.8L461.3 431.1L459.7 431.4L458.0 432.0L456.2 432.8L454.6 434.0L453.1 435.3L451.7 436.8L450.3 438.4L448.9 440.1L447.7 441.8L446.6 443.6L445.6 445.4L444.7 447.3L444.0 449.1L443.3 451.0L442.7 452.9L442.2 454.7L441.8 456.5L441.5 458.3L441.4 460.1L441.3 461.8L441.4 463.5L441.4 465.1L441.6 466.6L442.0 468.1L442.6 469.5L443.2 470.7L443.9 471.9L444.7 473.0L445.6 474.0L446.7 474.7L447.9 475.2L449.1 475.5L450.3 475.6L451.5 475.7L452.7 475.5L453.8 475.2L454.8 474.7L455.8 474.1L456.8 473.4L457.9 472.6L459.1 471.8L460.3 470.8L461.5 469.7L462.8 468.5L464.1 467.2L465.4 465.9L466.8 464.5L468.1 463.0L469.6 461.4L470.9 459.8L472.3 458.2L473.7 456.6L475.0 454.9L476.5 453.2L477.9 451.4L479.2 449.7L480.3 448.4L481.1 447.4A1.4 1.4 0 0 0 478.9 445.6L478.1 446.6L477.0 448.0L475.7 449.7L474.3 451.4L472.9 453.2L471.5 454.8L470.2 456.4L468.8 458.0L467.4 459.5L466.1 461.1L464.7 462.6L463.4 463.9L462.1 465.1L460.8 466.3L459.5 467.4L458.3 468.4L457.2 469.2L456.1 470.0L455.1 470.6L454.2 471.0L453.3 471.3L452.6 471.5L452.0 471.5L451.5 471.5L451.0 471.4L450.5 471.2L450.1 470.8L449.7 470.4L449.4 470.0L449.1 469.6L448.9 469.1L448.7 468.4L448.5 467.6L448.5 466.7L448.4 465.7L448.4 464.7L448.4 463.6L448.5 462.3L448.7 461.0L449.1 459.6L449.4 458.1L449.8 456.7L450.2 455.2L450.8 453.7L451.4 452.1L452.1 450.6L452.8 449.1L453.6 447.6L454.5 446.2L455.4 444.7L456.4 443.2L457.5 441.8L458.5 440.6L459.4 439.6L460.3 438.9L461.3 438.1L462.3 437.4L463.3 436.7L464.3 436.2L465.1 435.9L465.4 435.7L465.3 435.5L465.1 435.2L464.9 434.8L465.0 434.5L465.0 434.4L465.0 434.4L465.1 434.4L465.1 434.7L464.9 435.1L464.6 435.8L464.2 436.5L463.5 437.5L462.7 438.6L461.8 439.8L460.9 441.1L459.8 442.4L458.8 443.7L457.6 445.0L456.3 446.4L455.0 447.8L453.7 449.2L452.3 450.7L451.0 452.1L449.7 453.4L448.5 454.7L447.2 456.0L446.0 457.3L444.7 458.7L443.5 460.1L442.2 461.5L441.1 462.9L439.9 464.4L438.7 465.9L437.5 467.5L436.3 469.2L435.0 471.0L433.8 472.8L432.6 474.7L431.3 476.6L430.0 478.8L428.6 481.1L427.1 483.7L425.6 486.6L423.9 489.7L422.3 492.7L420.8 495.5L419.3 498.1L417.8 500.4L416.4 502.6L415.0 504.7L413.6 506.6L412.4 508.2L411.3 509.6L410.4 510.6L409.7 511.2L409.2 511.6L408.8 511.7L408.6 511.7L408.6 511.7L408.7 511.7L408.8 511.6L408.9 511.4L408.9 511.1L409.0 510.9L409.0 510.9L409.1 510.9L409.3 510.7L409.6 510.4L409.9 509.9L410.4 509.2L410.9 508.2L411.6 507.0L412.4 505.6L413.3 504.1L414.3 502.5L415.4 500.8L416.4 499.0L417.4 497.1L418.5 495.2L419.6 493.2L420.7 491.2L421.9 489.1L423.0 487.0L424.1 484.9L425.2 482.7L426.2 480.5L427.3 478.4L428.4 476.2L429.4 474.0L430.5 471.9L431.5 469.7L432.5 467.6L433.5 465.4L434.5 463.3L435.5 461.1L436.5 458.9L437.5 456.7L438.5 454.4L439.4 452.2L440.3 450.0L441.1 447.8L441.8 445.7L442.4 443.6L442.8 441.6L443.2 439.8L443.5 438.3L443.8 437.3A4.2 4.2 0 0 0 435.6 435.5Z"/><path d="M491.6 445.2L491.8 444.3L492.2 443.1L492.7 441.6L493.2 439.9L493.6 438.3L493.9 436.7L494.1 435.2L494.2 433.8L494.2 432.3L494.0 430.9L493.8 429.5L493.4 428.2L492.8 427.0L492.0 426.0L491.1 425.0L490.0 424.3L488.9 423.7L487.8 423.3L486.5 423.1L485.2 423.2L484.0 423.5L482.8 423.9L481.7 424.4L480.6 425.0L479.7 425.8L478.7 426.6L477.9 427.6L477.1 428.7L476.4 429.8L475.9 431.1L475.5 432.4L475.1 433.7L474.8 435.1L474.6 436.5L474.5 438.0L474.6 439.5L474.8 441.0L475.0 442.6L475.2 444.3L475.5 446.0L475.8 447.8L476.4 449.6L477.1 451.5L477.9 453.5L478.7 455.4L479.5 457.4L480.2 459.2L480.8 460.8L481.4 462.4L481.9 463.9L482.4 465.4L482.8 466.8L483.2 468.0L483.4 469.3L483.6 470.4L483.8 471.5L484.0 472.4L484.1 473.3L484.1 474.2L483.9 475.1L483.7 476.1L483.4 477.2L483.0 478.4L482.5 479.5L482.0 480.6L481.4 481.6L480.8 482.4L480.0 483.3L479.3 484.1L478.5 484.8L477.8 485.4L477.3 485.7L477.0 485.7L476.6 485.8L476.2 485.8L475.7 485.6L475.2 485.4L474.7 485.2L474.4 485.0L474.1 484.7L473.8 484.3L473.5 483.8L473.3 483.3L473.1 482.8L472.9 482.3L472.8 482.0L472.7 481.8L472.7 481.5L472.8 481.0L473.1 480.3L473.6 479.4L474.3 478.3L475.1 477.1L476.1 475.8L477.1 474.4L478.2 473.1L479.4 471.6L480.8 470.1L482.1 468.5L483.6 466.9L485.0 465.3L486.4 463.9L487.8 462.6L489.1 461.4L490.5 460.2L491.9 459.0L493.3 457.9L494.7 456.6L496.0 455.4L497.3 454.2L498.6 452.9L499.8 451.6L501.0 450.4L502.1 449.1L503.1 447.7L504.1 446.3L505.0 444.8L505.7 443.5L506.3 442.4L506.8 441.6A1.3 1.3 0 0 0 504.6 440.4L504.1 441.2L503.5 442.3L502.8 443.5L501.9 444.9L501.0 446.3L500.1 447.5L499.1 448.7L498.0 449.9L496.8 451.1L495.5 452.3L494.2 453.5L492.9 454.8L491.6 455.9L490.3 457.1L488.9 458.3L487.5 459.5L486.0 460.7L484.6 462.1L483.2 463.6L481.7 465.1L480.2 466.7L478.8 468.3L477.4 469.9L476.2 471.3L475.0 472.7L473.9 474.1L472.8 475.4L471.8 476.6L471.0 477.8L470.3 478.9L469.9 479.9L469.5 480.7L469.3 481.6L469.3 482.4L469.4 483.1L469.5 483.8L469.7 484.5L470.0 485.4L470.4 486.3L470.9 487.1L471.5 487.9L472.3 488.6L473.1 489.1L474.0 489.6L475.0 490.1L476.2 490.4L477.5 490.4L478.9 490.1L480.2 489.6L481.4 488.9L482.6 488.1L483.8 487.2L485.0 486.2L486.0 485.0L486.9 483.8L487.8 482.5L488.7 481.2L489.5 479.7L490.2 478.3L490.7 476.7L491.0 475.2L491.3 473.8L491.4 472.3L491.4 470.9L491.4 469.4L491.2 467.9L490.9 466.4L490.5 464.7L490.1 463.1L489.6 461.4L489.0 459.7L488.4 458.0L487.7 456.1L486.8 454.2L485.9 452.3L485.0 450.4L484.2 448.6L483.6 447.0L483.1 445.5L482.5 444.0L481.9 442.6L481.4 441.3L481.0 440.0L480.8 438.7L480.6 437.5L480.4 436.4L480.2 435.3L480.1 434.3L480.1 433.4L480.3 432.5L480.6 431.7L481.0 430.9L481.4 430.2L481.9 429.5L482.4 428.8L483.0 428.4L483.6 428.0L484.3 427.7L485.0 427.4L485.8 427.3L486.4 427.2L486.8 427.3L487.3 427.5L487.8 427.7L488.4 428.2L488.9 428.6L489.3 429.2L489.6 429.8L489.8 430.5L490.0 431.4L490.1 432.5L490.1 433.7L490.0 434.9L489.9 436.1L489.6 437.4L489.3 438.8L488.8 440.4L488.3 441.8L487.9 443.1L487.6 444.0A2.0 2.0 0 0 0 491.6 445.2Z"/><path d="M503.1 437.1L502.8 438.3L502.5 439.8L502.1 441.6L501.7 443.6L501.2 445.6L500.8 447.4L500.3 449.3L499.8 451.3L499.2 453.3L498.7 455.3L498.2 457.2L497.7 458.8L497.3 460.3L497.0 461.6L496.7 462.9L496.5 464.1L496.3 465.4L496.3 466.7L496.4 467.9L496.8 469.1L497.5 470.2L498.7 471.2L500.4 471.6L502.0 471.1L503.2 470.1L504.5 468.9L505.7 467.3L507.1 465.6L508.4 463.8L509.7 462.1L510.9 460.4L512.2 458.5L513.5 456.5L514.7 454.6L515.8 452.7L517.0 450.9L518.1 449.2L519.2 447.4L520.2 445.6L521.2 444.0L521.9 442.7L522.5 441.7A1.3 1.3 0 0 0 520.3 440.3L519.7 441.3L518.9 442.6L517.9 444.2L516.8 446.0L515.7 447.7L514.6 449.5L513.5 451.2L512.3 453.1L511.1 455.0L509.8 456.9L508.5 458.7L507.3 460.3L506.0 461.9L504.6 463.6L503.2 465.1L501.9 466.5L500.8 467.4L500.2 467.9L500.3 467.8L500.9 467.9L501.2 467.9L501.3 467.6L501.3 467.2L501.3 466.7L501.4 466.2L501.7 465.6L502.1 464.7L502.7 463.6L503.3 462.3L503.9 460.8L504.4 459.1L505.1 457.3L505.8 455.3L506.5 453.3L507.2 451.3L507.8 449.4L508.4 447.4L508.9 445.3L509.4 443.3L509.9 441.5L510.2 440.0L510.5 438.9A3.8 3.8 0 0 0 503.1 437.1Z"/><path d="M518.4 437.0L518.1 438.2L517.7 439.9L517.2 442.0L516.7 444.2L516.2 446.5L515.7 448.6L515.3 450.6L514.9 452.8L514.6 455.0L514.2 457.1L514.0 459.2L513.8 461.0L513.8 462.7L514.0 464.3L514.3 465.7L514.7 466.9L515.2 468.0L515.7 468.9L516.4 469.8L517.3 470.5L518.6 470.9L519.9 470.8L521.0 470.4L522.1 469.8L523.2 469.0L524.3 468.0L525.6 466.7L526.9 465.4L528.3 463.8L529.6 462.3L531.0 460.5L532.5 458.5L534.0 456.3L535.5 454.1L536.8 452.0L538.0 450.1L539.0 448.2L539.8 446.3L540.4 444.5L541.0 442.9L541.4 441.6L541.7 440.6A1.3 1.3 0 0 0 539.3 439.8L538.9 440.7L538.4 442.1L537.9 443.6L537.3 445.3L536.5 447.0L535.6 448.7L534.5 450.6L533.2 452.6L531.7 454.7L530.2 456.7L528.7 458.7L527.4 460.3L526.1 461.8L524.7 463.1L523.4 464.3L522.1 465.3L521.0 466.1L520.1 466.6L519.6 466.9L519.4 466.8L519.6 466.7L520.0 466.6L520.1 466.6L520.1 466.5L520.0 466.1L519.9 465.5L519.9 464.8L520.0 463.9L520.1 462.8L520.2 461.6L520.4 460.1L520.8 458.3L521.3 456.4L521.8 454.3L522.4 452.2L522.9 450.2L523.3 448.2L523.9 446.0L524.5 443.8L525.0 441.8L525.5 440.1L525.8 438.8A3.8 3.8 0 0 0 518.4 437.0Z"/><path d="M536.7 436.8L536.5 438.1L536.3 439.9L535.9 442.1L535.6 444.4L535.2 446.6L534.9 448.7L534.5 450.7L534.1 452.8L533.7 455.0L533.4 457.1L533.1 459.1L532.8 460.9L532.7 462.4L532.8 464.0L533.0 465.4L533.3 466.9L534.8 469.0L538.1 469.1L539.4 467.8L540.3 466.3L541.3 464.5L542.3 462.5L543.4 460.5L544.6 458.5L545.9 456.6L547.2 454.4L548.6 452.1L550.0 449.8L551.4 447.6L552.7 445.5L553.9 443.6L555.1 441.8L556.3 440.0L557.4 438.3L558.5 436.8L559.3 435.5L560.2 434.3L561.1 433.1L561.9 432.2L562.4 431.8L561.2 432.5L558.4 430.5L558.3 430.9L557.9 432.3L557.3 434.3L556.6 436.5L555.9 438.9L555.3 441.2L554.7 443.5L554.1 445.9L553.5 448.4L552.8 450.9L552.2 453.4L551.5 455.7L550.9 458.0L550.4 460.2L549.8 462.5L549.2 464.7L548.7 466.9L548.2 468.8L547.9 470.6L547.7 472.3L547.6 473.9L547.6 475.5L547.6 476.9L547.8 478.3L548.2 479.6L548.9 480.8L549.8 481.7L551.0 482.4L552.2 482.7L553.5 482.7L554.7 482.4L555.8 481.8L556.8 481.1L557.8 480.2L558.8 479.1L559.9 477.9L561.1 476.5L562.3 474.9L563.6 473.1L564.8 471.3L566.1 469.4L567.3 467.6L568.6 465.8L569.9 463.9L571.1 461.9L572.4 460.0L573.6 458.2L574.7 456.5L575.8 454.9L576.9 453.3L577.9 451.7L578.9 450.3L579.6 449.1L580.2 448.2A1.3 1.3 0 0 0 578.0 446.8L577.4 447.6L576.6 448.8L575.7 450.2L574.7 451.8L573.6 453.4L572.5 455.1L571.4 456.8L570.2 458.6L568.9 460.4L567.6 462.3L566.3 464.2L565.1 466.0L563.8 467.8L562.5 469.7L561.2 471.5L559.9 473.1L558.7 474.6L557.7 475.9L556.7 476.9L555.7 477.7L554.8 478.3L554.0 478.6L553.4 478.8L553.1 478.9L553.0 478.8L553.0 478.7L553.1 478.5L553.1 478.2L553.1 477.9L553.0 477.5L553.0 476.9L553.2 475.9L553.5 474.8L553.9 473.5L554.3 472.0L554.8 470.4L555.2 468.6L555.9 466.7L556.6 464.6L557.4 462.4L558.2 460.0L558.9 457.7L559.5 455.3L560.1 452.7L560.7 450.2L561.3 447.6L561.8 445.1L562.3 442.8L562.8 440.5L563.2 438.0L563.4 435.5L563.7 433.3L563.8 431.5L563.8 429.9L560.7 427.3L558.7 428.7L558.2 429.9L557.7 431.1L557.2 432.4L556.5 433.7L555.6 435.0L554.7 436.6L553.7 438.4L552.7 440.2L551.5 442.1L550.3 444.1L549.0 446.1L547.6 448.2L546.1 450.4L544.6 452.6L543.1 454.7L541.8 456.7L540.5 458.6L539.1 460.4L537.7 462.2L536.5 463.6L535.6 464.5L535.5 464.5L537.9 464.6L538.8 465.6L539.1 465.3L539.3 464.3L539.6 463.1L539.8 461.7L540.0 460.3L540.4 458.5L540.9 456.5L541.4 454.4L541.9 452.2L542.3 450.1L542.7 447.9L543.1 445.6L543.4 443.2L543.8 441.1L544.1 439.3L544.3 438.0A3.8 3.8 0 0 0 536.7 436.8Z"/><path d="M591.8 434.7L591.1 434.9L590.0 435.1L588.5 435.5L586.8 436.1L585.0 436.9L583.2 438.1L581.6 439.5L580.3 441.0L579.0 442.7L577.9 444.4L576.8 446.0L575.9 447.6L575.1 449.3L574.5 451.0L574.0 452.6L573.6 454.2L573.4 455.7L573.1 457.1L573.0 458.5L573.1 459.8L573.3 461.1L573.7 462.2L574.1 463.3L574.6 464.3L575.2 465.2L576.1 465.9L577.2 466.3L578.5 466.4L579.7 466.2L580.8 465.8L581.9 465.1L583.0 464.2L584.1 463.2L585.2 462.0L586.4 460.8L587.5 459.5L588.6 458.1L589.8 456.6L590.9 455.0L592.0 453.3L593.1 451.7L594.1 450.1L594.9 448.6L595.6 447.2L596.3 445.8L596.9 444.4L597.7 442.7L598.7 440.8L599.9 438.5L601.3 436.0L602.8 433.3L604.4 430.4L606.0 427.5L607.6 424.6L609.2 421.7L610.9 418.7L612.6 415.6L614.3 412.6L615.9 409.8L617.4 407.3L618.7 405.0L620.0 402.9L621.2 401.0L622.3 399.3L623.3 397.8L624.1 396.6L624.6 395.7L625.1 395.2L625.4 394.8L625.8 394.4L626.1 393.8L626.3 393.1L626.2 392.3L626.0 391.5L625.7 390.8L625.1 390.2L624.5 389.7L623.8 389.4L623.2 389.2L622.5 389.0L621.6 388.8L620.4 388.8L619.2 389.1L618.0 389.9L616.9 390.8L615.9 391.9L614.8 393.1L613.8 394.4L612.9 395.7L612.0 397.0L611.2 398.3L610.4 399.5L609.6 400.8L608.8 402.1L608.0 403.5L607.2 405.0L606.4 406.6L605.4 408.3L604.4 410.1L603.4 412.1L602.3 414.3L601.3 416.8L600.4 419.6L599.4 422.6L598.4 425.8L597.4 429.1L596.5 432.3L595.6 435.5L594.8 438.6L594.0 441.8L593.2 445.0L592.5 448.2L591.8 451.2L591.1 454.1L590.5 456.9L590.1 459.7L589.7 462.3L589.3 464.8L589.0 467.1L588.7 469.0L588.4 470.7L588.3 472.1L588.2 473.4L588.2 474.7L588.3 476.0L588.4 477.3L588.8 478.6L589.3 479.8L590.1 480.9L591.0 481.9L592.2 482.7L593.7 483.0L595.1 482.8L596.3 482.2L597.4 481.3L598.4 480.3L599.5 479.1L600.5 477.8L601.6 476.3L602.6 474.6L603.7 472.7L604.8 470.6L605.8 468.6L606.9 466.5L608.0 464.5L609.1 462.3L610.2 460.1L611.3 457.8L612.4 455.6L613.4 453.6L614.4 451.5L615.4 449.3L616.3 447.2L617.2 445.3L617.9 443.7L618.4 442.5A1.3 1.3 0 0 0 616.0 441.5L615.5 442.6L614.7 444.2L613.9 446.2L613.0 448.2L612.0 450.4L611.0 452.4L610.0 454.5L608.9 456.6L607.8 458.8L606.7 461.1L605.6 463.2L604.5 465.3L603.4 467.3L602.3 469.3L601.2 471.2L600.1 473.0L599.1 474.6L598.1 476.0L597.1 477.0L596.2 477.9L595.3 478.6L594.5 479.0L594.0 479.2L593.9 479.2L594.0 479.2L594.1 479.0L593.9 478.5L593.8 477.9L593.7 477.2L593.6 476.5L593.6 475.9L593.7 475.2L594.0 474.4L594.4 473.3L594.8 471.9L595.1 470.2L595.5 468.2L595.9 466.0L596.5 463.6L597.1 461.0L597.7 458.4L598.3 455.7L598.9 452.9L599.7 449.9L600.5 446.8L601.3 443.7L602.1 440.6L603.0 437.5L603.8 434.4L604.7 431.1L605.6 427.9L606.5 424.8L607.4 421.9L608.3 419.4L609.1 417.1L609.9 415.1L610.7 413.2L611.6 411.4L612.4 409.7L613.2 408.0L613.9 406.4L614.5 405.0L615.1 403.6L615.6 402.4L616.1 401.2L616.8 400.0L617.5 398.7L618.3 397.3L619.0 396.0L619.7 394.8L620.3 393.9L620.8 393.3L621.1 393.1L621.3 393.0L621.5 392.9L621.8 392.9L622.2 392.9L622.6 393.0L622.7 393.0L622.8 393.0L622.8 393.0L622.9 393.0L622.9 392.9L622.9 392.9L623.0 392.8L623.1 392.7L623.0 392.9L622.7 393.3L622.2 394.0L621.5 395.0L620.8 396.3L619.8 397.8L618.8 399.5L617.6 401.5L616.4 403.6L615.0 405.9L613.6 408.5L612.0 411.3L610.3 414.3L608.6 417.4L606.9 420.4L605.2 423.4L603.7 426.2L602.0 429.1L600.5 432.0L599.0 434.7L597.6 437.3L596.3 439.6L595.3 441.5L594.5 443.2L593.8 444.7L593.2 446.0L592.5 447.3L591.7 448.7L590.8 450.2L589.7 451.8L588.6 453.4L587.5 454.9L586.4 456.3L585.3 457.5L584.2 458.7L583.0 459.7L581.9 460.7L580.8 461.5L579.9 462.1L579.2 462.4L578.8 462.5L578.7 462.4L578.8 462.3L579.0 462.2L579.0 462.0L579.0 461.9L578.9 461.6L578.9 461.2L579.0 460.5L579.2 459.8L579.3 459.0L579.5 458.1L579.7 457.1L580.1 455.9L580.5 454.7L581.1 453.5L581.7 452.3L582.3 451.2L583.1 449.9L584.0 448.5L585.0 447.1L586.0 445.9L587.0 444.8L587.8 444.1L588.6 443.6L589.5 443.2L590.7 442.8L591.9 442.5L593.1 442.2L594.0 441.9A3.8 3.8 0 0 0 591.8 434.7Z"/></g>
<!-- header text -->
<g class="b" fill="#000">
<text x="895.1" y="240.1" font-size="54.06" letter-spacing="0.59">in 6 Wochen</text>
<text x="855.2" y="308.5" font-size="43.2" letter-spacing="0.25">mit Sara Mössinger</text>
<text x="923" y="413.5" font-size="43.1" letter-spacing="0.35">Donnerstags</text>
<text x="969.1" y="474.6" font-size="43.1" letter-spacing="0.39">9-12 Uhr</text>
<text x="144.8" y="627" font-size="49.7" letter-spacing="0.08">Das exlusives Gesundheitscoaching für Frauen</text>
</g>
<!-- list -->
<g fill="none" stroke-linejoin="round" stroke-linecap="round">
<path d="M346.4 692.2C341.5 692.2 326.1 691.7 316.9 692.0C307.7 692.3 297.5 693.2 291.2 694.0C284.9 694.8 283.4 695.2 279.3 696.9C275.2 698.6 271.0 700.8 266.4 704.1C261.8 707.4 256.0 712.1 251.6 716.9C247.2 721.7 242.9 727.8 240.1 732.8C237.3 737.8 235.9 743.5 234.8 747.2C233.7 750.9 233.4 752.3 233.4 755.1C233.4 757.9 233.7 761.1 235.1 764.1C236.5 767.1 238.8 770.3 241.7 773.0C244.6 775.7 248.0 778.3 252.6 780.3C257.2 782.3 262.3 783.6 269.4 784.9C276.5 786.2 282.3 787.1 295.1 788.0C307.9 788.9 337.9 789.7 346.4 790.0" stroke="#d4e4da" stroke-width="14.6" stroke-linecap="butt"/>
<path d="M344.8 692.2C349.7 692.2 365.1 691.7 374.3 692.0C383.5 692.3 393.7 693.2 400.0 694.0C406.3 694.8 407.8 695.2 411.9 696.9C416.0 698.6 420.2 700.8 424.8 704.1C429.4 707.4 435.2 712.1 439.6 716.9C444.0 721.7 448.3 727.8 451.1 732.8C453.9 737.8 455.3 743.5 456.4 747.2C457.5 750.9 457.9 752.3 457.8 755.1C457.8 757.9 457.5 761.1 456.1 764.1C454.7 767.1 452.4 770.3 449.5 773.0C446.6 775.7 443.2 778.3 438.6 780.3C434.0 782.3 428.9 783.6 421.8 784.9C414.7 786.2 408.9 787.1 396.1 788.0C383.3 788.9 353.4 789.7 344.8 790.0" stroke="#d4e4da" stroke-width="14.6" stroke-linecap="butt"/>
<path d="M345.6 684.9v14.6M345.6 782.7v14.6" stroke="#c9dcd0" stroke-width="3.2" stroke-linecap="butt"/>
<path d="M346.3 842.0C342.2 841.6 330.1 840.6 321.6 839.6C313.1 838.6 302.5 836.7 295.2 835.8C287.9 834.9 283.2 834.5 277.7 834.1C272.2 833.7 267.3 833.4 262.4 833.6C257.5 833.8 252.8 834.4 248.1 835.4C243.3 836.4 238.2 837.6 233.9 839.6C229.6 841.6 225.7 844.0 222.2 847.2C218.7 850.4 215.5 854.7 213.0 858.9C210.5 863.1 208.3 868.6 207.1 872.4C205.9 876.2 205.4 878.5 205.8 881.9C206.2 885.3 207.4 889.3 209.7 892.8C212.0 896.3 215.0 899.6 219.6 902.7C224.2 905.8 230.1 908.8 237.1 911.5C244.1 914.2 252.7 917.1 261.3 919.1C269.9 921.1 279.4 922.3 288.7 923.5C298.0 924.7 307.6 925.5 317.2 926.2C326.8 926.9 341.4 927.3 346.3 927.5" stroke="#e7f1d6" stroke-width="13.8" stroke-linecap="butt"/>
<path d="M345.1 842.0C349.2 841.6 361.3 840.6 369.8 839.6C378.3 838.6 388.9 836.7 396.2 835.8C403.5 834.9 408.2 834.5 413.7 834.1C419.2 833.7 424.1 833.4 429.0 833.6C433.9 833.8 438.5 834.4 443.3 835.4C448.0 836.4 453.2 837.6 457.5 839.6C461.8 841.6 465.7 844.0 469.2 847.2C472.7 850.4 475.9 854.7 478.4 858.9C480.9 863.1 483.1 868.6 484.3 872.4C485.5 876.2 486.0 878.5 485.6 881.9C485.2 885.3 484.0 889.3 481.7 892.8C479.4 896.3 476.4 899.6 471.8 902.7C467.2 905.8 461.2 908.8 454.3 911.5C447.3 914.2 438.7 917.1 430.1 919.1C421.5 921.1 412.0 922.3 402.7 923.5C393.4 924.7 383.8 925.5 374.2 926.2C364.6 926.9 349.9 927.3 345.1 927.5" stroke="#e7f1d6" stroke-width="13.8" stroke-linecap="butt"/>
<path d="M345.7 835.1v13.8M345.7 920.6v13.8" stroke="#dcebc6" stroke-width="3.2" stroke-linecap="butt"/>
<path d="M346.2 965.2C342.2 964.8 330.5 963.6 322.3 963.0C314.1 962.4 304.4 961.9 296.8 961.5C289.2 961.1 282.7 960.8 276.7 960.9C270.7 961.0 265.8 961.3 260.8 962.0C255.9 962.7 251.4 963.6 247.0 965.2C242.6 966.8 238.0 968.9 234.3 971.5C230.6 974.1 227.5 977.3 224.7 981.1C221.9 984.9 219.1 989.8 217.3 994.2C215.5 998.6 214.6 1003.6 214.1 1007.6C213.6 1011.6 213.6 1014.8 214.5 1018.2C215.4 1021.6 217.3 1025.3 219.8 1028.2C222.3 1031.1 225.0 1033.4 229.4 1035.8C233.8 1038.2 239.7 1040.3 246.3 1042.6C253.0 1044.9 261.1 1047.2 269.3 1049.4C277.6 1051.6 287.3 1054.2 295.8 1056.0C304.3 1057.8 311.8 1059.0 320.2 1060.2C328.6 1061.4 341.9 1062.7 346.2 1063.2" stroke="#f3d68b" stroke-width="14.0" stroke-linecap="butt"/>
<path d="M345.0 965.2C349.0 964.8 360.7 963.6 368.9 963.0C377.1 962.4 386.8 961.9 394.4 961.5C402.0 961.1 408.5 960.8 414.5 960.9C420.5 961.0 425.5 961.3 430.4 962.0C435.4 962.7 439.8 963.6 444.2 965.2C448.6 966.8 453.2 968.9 456.9 971.5C460.6 974.1 463.7 977.3 466.5 981.1C469.3 984.9 472.1 989.8 473.9 994.2C475.7 998.6 476.6 1003.6 477.1 1007.6C477.6 1011.6 477.7 1014.8 476.7 1018.2C475.8 1021.6 473.9 1025.3 471.4 1028.2C468.9 1031.1 466.2 1033.4 461.8 1035.8C457.4 1038.2 451.6 1040.3 444.9 1042.6C438.2 1044.9 430.2 1047.2 421.9 1049.4C413.7 1051.6 403.9 1054.2 395.4 1056.0C386.9 1057.8 379.4 1059.0 371.0 1060.2C362.6 1061.4 349.3 1062.7 345.0 1063.2" stroke="#f3d68b" stroke-width="14.0" stroke-linecap="butt"/>
<path d="M345.6 958.2v14.0M345.6 1056.2v14.0" stroke="#f0c76a" stroke-width="3.2" stroke-linecap="butt"/>
<path d="M342.1 1114.6C337.0 1114.6 321.1 1114.1 311.6 1114.4C302.1 1114.7 291.5 1115.6 285.0 1116.4C278.5 1117.2 277.0 1117.6 272.7 1119.3C268.4 1121.0 264.1 1123.2 259.3 1126.5C254.5 1129.8 248.5 1134.5 244.0 1139.3C239.5 1144.1 235.0 1150.1 232.1 1155.2C229.2 1160.2 227.8 1165.9 226.6 1169.6C225.5 1173.3 225.1 1174.7 225.2 1177.5C225.2 1180.3 225.5 1183.5 226.9 1186.5C228.4 1189.5 230.7 1192.7 233.8 1195.4C236.8 1198.1 240.3 1200.7 245.0 1202.7C249.8 1204.7 255.1 1206.0 262.4 1207.3C269.8 1208.6 275.8 1209.6 289.0 1210.4C302.3 1211.2 333.3 1212.1 342.1 1212.4" stroke="#f4b98b" stroke-width="14.6" stroke-linecap="butt"/>
<path d="M340.5 1114.6C345.6 1114.6 361.5 1114.1 371.0 1114.4C380.5 1114.7 391.1 1115.6 397.6 1116.4C404.1 1117.2 405.6 1117.6 409.9 1119.3C414.2 1121.0 418.5 1123.2 423.3 1126.5C428.1 1129.8 434.1 1134.5 438.6 1139.3C443.1 1144.1 447.6 1150.1 450.5 1155.2C453.4 1160.2 454.8 1165.9 456.0 1169.6C457.1 1173.3 457.5 1174.7 457.4 1177.5C457.4 1180.3 457.1 1183.5 455.7 1186.5C454.2 1189.5 451.9 1192.7 448.8 1195.4C445.8 1198.1 442.3 1200.7 437.6 1202.7C432.8 1204.7 427.5 1206.0 420.2 1207.3C412.8 1208.6 406.8 1209.6 393.6 1210.4C380.3 1211.2 349.3 1212.1 340.5 1212.4" stroke="#f4b98b" stroke-width="14.6" stroke-linecap="butt"/>
<path d="M341.3 1107.3v14.6M341.3 1205.1v14.6" stroke="#f9d8bf" stroke-width="0.9" stroke-linecap="butt"/>
<path d="M342.0 1264.2C337.8 1263.8 325.3 1262.8 316.5 1261.8C307.7 1260.8 296.8 1258.9 289.2 1258.0C281.7 1257.1 276.8 1256.7 271.2 1256.3C265.5 1255.9 260.4 1255.6 255.4 1255.8C250.3 1256.0 245.5 1256.6 240.6 1257.6C235.7 1258.6 230.4 1259.8 225.9 1261.8C221.5 1263.8 217.4 1266.2 213.8 1269.4C210.2 1272.6 206.9 1276.9 204.3 1281.1C201.7 1285.3 199.5 1290.8 198.2 1294.6C197.0 1298.4 196.4 1300.7 196.9 1304.1C197.3 1307.5 198.5 1311.5 200.9 1315.0C203.3 1318.5 206.4 1321.8 211.1 1324.9C215.9 1328.0 222.0 1331.0 229.2 1333.7C236.4 1336.4 245.3 1339.3 254.2 1341.3C263.1 1343.3 272.9 1344.5 282.5 1345.7C292.1 1346.9 302.0 1347.7 312.0 1348.4C321.9 1349.1 337.0 1349.5 342.0 1349.7" stroke="#f2bfbe" stroke-width="13.8" stroke-linecap="butt"/>
<path d="M340.8 1264.2C345.0 1263.8 357.5 1262.8 366.3 1261.8C375.1 1260.8 386.0 1258.9 393.6 1258.0C401.1 1257.1 406.0 1256.7 411.6 1256.3C417.3 1255.9 422.4 1255.6 427.4 1255.8C432.5 1256.0 437.3 1256.6 442.2 1257.6C447.1 1258.6 452.4 1259.8 456.9 1261.8C461.3 1263.8 465.4 1266.2 469.0 1269.4C472.6 1272.6 475.9 1276.9 478.5 1281.1C481.1 1285.3 483.3 1290.8 484.6 1294.6C485.8 1298.4 486.4 1300.7 485.9 1304.1C485.5 1307.5 484.3 1311.5 481.9 1315.0C479.5 1318.5 476.4 1321.8 471.7 1324.9C466.9 1328.0 460.8 1331.0 453.6 1333.7C446.4 1336.4 437.5 1339.3 428.6 1341.3C419.7 1343.3 409.9 1344.5 400.3 1345.7C390.7 1346.9 380.8 1347.7 370.8 1348.4C360.9 1349.1 345.8 1349.5 340.8 1349.7" stroke="#f2bfbe" stroke-width="13.8" stroke-linecap="butt"/>
<path d="M341.4 1257.3v13.8M341.4 1342.8v13.8" stroke="#f8dcdb" stroke-width="0.9" stroke-linecap="butt"/>
<path d="M341.8 1387.5C337.7 1387.1 325.6 1385.9 317.1 1385.3C308.6 1384.7 298.6 1384.1 290.7 1383.8C282.9 1383.5 276.2 1383.1 270.0 1383.2C263.8 1383.3 258.6 1383.6 253.5 1384.3C248.4 1385.0 243.8 1385.9 239.2 1387.5C234.7 1389.1 230.0 1391.1 226.1 1393.8C222.3 1396.5 219.1 1399.6 216.2 1403.4C213.3 1407.2 210.4 1412.1 208.5 1416.5C206.7 1420.9 205.7 1425.9 205.2 1429.9C204.7 1433.9 204.7 1437.1 205.6 1440.5C206.6 1443.9 208.6 1447.6 211.1 1450.5C213.7 1453.4 216.5 1455.7 221.0 1458.1C225.6 1460.5 231.6 1462.6 238.5 1464.9C245.4 1467.2 253.8 1469.5 262.3 1471.7C270.8 1473.9 280.9 1476.5 289.7 1478.3C298.5 1480.1 306.3 1481.3 314.9 1482.5C323.6 1483.7 337.3 1485.0 341.8 1485.5" stroke="#efa497" stroke-width="14.0" stroke-linecap="butt"/>
<path d="M340.6 1387.5C344.7 1387.1 356.8 1385.9 365.3 1385.3C373.8 1384.7 383.8 1384.1 391.7 1383.8C399.5 1383.5 406.2 1383.1 412.4 1383.2C418.6 1383.3 423.8 1383.6 428.9 1384.3C434.0 1385.0 438.6 1385.9 443.2 1387.5C447.7 1389.1 452.4 1391.1 456.3 1393.8C460.1 1396.5 463.3 1399.6 466.2 1403.4C469.1 1407.2 472.0 1412.1 473.9 1416.5C475.7 1420.9 476.7 1425.9 477.2 1429.9C477.7 1433.9 477.7 1437.1 476.8 1440.5C475.8 1443.9 473.8 1447.6 471.3 1450.5C468.7 1453.4 465.9 1455.7 461.4 1458.1C456.8 1460.5 450.8 1462.6 443.9 1464.9C437.0 1467.2 428.6 1469.5 420.1 1471.7C411.6 1473.9 401.5 1476.5 392.7 1478.3C383.9 1480.1 376.1 1481.3 367.5 1482.5C358.8 1483.7 345.1 1485.0 340.6 1485.5" stroke="#efa497" stroke-width="14.0" stroke-linecap="butt"/>
<path d="M341.2 1380.5v14.0M341.2 1478.5v14.0" stroke="#f6c9c0" stroke-width="0.9" stroke-linecap="butt"/>
<path d="M687.2 694.0C702.0 692.7 719.8 692.0 753.9 691.3C788.0 690.6 845.8 690.5 891.8 689.9C937.8 689.3 995.2 688.5 1029.7 687.6C1064.2 686.8 1081.4 684.8 1098.6 684.8C1115.8 684.8 1123.1 685.0 1133.1 687.6C1143.1 690.2 1151.3 695.5 1158.4 700.5C1165.5 705.5 1171.2 711.1 1175.9 717.5C1180.7 723.9 1184.9 732.8 1186.9 739.1C1188.9 745.5 1188.9 750.8 1187.8 755.6C1186.7 760.4 1184.6 764.7 1180.5 768.0C1176.4 771.3 1172.8 773.6 1163.0 775.4C1153.2 777.2 1143.8 777.5 1121.6 778.6C1099.4 779.7 1068.0 780.9 1029.7 781.8C991.4 782.7 937.8 784.1 891.8 784.1C845.8 784.1 792.2 782.5 753.9 781.8C715.6 781.1 683.7 780.7 661.9 780.0C640.1 779.3 632.7 779.5 622.9 777.7C613.1 775.9 607.5 773.1 603.1 769.4C598.7 765.7 597.1 760.4 596.7 755.6C596.3 750.8 597.2 745.7 600.8 740.4C604.4 735.1 611.2 729.2 618.3 723.9C625.4 718.5 635.7 712.4 643.5 708.3C651.3 704.2 657.9 701.5 665.2 699.1C672.5 696.7 672.4 695.3 687.2 694.0Z" stroke="#d4e4da" stroke-width="14.0"/>
<path d="M588.6 833.1C612.8 833.5 684.1 834.8 733.7 835.6C783.3 836.4 835.5 837.4 886.4 837.7C937.3 838.1 1001.0 838.9 1039.2 837.7C1077.4 836.5 1094.8 832.4 1115.6 830.6C1136.4 828.8 1151.0 826.3 1163.9 827.0C1176.8 827.7 1185.1 830.6 1193.0 834.6C1200.9 838.6 1207.4 844.6 1211.3 850.9C1215.2 857.2 1216.8 865.5 1216.4 872.3C1216.0 879.1 1214.6 886.8 1208.8 891.7C1203.0 896.6 1197.3 898.7 1181.8 901.8C1166.3 904.9 1147.8 907.9 1115.6 910.5C1083.3 913.1 1035.0 916.0 988.3 917.6C941.6 919.2 886.4 920.2 835.5 920.2C784.6 920.2 721.0 918.9 682.8 917.6C644.6 916.3 624.4 914.7 606.4 912.5C588.4 910.3 582.6 908.3 574.8 904.4C567.0 900.5 562.4 894.6 559.5 889.1C556.6 883.6 556.7 877.2 557.5 871.3C558.3 865.4 561.1 858.6 564.1 853.5C567.1 848.4 571.7 844.1 575.8 840.7C579.9 837.3 586.5 834.4 588.6 833.1Z" stroke="#e7f1d6" stroke-width="14.3"/>
<path d="M608.9 980.3C621.2 979.1 636.5 980.4 657.3 978.8C678.1 977.2 704.0 973.1 733.7 970.6C763.4 968.1 793.1 965.4 835.5 964.0C877.9 962.6 945.9 963.2 988.3 962.0C1030.7 960.8 1063.4 958.3 1090.1 956.9C1116.8 955.5 1133.4 953.2 1148.7 953.8C1164.0 954.4 1173.3 956.9 1181.8 960.5C1190.3 964.1 1195.5 970.3 1199.6 975.7C1203.7 981.1 1205.8 986.9 1206.2 993.0C1206.6 999.1 1205.3 1006.8 1202.1 1012.4C1198.9 1018.0 1195.0 1022.6 1186.9 1026.7C1178.9 1030.9 1169.9 1033.9 1153.8 1037.3C1137.7 1040.7 1117.7 1044.1 1090.1 1047.0C1062.5 1049.9 1022.2 1052.7 988.3 1054.7C954.3 1056.7 920.3 1058.0 886.4 1059.2C852.5 1060.4 818.5 1061.3 784.6 1061.8C750.7 1062.3 707.8 1063.0 682.8 1062.3C657.8 1061.6 648.8 1060.1 634.4 1057.7C620.0 1055.3 606.1 1052.2 596.2 1048.0C586.3 1043.8 579.9 1038.2 574.8 1032.8C569.7 1027.4 566.8 1021.2 565.6 1015.5C564.4 1009.8 564.7 1003.5 567.7 998.6C570.7 993.7 576.6 989.0 583.5 985.9C590.4 982.8 596.6 981.5 608.9 980.3Z" stroke="#f3d68b" stroke-width="15.0"/>
<path d="M672.8 1108.8C687.6 1107.5 705.4 1106.8 739.5 1106.1C773.6 1105.4 831.4 1105.3 877.4 1104.7C923.4 1104.1 980.8 1103.2 1015.3 1102.4C1049.8 1101.6 1067.0 1099.6 1084.2 1099.6C1101.4 1099.6 1108.7 1099.8 1118.7 1102.4C1128.7 1105.0 1136.9 1110.3 1144.0 1115.3C1151.1 1120.3 1156.8 1125.9 1161.5 1132.3C1166.2 1138.7 1170.5 1147.6 1172.5 1153.9C1174.5 1160.2 1174.5 1165.6 1173.4 1170.4C1172.3 1175.2 1170.2 1179.5 1166.1 1182.8C1162.0 1186.1 1158.4 1188.4 1148.6 1190.2C1138.8 1192.0 1129.4 1192.3 1107.2 1193.4C1085.0 1194.5 1053.6 1195.7 1015.3 1196.6C977.0 1197.5 923.4 1198.9 877.4 1198.9C831.4 1198.9 777.8 1197.3 739.5 1196.6C701.2 1195.9 669.3 1195.5 647.5 1194.8C625.7 1194.1 618.3 1194.3 608.5 1192.5C598.7 1190.7 593.1 1187.9 588.7 1184.2C584.3 1180.5 582.7 1175.2 582.3 1170.4C581.9 1165.6 582.8 1160.5 586.4 1155.2C590.0 1149.9 596.8 1144.1 603.9 1138.7C611.0 1133.3 621.3 1127.2 629.1 1123.1C636.9 1119.0 643.5 1116.3 650.8 1113.9C658.1 1111.5 658.0 1110.1 672.8 1108.8Z" stroke="#f4b98b" stroke-width="14.0"/>
<path d="M573.5 1248.3C597.7 1248.7 669.0 1250.0 718.6 1250.8C768.2 1251.6 820.4 1252.6 871.3 1252.9C922.2 1253.2 985.9 1254.1 1024.1 1252.9C1062.3 1251.7 1079.7 1247.6 1100.5 1245.8C1121.3 1244.0 1135.9 1241.5 1148.8 1242.2C1161.7 1242.9 1170.0 1245.8 1177.9 1249.8C1185.8 1253.8 1192.3 1259.8 1196.2 1266.1C1200.1 1272.4 1201.7 1280.7 1201.3 1287.5C1200.9 1294.3 1199.5 1302.0 1193.7 1306.9C1187.9 1311.8 1182.2 1313.9 1166.7 1317.0C1151.2 1320.1 1132.8 1323.1 1100.5 1325.7C1068.2 1328.3 1019.9 1331.2 973.2 1332.8C926.5 1334.4 871.3 1335.4 820.4 1335.4C769.5 1335.4 705.9 1334.1 667.7 1332.8C629.5 1331.5 609.3 1329.9 591.3 1327.7C573.3 1325.5 567.5 1323.5 559.7 1319.6C551.9 1315.7 547.3 1309.8 544.4 1304.3C541.5 1298.8 541.6 1292.4 542.4 1286.5C543.2 1280.6 546.0 1273.8 549.0 1268.7C552.0 1263.6 556.6 1259.3 560.7 1255.9C564.8 1252.5 571.4 1249.6 573.5 1248.3Z" stroke="#f2bfbe" stroke-width="14.3"/>
<path d="M593.4 1394.9C605.7 1393.7 621.0 1395.0 641.8 1393.4C662.6 1391.8 688.5 1387.7 718.2 1385.2C747.9 1382.7 777.6 1380.0 820.0 1378.6C862.4 1377.2 930.4 1377.8 972.8 1376.6C1015.2 1375.4 1047.9 1372.9 1074.6 1371.5C1101.3 1370.1 1117.9 1367.8 1133.2 1368.4C1148.5 1369.0 1157.8 1371.4 1166.3 1375.1C1174.8 1378.8 1180.0 1384.9 1184.1 1390.3C1188.2 1395.7 1190.3 1401.5 1190.7 1407.6C1191.1 1413.7 1189.8 1421.4 1186.6 1427.0C1183.4 1432.6 1179.5 1437.2 1171.4 1441.3C1163.4 1445.5 1154.4 1448.5 1138.3 1451.9C1122.2 1455.3 1102.2 1458.7 1074.6 1461.6C1047.0 1464.5 1006.8 1467.3 972.8 1469.3C938.8 1471.3 904.8 1472.6 870.9 1473.8C837.0 1475.0 803.0 1475.9 769.1 1476.4C735.2 1476.9 692.3 1477.6 667.3 1476.9C642.3 1476.2 633.3 1474.7 618.9 1472.3C604.5 1469.9 590.6 1466.8 580.7 1462.6C570.8 1458.4 564.4 1452.8 559.3 1447.4C554.2 1442.0 551.3 1435.8 550.1 1430.1C548.9 1424.4 549.2 1418.1 552.2 1413.2C555.2 1408.3 561.1 1403.5 568.0 1400.5C574.9 1397.5 581.1 1396.1 593.4 1394.9Z" stroke="#efa497" stroke-width="15.0"/>
</g>
<g fill="#000" font-size="35.3">
<text x="271.1" y="753.3" letter-spacing="0.27">5.12.2024</text>
<text x="253.8" y="898.3" letter-spacing="0.14">12.12.2024</text>
<text x="256.2" y="1020.3" letter-spacing="0.17">19.12.2024</text>
<text x="255.0" y="1172.4" letter-spacing="0.29">09.01.2025</text>
<text x="249.0" y="1315.3" letter-spacing="0.34">16.01.2025</text>
<text x="254.2" y="1445.7" letter-spacing="0.22">23.01.2025</text>
<text x="813.8" y="743.9" letter-spacing="0.33">Einführung</text>
<text x="791.9" y="888.6" letter-spacing="0.45">Ernährung</text>
<text x="601.8" y="1024.1" letter-spacing="0.24">Körperbewusstsein im Wald erleben</text>
<text x="730.3" y="1172.3" letter-spacing="0.20">Werte und Ziele</text>
<text x="587.4" y="1304.0" letter-spacing="0.12">Zielsetzung für das kommende Jahr</text>
<text x="644.6" y="1435.4" letter-spacing="0.22">Weitere Umsetzung der Ziele</text>
</g>
<!-- footer -->
<g fill="none" stroke="#e0ab4e" stroke-width="6.2" stroke-linecap="round" stroke-linejoin="round">
<path d="M-12.0 1516.5C-10.0 1517.0 -4.8 1517.9 0.0 1519.2C4.8 1520.5 11.4 1522.0 17.0 1524.3C22.6 1526.6 28.6 1529.5 33.9 1532.8C39.2 1536.1 44.2 1540.3 48.7 1544.1C53.2 1547.9 58.0 1552.0 61.1 1555.4C64.2 1558.8 66.2 1562.0 67.3 1564.5C68.4 1567.0 68.4 1568.1 67.9 1570.2C67.4 1572.3 66.4 1575.0 64.5 1576.9C62.6 1578.8 59.8 1580.5 56.6 1581.5C53.4 1582.5 49.4 1583.1 45.3 1583.2C41.1 1583.3 35.9 1582.8 31.7 1582.0C27.6 1581.2 23.6 1579.7 20.4 1578.1C17.2 1576.5 14.0 1574.1 12.4 1572.4C10.8 1570.7 10.3 1569.3 10.7 1567.9C11.1 1566.5 12.3 1564.9 14.7 1563.9C17.1 1563.0 20.9 1562.2 24.9 1562.2C28.9 1562.2 33.6 1562.9 38.5 1563.9C43.4 1565.0 49.0 1566.7 54.3 1568.5C59.6 1570.3 64.2 1572.1 70.2 1574.7C76.2 1577.3 83.3 1580.7 90.5 1584.3C97.7 1587.9 106.7 1593.0 113.2 1596.2C119.7 1599.5 126.8 1602.5 129.5 1603.8"/>
<path d="M118.2 1586.8Q125 1594 130.0 1603.8Q121 1606.8 112.2 1609.2"/>
</g>
<g fill="#333" stroke="#333" stroke-width="0.5">
<text class="b" x="144.6" y="1590.3" font-size="29.2" textLength="437.2" lengthAdjust="spacingAndGlyphs">Infos und Anmeldungen unter:</text>
<text class="b" x="767.0" y="1590.7" font-size="29.2" textLength="454.2" lengthAdjust="spacingAndGlyphs">Die Veranstaltung ist kostenlos.</text>
<text x="144.4" y="1632.3" font-size="28.6" textLength="537.5" lengthAdjust="spacingAndGlyphs" fill="#3a3a3a" stroke="#fff" stroke-width="0.75">Familienzentrum.emmaundpaul@evlka.de</text>
</g>
<!-- logos -->
<g id="emmapaul" fill="none" stroke="#6cb356" stroke-width="1.5" stroke-linecap="butt">
<path d="M83.2 1758.1L106.1 1732.9L128.9 1757.7" stroke-width="1.7" stroke-linejoin="miter"/>
<path d="M86.8 1755.5V1888.2M124 1755.5V1888.2" />
<path d="M92.6 1749V1818.5H119.6V1749" stroke-width="1.1"/>
<path d="M99.0 1740.5H113.2M95.4 1744.6H116.8M92.6 1749.5H119.6M92.6 1754.2H119.6M92.6 1759.0H119.6M92.6 1764.4H119.6M92.6 1769.2H119.6M92.6 1773.6H119.6M92.6 1778.7H119.6" stroke-width="0.9"/>
<path d="M106.1 1789.4L106.1 1786.1M110.8 1790.6L112.4 1787.8M114.2 1794.0L117.0 1792.4M115.4 1798.7L118.7 1798.7M114.2 1803.4L117.0 1805.0M110.8 1806.8L112.4 1809.6M106.1 1808.0L106.1 1811.3M101.5 1806.8L99.8 1809.6M98.0 1803.4L95.2 1805.0M96.8 1798.7L93.5 1798.7M98.0 1794.0L95.2 1792.4M101.4 1790.6L99.8 1787.8" stroke-width="1.4" opacity="0.8"/>
<path d="M106.1 1799.3V1788.0M105.6 1798.7H112.3" stroke-width="1.1"/>
<path d="M161.6 1888.2V1747.4H194.3V1888.2"/>
<path d="M177.7 1726V1747.4M170.5 1735.5H185.4" stroke-width="2.1"/>
<path d="M175.9 1726.3h3.6M170.6 1733.7v3.6M185.3 1733.7v3.6" stroke-width="0.8"/>
<path d="M166.3 1756.5h3.4v36.2h-3.4zM176.2 1756.5h3.4v36.2h-3.4zM185.4 1756.5h3.4v36.2h-3.4z" stroke-width="0.9"/>
</g>
<g fill="#6cb356" font-weight="bold">
<text font-size="14.4" transform="translate(110.3 1878.2) rotate(-90)" textLength="43" lengthAdjust="spacing">EMMA</text>
<text font-size="14.4" transform="translate(146.6 1878.2) rotate(-90)" textLength="25" lengthAdjust="spacing">und</text>
<text font-size="14.4" transform="translate(182.2 1878.2) rotate(-90)" textLength="34.5" lengthAdjust="spacing">PAUL</text>
<text font-size="13.4" x="85.6" y="1900.6" textLength="110" lengthAdjust="spacing">Familienzentrum</text>
</g>
<path d="M331.5 1906.9C328.9 1904.9 320.6 1899.2 315.6 1894.7C310.7 1890.2 306.0 1885.0 301.8 1879.9C297.6 1874.8 293.4 1869.0 290.2 1864.0C287.0 1859.0 284.4 1854.6 282.7 1850.2C281.0 1845.8 280.5 1841.3 280.1 1837.4C279.8 1833.5 279.8 1830.2 280.6 1826.8C281.4 1823.4 282.9 1819.9 284.9 1817.3C286.8 1814.7 289.5 1812.5 292.3 1810.9C295.1 1809.3 298.8 1808.1 301.8 1807.7C304.8 1807.3 307.3 1807.5 310.3 1808.3C313.3 1809.1 316.4 1810.5 319.9 1812.5C323.3 1814.5 329.1 1819.2 331.0 1820.5C332.7 1819.2 337.8 1814.5 341.1 1812.5C344.4 1810.5 347.4 1809.1 350.6 1808.3C353.8 1807.5 357.2 1807.3 360.2 1807.7C363.2 1808.1 366.0 1809.3 368.7 1810.9C371.4 1812.5 374.2 1815.0 376.1 1817.3C378.0 1819.6 379.2 1822.3 380.3 1824.7C381.4 1827.1 382.0 1830.4 382.4 1831.6L375.0 1832.1C374.5 1831.0 373.2 1827.8 371.8 1825.8C370.4 1823.8 368.4 1821.4 366.5 1819.9C364.6 1818.4 362.3 1817.3 360.2 1816.7C358.1 1816.1 356.1 1815.8 353.8 1816.2C351.5 1816.6 349.0 1817.3 346.4 1818.9C343.8 1820.5 340.5 1823.7 337.9 1825.8C335.3 1827.9 332.1 1830.6 331.0 1831.6C329.9 1830.4 326.7 1826.9 324.1 1824.7C321.5 1822.5 318.6 1819.8 315.6 1818.3C312.6 1816.8 309.1 1815.9 306.1 1815.7C303.1 1815.5 300.1 1816.2 297.6 1817.3C295.1 1818.4 292.8 1820.3 291.2 1822.6C289.6 1824.9 288.5 1828.1 288.0 1831.1C287.5 1834.1 287.5 1837.1 288.0 1840.6C288.5 1844.1 289.4 1848.0 291.2 1852.3C293.0 1856.5 295.4 1861.3 298.6 1866.1C301.8 1870.9 306.2 1876.5 310.3 1880.9C314.4 1885.3 319.5 1889.8 323.0 1892.6C326.5 1895.4 330.1 1897.0 331.5 1897.9Z" fill="#e2001a"/>
<text font-weight="bold" font-style="italic" font-size="100" transform="matrix(0.3661 0 0 0.4183 320.23 1872.18)" fill="#000" stroke="#000" stroke-width="4" stroke-linejoin="miter" letter-spacing="-3">AWO</text>
<path d="M430 1808V1907.2" stroke="#2e2e2e" stroke-width="2.1" fill="none"/>
<g fill="#2c2c2c" stroke="#2c2c2c" stroke-width="0.25">
<text font-size="19.7" x="453.4" y="1849.2" textLength="172.3" lengthAdjust="spacing">Arbeiterwohlfahrt</text>
<text font-size="22.5" x="453.0" y="1873.2" textLength="241.5" lengthAdjust="spacing">Region Hannover e.V.</text>
</g>
<g id="sm">
<path d="M824.4 1744.1A103.6 103.6 0 1 0 970.2 1890.3" fill="none" stroke="#111" stroke-width="1.4"/>
<defs><path id="smarc" d="M793.34 1799.23A100.0 100.0 0 0 1 987.06 1848.97"/></defs>
<text font-size="11.8" fill="#111" text-anchor="middle" textLength="160" lengthAdjust="spacing"><textPath href="#smarc" startOffset="50%" textLength="160" lengthAdjust="spacing">SARA MÖSSINGER</textPath></text>
<text class="serif" font-size="100" transform="matrix(1.1209 0 0 1.0657 842.61 1854.23)" fill="#0a0a0a" stroke="#fff" stroke-width="2.1">S</text>
<text class="serif" font-size="100" transform="matrix(0.7518 0 0 1.0183 884.74 1853.00)" fill="#0a0a0a">M</text>
<g fill="none" stroke="#1a1a1a" stroke-width="0.75" stroke-linejoin="round" stroke-linecap="round">
<path d="M791.3 1836.4C792.6 1837.2 797.1 1839.0 799.5 1841.2C802.0 1843.5 804.1 1847.1 806.0 1849.9C807.8 1852.6 809.0 1855.8 810.6 1857.8C812.1 1859.8 814.4 1861.1 815.2 1861.8"/>
<path d="M804.7 1857.8L822.1 1848.2L831.3 1851.1L846.1 1865.1"/>
<path d="M804.7 1857.8L815.2 1866.4L825.3 1876.5L834.5 1883.5"/>
<path d="M834.5 1883.5L846.4 1871.0L867.6 1886.1L860.2 1911.5L855.6 1905.9"/>
<path d="M834.5 1883.5L843.7 1891.2L851.9 1900.4L860.2 1911.5"/>
<path d="M806.0 1859.6L816.1 1868.2L826.2 1878.7L833.2 1884.6"/>
<path d="M807.8 1856.7L823.4 1849.9L829.9 1852.6"/>
<path d="M833.2 1884.6L842.7 1893.1L851.9 1903.2L857.5 1909.6"/>
<path d="M846.1 1865.1L843.7 1873.8L834.5 1883.5"/>
<path d="M815.2 1858.1L828.0 1850.8L840.9 1863.6L837.2 1876.5"/>
<path d="M846.4 1873.8L865.7 1887.6L859.3 1905.9"/>
<path d="M843.7 1879.3L851.9 1881.1L853.8 1885.7L855.6 1882.0"/>
<path d="M851.9 1885.7L852.9 1894.9"/>
<path d="M860.2 1905.9C861.4 1906.4 865.1 1907.2 867.6 1908.7C870.0 1910.2 872.8 1912.7 874.9 1915.1C877.1 1917.6 879.5 1922.0 880.4 1923.4"/>
<path d="M825.3 1861.8C825.8 1861.4 827.5 1859.1 828.4 1859.2C829.3 1859.4 830.0 1862.5 830.8 1862.7C831.6 1862.9 832.4 1860.1 833.2 1860.3C833.9 1860.6 835.5 1863.0 835.4 1864.0C835.3 1865.0 833.9 1866.3 832.6 1866.4C831.4 1866.5 828.8 1864.9 828.0 1864.6" stroke-width="0.9"/>
<ellipse cx="974.6" cy="1815.0" rx="8.6" ry="10.2"/>
<circle cx="974.0" cy="1817.6" r="4.3"/>
<path d="M974.2 1826.9C974.4 1829.0 975.0 1835.5 975.5 1839.7C976.0 1844.0 976.7 1848.8 977.0 1852.6C977.3 1856.4 977.3 1861.0 977.3 1862.7"/>
<path d="M973.3 1831.5C972.1 1832.1 968.0 1833.6 965.9 1835.1C963.9 1836.7 961.1 1839.0 960.8 1840.7C960.5 1842.3 962.3 1844.6 964.1 1845.3C965.9 1845.9 969.2 1844.8 971.5 1844.3C973.8 1843.9 976.8 1842.8 977.9 1842.5"/>
<path d="M971.5 1828.7C972.8 1829.9 978.2 1833.0 979.7 1836.1C981.3 1839.1 981.4 1842.8 980.6 1847.1C979.9 1851.4 976.1 1859.4 975.1 1861.8"/>
<path d="M972.4 1851.7C973.0 1850.9 973.8 1848.1 976.1 1847.1C978.4 1846.1 983.1 1846.1 986.2 1845.8C989.2 1845.5 993.1 1845.4 994.4 1845.3"/>
</g></g>
<g id="verbunt">
<g transform="translate(1140 1710) scale(0.07779)">
<defs><clipPath id="handclip"><path d="M175.0 608.0C193.3 603.8 227.5 611.3 250.0 625.0C272.5 638.7 293.3 664.2 310.0 690.0C326.7 715.8 338.3 753.3 350.0 780.0C361.7 806.7 368.3 832.5 380.0 850.0C391.7 867.5 406.7 883.3 420.0 885.0C433.3 886.7 450.0 877.5 460.0 860.0C470.0 842.5 478.3 815.0 480.0 780.0C481.7 745.0 476.7 693.3 470.0 650.0C463.3 606.7 447.5 558.3 440.0 520.0C432.5 481.7 425.0 451.7 425.0 420.0C425.0 388.3 429.2 354.2 440.0 330.0C450.8 305.8 472.5 281.7 490.0 275.0C507.5 268.3 530.8 275.8 545.0 290.0C559.2 304.2 566.7 328.3 575.0 360.0C583.3 391.7 589.2 440.0 595.0 480.0C600.8 520.0 604.2 561.7 610.0 600.0C615.8 638.3 622.5 685.0 630.0 710.0C637.5 735.0 646.7 750.0 655.0 750.0C663.3 750.0 675.0 741.7 680.0 710.0C685.0 678.3 684.2 620.0 685.0 560.0C685.8 500.0 682.5 406.7 685.0 350.0C687.5 293.3 692.5 253.3 700.0 220.0C707.5 186.7 719.2 165.3 730.0 150.0C740.8 134.7 752.5 128.0 765.0 128.0C777.5 128.0 793.3 134.7 805.0 150.0C816.7 165.3 828.3 190.0 835.0 220.0C841.7 250.0 844.2 283.3 845.0 330.0C845.8 376.7 841.7 448.3 840.0 500.0C838.3 551.7 836.7 600.0 835.0 640.0C833.3 680.0 826.7 717.5 830.0 740.0C833.3 762.5 845.0 773.3 855.0 775.0C865.0 776.7 879.2 772.5 890.0 750.0C900.8 727.5 910.8 681.7 920.0 640.0C929.2 598.3 937.5 540.0 945.0 500.0C952.5 460.0 955.8 425.8 965.0 400.0C974.2 374.2 987.5 355.8 1000.0 345.0C1012.5 334.2 1026.7 331.7 1040.0 335.0C1053.3 338.3 1070.8 349.2 1080.0 365.0C1089.2 380.8 1095.0 397.5 1095.0 430.0C1095.0 462.5 1087.5 518.3 1080.0 560.0C1072.5 601.7 1058.3 640.0 1050.0 680.0C1041.7 720.0 1030.8 770.8 1030.0 800.0C1029.2 829.2 1036.7 850.0 1045.0 855.0C1053.3 860.0 1067.5 850.8 1080.0 830.0C1092.5 809.2 1105.8 760.0 1120.0 730.0C1134.2 700.0 1149.2 669.2 1165.0 650.0C1180.8 630.8 1200.8 617.5 1215.0 615.0C1229.2 612.5 1244.2 622.5 1250.0 635.0C1255.8 647.5 1255.0 662.5 1250.0 690.0C1245.0 717.5 1230.8 761.7 1220.0 800.0C1209.2 838.3 1195.0 878.3 1185.0 920.0C1175.0 961.7 1169.2 1006.7 1160.0 1050.0C1150.8 1093.3 1140.0 1145.0 1130.0 1180.0C1120.0 1215.0 1109.2 1242.2 1100.0 1260.0C1090.8 1277.8 1083.7 1287.8 1075.0 1287.0C1066.3 1286.2 1060.5 1269.5 1048.0 1255.0C1035.5 1240.5 1022.2 1213.8 1000.0 1200.0C977.8 1186.2 940.0 1178.7 915.0 1172.0C890.0 1165.3 875.8 1164.5 850.0 1160.0C824.2 1155.5 785.0 1141.7 760.0 1145.0C735.0 1148.3 720.0 1169.2 700.0 1180.0C680.0 1190.8 658.3 1196.7 640.0 1210.0C621.7 1223.3 605.8 1245.8 590.0 1260.0C574.2 1274.2 550.0 1271.7 545.0 1295.0C540.0 1318.3 554.5 1371.7 560.0 1400.0C565.5 1428.3 578.0 1450.5 578.0 1465.0C578.0 1479.5 569.7 1484.5 560.0 1487.0C550.3 1489.5 538.3 1487.8 520.0 1480.0C501.7 1472.2 471.7 1458.3 450.0 1440.0C428.3 1421.7 406.7 1395.0 390.0 1370.0C373.3 1345.0 361.7 1318.3 350.0 1290.0C338.3 1261.7 330.0 1235.0 320.0 1200.0C310.0 1165.0 300.0 1120.0 290.0 1080.0C280.0 1040.0 270.0 993.3 260.0 960.0C250.0 926.7 244.2 908.3 230.0 880.0C215.8 851.7 190.0 818.3 175.0 790.0C160.0 761.7 145.8 733.3 140.0 710.0C134.2 686.7 134.2 667.0 140.0 650.0C145.8 633.0 156.7 612.2 175.0 608.0Z"/></clipPath></defs>
<g clip-path="url(#handclip)">
<rect x="0" y="0" width="1414" height="1543" fill="#a01382"/>
<path d="M0 830C16.7 815.0 64.2 776.7 100.0 740.0C135.8 703.3 176.7 650.0 215.0 610.0C253.3 570.0 295.0 533.3 330.0 500.0C365.0 466.7 385.0 441.7 425.0 410.0C465.0 378.3 525.8 335.0 570.0 310.0C614.2 285.0 645.0 272.5 690.0 260.0C735.0 247.5 788.3 235.0 840.0 235.0C891.7 235.0 904.3 229.2 1000.0 260.0C1095.7 290.8 1345.0 393.3 1414.0 420.0L1414 1600L0 1600Z" fill="#4a6c9c"/>
<path d="M0 835C16.7 820.0 64.2 781.7 100.0 745.0C135.8 708.3 178.3 652.5 215.0 615.0C251.7 577.5 284.2 549.2 320.0 520.0C355.8 490.8 386.7 464.2 430.0 440.0C473.3 415.8 537.5 390.0 580.0 375.0C622.5 360.0 640.8 355.0 685.0 350.0C729.2 345.0 794.2 343.3 845.0 345.0C895.8 346.7 950.0 353.3 990.0 360.0C1030.0 366.7 1014.3 358.3 1085.0 385.0C1155.7 411.7 1359.2 497.5 1414.0 520.0L1414 1600L0 1600Z" fill="#ffe600"/>
<path d="M0 900C27.5 875.8 118.3 797.5 165.0 755.0C211.7 712.5 245.8 673.3 280.0 645.0C314.2 616.7 341.7 601.7 370.0 585.0C398.3 568.3 411.7 557.5 450.0 545.0C488.3 532.5 560.8 516.7 600.0 510.0C639.2 503.3 645.0 505.8 685.0 505.0C725.0 504.2 796.7 500.8 840.0 505.0C883.3 509.2 905.8 517.5 945.0 530.0C984.2 542.5 1037.5 559.2 1075.0 580.0C1112.5 600.8 1141.7 635.0 1170.0 655.0C1198.3 675.0 1204.3 675.8 1245.0 700.0C1285.7 724.2 1385.8 783.3 1414.0 800.0L1414 1600L0 1600Z" fill="#009aab"/>
<path d="M0 1100C41.7 1068.3 190.8 960.0 250.0 910.0C309.2 860.0 326.7 828.3 355.0 800.0C383.3 771.7 399.2 756.7 420.0 740.0C440.8 723.3 448.3 715.8 480.0 700.0C511.7 684.2 575.0 656.7 610.0 645.0C645.0 633.3 652.5 634.2 690.0 630.0C727.5 625.8 795.8 620.8 835.0 620.0C874.2 619.2 889.2 618.3 925.0 625.0C960.8 631.7 1014.2 647.5 1050.0 660.0C1085.8 672.5 1109.2 684.2 1140.0 700.0C1170.8 715.8 1189.3 728.3 1235.0 755.0C1280.7 781.7 1384.2 842.5 1414.0 860.0L1414 1600L0 1600Z" fill="#c8102e"/>
<path d="M200 1500C223.3 1461.7 306.7 1336.7 340.0 1270.0C373.3 1203.3 370.0 1156.7 400.0 1100.0C430.0 1043.3 480.0 975.0 520.0 930.0C560.0 885.0 593.3 855.8 640.0 830.0C686.7 804.2 756.7 785.8 800.0 775.0C843.3 764.2 861.7 770.0 900.0 765.0C938.3 760.0 995.0 744.2 1030.0 745.0C1065.0 745.8 1079.2 758.3 1110.0 770.0C1140.8 781.7 1164.3 793.3 1215.0 815.0C1265.7 836.7 1380.8 885.8 1414.0 900.0L1414 1600L0 1600Z" fill="#fbba00"/>
<path d="M300 1550C323.3 1513.3 408.3 1391.7 440.0 1330.0C471.7 1268.3 470.0 1223.3 490.0 1180.0C510.0 1136.7 533.3 1105.0 560.0 1070.0C586.7 1035.0 626.7 993.3 650.0 970.0C673.3 946.7 671.7 945.0 700.0 930.0C728.3 915.0 770.0 891.7 820.0 880.0C870.0 868.3 939.2 859.2 1000.0 860.0C1060.8 860.8 1116.0 870.0 1185.0 885.0C1254.0 900.0 1375.8 939.2 1414.0 950.0L1414 1600L0 1600Z" fill="#a9c20e"/>
</g>
<g fill="none" stroke="#fff" stroke-linecap="round" stroke-linejoin="round">
<path d="M448 1025L520 1180L610 1340" stroke-width="82"/>
<path d="M556 832L640 1010L730 1240" stroke-width="78"/>
<path d="M752 862L790 1020L840 1250" stroke-width="92"/>
<path d="M1012 992L995 1100L990 1260" stroke-width="88"/>
<path d="M398 1242L480 1330L575 1420" stroke-width="78"/>
</g>
<path d="M600 1300L720 1230L850 1230L1000 1230L1060 1290L1000 1500L640 1520Z" fill="#fff"/>
</g>
<text  font-size="100" transform="matrix(0.3863 0 0 0.5464 1097.01 1884.60)" fill="#c8102e" stroke="#c8102e" stroke-width="6.5" stroke-linejoin="round">V</text>
<text  font-size="100" transform="matrix(0.4383 0 0 0.4291 1126.55 1874.77)" fill="#c8102e" stroke="#c8102e" stroke-width="6.5" stroke-linejoin="round">e</text>
<text  font-size="100" transform="matrix(0.6960 0 0 0.6389 1147.98 1886.10)" fill="#c8102e" stroke="#c8102e" stroke-width="6.5" stroke-linejoin="round">r</text>
<text  font-size="100" transform="matrix(0.4378 0 0 0.5347 1170.65 1884.07)" fill="#c8102e" stroke="#c8102e" stroke-width="6.5" stroke-linejoin="round">b</text>
<text  font-size="100" transform="matrix(0.4561 0 0 0.5043 1194.98 1882.50)" fill="#c8102e" stroke="#c8102e" stroke-width="6.5" stroke-linejoin="round">U</text>
<text  font-size="100" transform="matrix(0.4214 0 0 0.5913 1226.93 1887.70)" fill="#c8102e" stroke="#c8102e" stroke-width="6.5" stroke-linejoin="round">N</text>
<path d="M1259.3 1846.2L1299.6 1842.5L1298.5 1850.6L1279.0 1853.4L1277.5 1888.4L1267.7 1888.4L1268.9 1854.0L1260.4 1854.9Z" fill="#fff" stroke="#c8102e" stroke-width="1.7" stroke-linejoin="round"/>
<text font-size="11.6" x="1095.6" y="1908.1" fill="#cf2a45" textLength="204.3" lengthAdjust="spacingAndGlyphs">Gemeinwesenarbeit in Langenhagen</text>
</g>
</g>
</svg>
</body>
</html>
